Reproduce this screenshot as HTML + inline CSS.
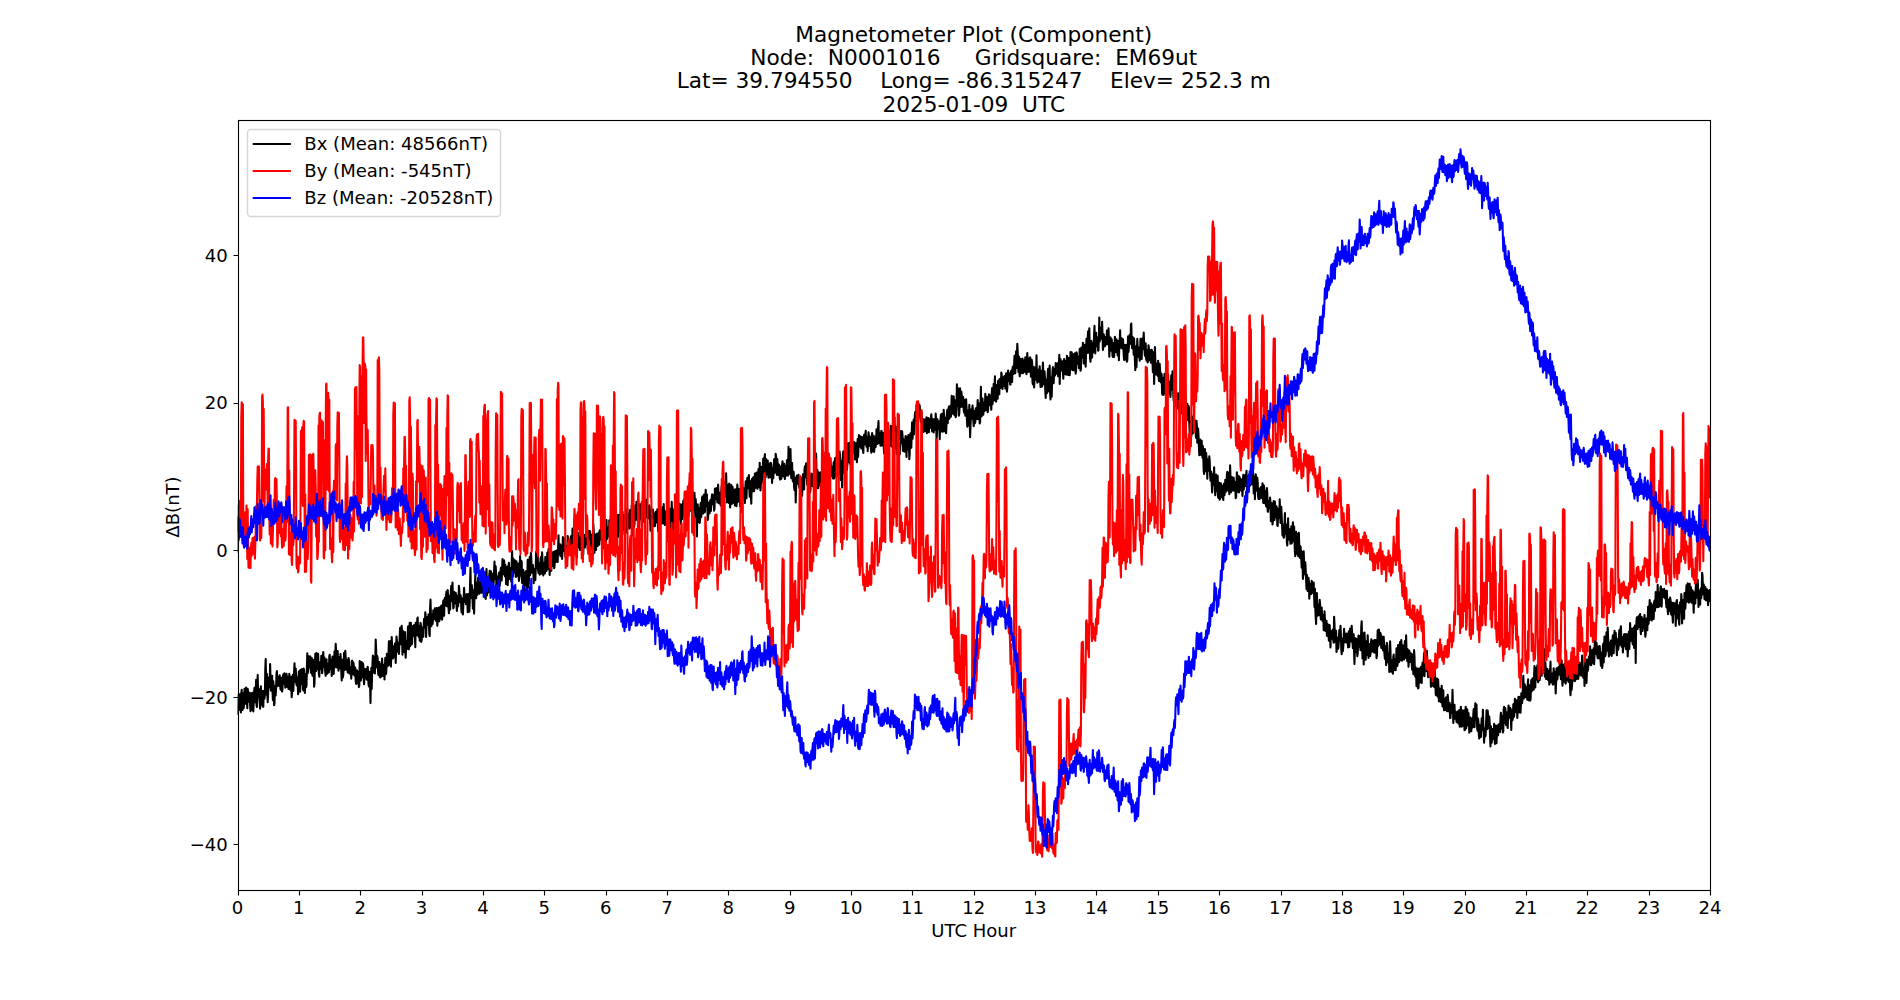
<!DOCTYPE html>
<html lang="en"><head><meta charset="utf-8"><title>Magnetometer Plot (Component)</title>
<style>html,body{margin:0;padding:0;background:#fff}svg{display:block}text{font-family:"DejaVu Sans","Liberation Sans",sans-serif;fill:#000}</style></head><body>
<svg width="1900" height="1000" viewBox="0 0 1900 1000">
<rect width="1900" height="1000" fill="#fff"/>
<defs><clipPath id="ax"><rect x="237.5" y="120.0" width="1472.5" height="770.0"/></clipPath></defs>
<g clip-path="url(#ax)" fill="none" stroke-width="2.083" stroke-linejoin="round" stroke-linecap="butt">
<path stroke="#000" d="M237.7 715.0L238.1 705.9L238.5 694.5L238.9 710.1L239.3 708.0L239.7 699.7L240.1 694.1L240.5 701.3L240.9 712.5L241.3 693.7L241.7 689.7L242.1 703.5L242.5 710.0L242.9 696.3L243.3 693.2L243.7 708.2L244.1 702.8L244.5 688.7L244.9 694.5L245.3 703.7L245.7 700.7L246.1 687.5L246.5 693.0L246.9 700.9L247.3 708.3L247.7 688.9L248.1 692.1L248.5 701.1L248.9 701.6L249.3 695.3L249.7 692.9L250.1 704.1L250.5 711.1L250.9 693.5L251.3 693.5L251.7 709.9L252.1 701.5L252.5 692.9L252.9 696.3L253.3 711.5L253.7 703.6L254.1 691.8L254.5 687.9L254.9 700.0L255.3 702.2L255.7 694.1L256.1 679.8L256.5 704.3L256.9 707.0L257.3 697.2L257.7 674.9L258.1 691.8L258.5 697.2L258.9 692.2L259.3 689.3L259.7 701.8L260.1 708.7L260.5 698.0L260.9 686.3L261.3 702.0L261.7 705.0L262.1 690.9L262.5 691.0L262.9 706.8L263.3 706.7L263.7 691.0L264.1 690.9L264.5 698.7L264.9 694.6L265.3 668.5L265.7 659.1L266.1 677.9L266.5 694.6L266.9 673.7L267.3 689.6L267.7 702.2L268.1 694.2L268.5 679.1L268.9 677.3L269.3 687.5L269.7 684.4L270.1 664.1L270.5 676.3L270.9 690.6L271.3 686.5L271.7 676.6L272.1 675.9L272.5 689.4L272.9 700.2L273.3 681.2L273.7 687.9L274.1 705.3L274.5 703.8L274.9 686.4L275.3 686.2L275.7 695.4L276.1 687.7L276.5 673.9L276.9 671.1L277.3 686.1L277.7 685.7L278.1 680.0L278.5 676.8L278.9 684.5L279.3 686.0L279.7 675.2L280.1 680.7L280.5 689.4L280.9 689.8L281.3 679.6L281.7 677.7L282.1 691.5L282.5 688.5L282.9 676.4L283.3 674.2L283.7 683.9L284.1 683.8L284.5 673.4L284.9 676.7L285.3 687.7L285.7 683.6L286.1 675.3L286.5 673.7L286.9 686.6L287.3 686.9L287.7 676.7L288.1 678.4L288.5 688.9L288.9 683.7L289.3 673.8L289.7 677.7L290.1 688.7L290.5 690.1L290.9 676.9L291.3 685.8L291.7 697.3L292.1 690.2L292.5 677.4L292.9 674.9L293.3 690.9L293.7 680.8L294.1 672.2L294.5 663.3L294.9 680.6L295.3 682.1L295.7 668.5L296.1 674.4L296.5 684.6L296.9 685.6L297.3 677.1L297.7 682.5L298.1 694.2L298.5 686.4L298.9 671.7L299.3 671.3L299.7 679.1L300.1 691.7L300.5 669.7L300.9 673.7L301.3 683.9L301.7 680.4L302.1 669.1L302.5 678.8L302.9 688.9L303.3 690.6L303.7 668.6L304.1 670.5L304.5 684.0L304.9 693.0L305.3 675.1L305.7 674.1L306.1 687.2L306.5 685.5L306.9 667.7L307.3 653.2L307.7 673.5L308.1 669.8L308.5 656.4L308.9 658.6L309.3 665.5L309.7 667.7L310.1 656.4L310.5 664.2L310.9 672.4L311.3 673.1L311.7 657.7L312.1 664.4L312.5 675.7L312.9 672.5L313.3 659.9L313.7 663.2L314.1 686.7L314.5 683.5L314.9 665.1L315.3 653.8L315.7 666.8L316.1 671.0L316.5 653.0L316.9 661.1L317.3 669.3L317.7 665.5L318.1 653.9L318.5 663.5L318.9 674.1L319.3 676.7L319.7 664.9L320.1 662.3L320.5 668.9L320.9 668.7L321.3 655.8L321.7 659.6L322.1 673.2L322.5 670.2L322.9 655.8L323.3 652.0L323.7 665.7L324.1 666.6L324.5 657.6L324.9 666.3L325.3 672.8L325.7 675.8L326.1 665.3L326.5 659.4L326.9 671.1L327.3 673.7L327.7 665.3L328.1 663.7L328.5 671.4L328.9 672.3L329.3 656.0L329.7 654.8L330.1 665.8L330.5 669.2L330.9 659.6L331.3 665.4L331.7 676.0L332.1 668.8L332.5 656.6L332.9 657.5L333.3 670.0L333.7 673.9L334.1 661.2L334.5 651.2L334.9 667.4L335.3 654.7L335.7 643.7L336.1 650.9L336.5 660.5L336.9 667.5L337.3 656.9L337.7 651.1L338.1 663.5L338.5 670.7L338.9 660.1L339.3 657.1L339.7 668.3L340.1 664.2L340.5 654.1L340.9 659.9L341.3 671.5L341.7 680.4L342.1 664.1L342.5 659.8L342.9 677.4L343.3 674.6L343.7 664.3L344.1 652.7L344.5 669.9L344.9 663.6L345.3 650.9L345.7 658.3L346.1 667.5L346.5 669.7L346.9 660.0L347.3 663.8L347.7 672.4L348.1 671.7L348.5 658.0L348.9 659.4L349.3 673.4L349.7 673.4L350.1 667.1L350.5 667.1L350.9 674.5L351.3 678.6L351.7 661.3L352.1 660.7L352.5 674.1L352.9 674.2L353.3 662.4L353.7 664.0L354.1 673.1L354.5 675.5L354.9 667.4L355.3 668.4L355.7 681.2L356.1 683.9L356.5 675.1L356.9 670.3L357.3 681.8L357.7 683.1L358.1 671.9L358.5 680.1L358.9 687.1L359.3 685.5L359.7 661.1L360.1 666.8L360.5 674.4L360.9 680.6L361.3 662.1L361.7 662.1L362.1 673.8L362.5 677.2L362.9 663.3L363.3 665.4L363.7 678.7L364.1 684.3L364.5 675.7L364.9 669.0L365.3 678.3L365.7 678.2L366.1 672.8L366.5 668.7L366.9 679.6L367.3 677.3L367.7 666.7L368.1 671.5L368.5 683.9L368.9 686.4L369.3 671.8L369.7 675.1L370.1 685.8L370.5 703.1L370.9 677.4L371.3 668.1L371.7 688.9L372.1 674.5L372.5 663.3L372.9 655.6L373.3 666.5L373.7 672.5L374.1 657.2L374.5 659.2L374.9 673.4L375.3 660.0L375.7 639.5L376.1 649.4L376.5 661.3L376.9 667.5L377.3 656.1L377.7 658.6L378.1 672.8L378.5 675.2L378.9 663.8L379.3 662.1L379.7 668.6L380.1 677.5L380.5 664.3L380.9 670.3L381.3 676.6L381.7 673.3L382.1 658.5L382.5 666.5L382.9 675.6L383.3 675.9L383.7 666.3L384.1 664.8L384.5 679.5L384.9 668.1L385.3 657.9L385.7 658.8L386.1 673.9L386.5 667.7L386.9 653.8L387.3 656.0L387.7 665.7L388.1 665.7L388.5 654.5L388.9 641.4L389.3 660.1L389.7 664.8L390.1 646.4L390.5 641.0L390.9 666.6L391.3 655.7L391.7 637.1L392.1 646.6L392.5 656.5L392.9 658.5L393.3 648.1L393.7 646.3L394.1 657.1L394.5 652.2L394.9 643.5L395.3 644.0L395.7 662.9L396.1 650.7L396.5 636.6L396.9 640.7L397.3 651.8L397.7 651.6L398.1 644.9L398.5 643.1L398.9 653.9L399.3 646.8L399.7 637.0L400.1 627.8L400.5 644.3L400.9 642.8L401.3 630.0L401.7 625.7L402.1 640.6L402.5 654.7L402.9 630.9L403.3 639.8L403.7 651.9L404.1 642.1L404.5 635.6L404.9 632.0L405.3 650.4L405.7 657.6L406.1 646.5L406.5 640.8L406.9 649.1L407.3 643.8L407.7 632.9L408.1 626.2L408.5 647.1L408.9 649.2L409.3 632.5L409.7 622.8L410.1 646.3L410.5 633.7L410.9 622.7L411.3 631.9L411.7 644.4L412.1 642.8L412.5 630.1L412.9 626.0L413.3 635.9L413.7 634.7L414.1 625.0L414.5 627.2L414.9 635.9L415.3 647.2L415.7 622.7L416.1 623.1L416.5 635.3L416.9 629.2L417.3 618.7L417.7 617.6L418.1 632.8L418.5 636.7L418.9 625.8L419.3 629.5L419.7 640.6L420.1 636.1L420.5 622.8L420.9 625.1L421.3 641.9L421.7 639.7L422.1 630.9L422.5 627.5L422.9 635.1L423.3 636.7L423.7 625.5L424.1 618.8L424.5 627.5L424.9 626.6L425.3 612.3L425.7 617.0L426.1 637.0L426.5 625.4L426.9 617.5L427.3 617.1L427.7 624.8L428.1 623.1L428.5 614.3L428.9 619.0L429.3 634.2L429.7 635.9L430.1 608.2L430.5 599.6L430.9 613.7L431.3 626.2L431.7 614.6L432.1 615.3L432.5 624.2L432.9 621.3L433.3 610.4L433.7 611.2L434.1 618.8L434.5 617.8L434.9 608.3L435.3 610.9L435.7 620.6L436.1 617.5L436.5 608.1L436.9 608.0L437.3 625.8L437.7 621.1L438.1 609.6L438.5 607.7L438.9 615.0L439.3 621.2L439.7 607.2L440.1 607.4L440.5 615.6L440.9 618.8L441.3 605.5L441.7 606.0L442.1 619.6L442.5 614.4L442.9 605.5L443.3 600.6L443.7 612.5L444.1 615.8L444.5 600.4L444.9 597.7L445.3 605.5L445.7 604.3L446.1 594.4L446.5 591.6L446.9 606.3L447.3 605.0L447.7 590.1L448.1 596.2L448.5 607.7L448.9 613.2L449.3 596.0L449.7 597.8L450.1 609.7L450.5 599.4L450.9 590.0L451.3 585.8L451.7 599.5L452.1 601.1L452.5 582.6L452.9 598.6L453.3 608.5L453.7 607.3L454.1 591.8L454.5 593.5L454.9 603.5L455.3 602.9L455.7 592.9L456.1 595.8L456.5 604.9L456.9 611.0L457.3 598.9L457.7 595.6L458.1 606.4L458.5 601.1L458.9 585.8L459.3 589.8L459.7 599.8L460.1 601.9L460.5 595.1L460.9 597.2L461.3 609.2L461.7 612.5L462.1 601.6L462.5 598.6L462.9 614.4L463.3 606.1L463.7 596.9L464.1 587.7L464.5 600.6L464.9 602.0L465.3 594.6L465.7 594.7L466.1 604.1L466.5 601.5L466.9 594.0L467.3 599.6L467.7 612.2L468.1 605.4L468.5 594.0L468.9 602.5L469.3 611.8L469.7 602.8L470.1 582.4L470.5 567.7L470.9 597.5L471.3 597.8L471.7 584.9L472.1 588.6L472.5 598.3L472.9 608.8L473.3 590.4L473.7 591.0L474.1 613.6L474.5 595.1L474.9 586.4L475.3 574.3L475.7 591.4L476.1 598.3L476.5 582.8L476.9 584.6L477.3 594.9L477.7 591.1L478.1 577.5L478.5 581.1L478.9 591.3L479.3 593.6L479.7 585.8L480.1 581.9L480.5 590.8L480.9 592.7L481.3 584.0L481.7 576.9L482.1 592.8L482.5 590.3L482.9 582.7L483.3 581.3L483.7 589.9L484.1 593.4L484.5 581.3L484.9 588.2L485.3 598.1L485.7 598.9L486.1 584.9L486.5 569.0L486.9 595.5L487.3 591.8L487.7 584.5L488.1 579.2L488.5 592.4L488.9 591.9L489.3 575.2L489.7 570.8L490.1 585.1L490.5 587.2L490.9 571.3L491.3 574.2L491.7 585.1L492.1 591.3L492.5 573.8L492.9 579.1L493.3 586.1L493.7 582.3L494.1 570.6L494.5 561.5L494.9 578.0L495.3 578.9L495.7 566.3L496.1 574.3L496.5 590.9L496.9 590.9L497.3 576.6L497.7 580.2L498.1 586.6L498.5 584.0L498.9 573.8L499.3 572.4L499.7 585.8L500.1 582.6L500.5 572.4L500.9 567.8L501.3 579.5L501.7 580.5L502.1 569.9L502.5 559.1L502.9 574.4L503.3 571.5L503.7 561.2L504.1 560.4L504.5 570.1L504.9 576.2L505.3 564.7L505.7 569.9L506.1 584.2L506.5 574.9L506.9 566.9L507.3 566.8L507.7 585.1L508.1 576.8L508.5 566.6L508.9 562.9L509.3 575.8L509.7 578.9L510.1 567.9L510.5 568.0L510.9 579.0L511.3 581.6L511.7 563.0L512.1 551.0L512.5 571.2L512.9 576.7L513.3 558.6L513.7 562.8L514.1 572.7L514.5 571.0L514.9 560.2L515.3 564.8L515.7 576.7L516.1 577.0L516.5 561.4L516.9 568.3L517.3 575.6L517.7 575.3L518.1 563.6L518.5 569.7L518.9 580.9L519.3 578.7L519.7 568.3L520.1 556.0L520.5 575.7L520.9 573.0L521.3 560.9L521.7 561.4L522.1 582.9L522.5 580.3L522.9 569.5L523.3 570.1L523.7 589.0L524.1 594.5L524.5 576.5L524.9 572.6L525.3 585.2L525.7 583.8L526.1 571.1L526.5 580.3L526.9 593.3L527.3 580.7L527.7 559.7L528.1 573.2L528.5 587.5L528.9 581.1L529.3 568.8L529.7 557.1L530.1 575.3L530.5 569.9L530.9 553.0L531.3 558.2L531.7 572.6L532.1 572.4L532.5 565.6L532.9 565.1L533.3 571.9L533.7 583.2L534.1 568.7L534.5 571.8L534.9 580.3L535.3 580.3L535.7 569.6L536.1 551.8L536.5 562.9L536.9 568.1L537.3 558.2L537.7 553.0L538.1 570.1L538.5 573.0L538.9 564.1L539.3 563.3L539.7 574.7L540.1 573.0L540.5 559.2L540.9 557.1L541.3 573.8L541.7 562.8L542.1 552.3L542.5 560.0L542.9 567.2L543.3 575.5L543.7 564.8L544.1 562.7L544.5 572.8L544.9 573.5L545.3 557.1L545.7 559.5L546.1 569.4L546.5 571.0L546.9 565.8L547.3 552.8L547.7 569.1L548.1 565.2L548.5 549.1L548.9 559.4L549.3 564.9L549.7 574.9L550.1 557.0L550.5 547.7L550.9 560.3L551.3 570.7L551.7 553.0L552.1 555.1L552.5 566.0L552.9 565.2L553.3 551.9L553.7 552.0L554.1 568.1L554.5 566.9L554.9 553.7L555.3 551.0L555.7 562.1L556.1 560.8L556.5 551.1L556.9 550.4L557.3 554.8L557.7 561.9L558.1 547.7L558.5 535.3L558.9 554.1L559.3 553.4L559.7 544.5L560.1 544.3L560.5 556.1L560.9 554.3L561.3 545.6L561.7 547.7L562.1 559.0L562.5 551.1L562.9 537.0L563.3 541.2L563.7 550.9L564.1 550.8L564.5 538.9L564.9 544.2L565.3 555.0L565.7 557.4L566.1 548.9L566.5 546.1L566.9 562.5L567.3 553.7L567.7 536.1L568.1 539.4L568.5 551.4L568.9 552.0L569.3 539.8L569.7 545.0L570.1 552.5L570.5 545.9L570.9 536.5L571.3 536.1L571.7 542.6L572.1 546.3L572.5 528.6L572.9 532.1L573.3 551.1L573.7 547.1L574.1 540.8L574.5 532.5L574.9 545.6L575.3 547.1L575.7 538.0L576.1 540.7L576.5 556.3L576.9 557.5L577.3 547.4L577.7 541.6L578.1 547.1L578.5 545.2L578.9 536.1L579.3 532.5L579.7 548.0L580.1 550.0L580.5 539.2L580.9 527.9L581.3 547.9L581.7 543.1L582.1 530.3L582.5 532.9L582.9 547.6L583.3 554.4L583.7 536.5L584.1 534.8L584.5 545.5L584.9 547.5L585.3 538.6L585.7 534.7L586.1 544.3L586.5 541.2L586.9 528.0L587.3 537.8L587.7 548.7L588.1 550.6L588.5 536.4L588.9 530.8L589.3 543.1L589.7 544.3L590.1 531.3L590.5 537.8L590.9 548.3L591.3 547.1L591.7 535.3L592.1 534.7L592.5 550.5L592.9 545.5L593.3 523.8L593.7 530.6L594.1 552.9L594.5 552.7L594.9 534.9L595.3 536.3L595.7 547.1L596.1 549.9L596.5 533.8L596.9 535.1L597.3 543.7L597.7 545.9L598.1 535.9L598.5 532.9L598.9 544.8L599.3 544.3L599.7 530.4L600.1 530.6L600.5 539.6L600.9 538.9L601.3 529.7L601.7 520.6L602.1 539.0L602.5 540.9L602.9 530.6L603.3 534.9L603.7 543.3L604.1 548.3L604.5 529.8L604.9 534.3L605.3 542.6L605.7 550.8L606.1 536.2L606.5 520.1L606.9 539.2L607.3 536.2L607.7 528.0L608.1 527.4L608.5 536.8L608.9 535.7L609.3 520.3L609.7 522.7L610.1 533.6L610.5 533.4L610.9 517.0L611.3 514.4L611.7 531.3L612.1 541.2L612.5 526.2L612.9 521.6L613.3 537.0L613.7 537.6L614.1 527.2L614.5 518.2L614.9 535.8L615.3 533.9L615.7 525.0L616.1 526.6L616.5 533.7L616.9 532.8L617.3 523.7L617.7 515.1L618.1 537.0L618.5 527.4L618.9 514.8L619.3 522.9L619.7 531.5L620.1 531.0L620.5 521.0L620.9 512.4L621.3 532.9L621.7 529.6L622.1 519.4L622.5 511.7L622.9 527.2L623.3 529.5L623.7 520.1L624.1 515.1L624.5 534.0L624.9 534.3L625.3 524.2L625.7 516.9L626.1 532.5L626.5 524.9L626.9 513.6L627.3 508.4L627.7 527.1L628.1 526.9L628.5 513.9L628.9 517.1L629.3 528.6L629.7 527.6L630.1 510.0L630.5 509.9L630.9 526.0L631.3 527.8L631.7 505.7L632.1 521.2L632.5 532.7L632.9 535.2L633.3 519.8L633.7 517.4L634.1 526.8L634.5 524.0L634.9 517.0L635.3 505.5L635.7 520.0L636.1 518.6L636.5 501.8L636.9 506.4L637.3 516.0L637.7 520.7L638.1 499.6L638.5 514.3L638.9 527.7L639.3 523.9L639.7 506.8L640.1 504.4L640.5 518.9L640.9 519.3L641.3 505.9L641.7 503.6L642.1 516.1L642.5 516.6L642.9 502.2L643.3 509.7L643.7 521.6L644.1 519.2L644.5 505.3L644.9 508.0L645.3 516.1L645.7 514.5L646.1 499.5L646.5 505.6L646.9 514.5L647.3 518.1L647.7 510.7L648.1 507.3L648.5 518.5L648.9 517.1L649.3 505.4L649.7 507.3L650.1 518.4L650.5 530.6L650.9 510.3L651.3 515.0L651.7 526.7L652.1 521.0L652.5 517.0L652.9 509.5L653.3 519.7L653.7 526.1L654.1 515.6L654.5 513.6L654.9 526.1L655.3 519.1L655.7 511.7L656.1 512.4L656.5 520.8L656.9 522.6L657.3 509.2L657.7 518.1L658.1 530.9L658.5 525.8L658.9 520.5L659.3 512.6L659.7 522.4L660.1 522.7L660.5 512.1L660.9 511.5L661.3 520.9L661.7 523.4L662.1 509.8L662.5 507.2L662.9 518.1L663.3 523.5L663.7 504.1L664.1 515.4L664.5 522.0L664.9 525.0L665.3 513.0L665.7 511.4L666.1 517.7L666.5 522.1L666.9 513.0L667.3 515.4L667.7 531.4L668.1 541.3L668.5 512.3L668.9 515.2L669.3 527.0L669.7 527.9L670.1 508.9L670.5 509.4L670.9 520.5L671.3 531.0L671.7 501.8L672.1 512.0L672.5 536.0L672.9 522.9L673.3 511.4L673.7 509.5L674.1 532.1L674.5 531.0L674.9 512.9L675.3 511.9L675.7 526.8L676.1 524.7L676.5 514.1L676.9 510.8L677.3 519.1L677.7 517.1L678.1 507.3L678.5 506.7L678.9 514.5L679.3 519.5L679.7 503.8L680.1 507.3L680.5 515.0L680.9 523.9L681.3 515.1L681.7 504.6L682.1 519.1L682.5 512.3L682.9 505.2L683.3 500.8L683.7 516.3L684.1 513.9L684.5 499.2L684.9 507.0L685.3 515.7L685.7 513.1L686.1 502.0L686.5 493.3L686.9 513.1L687.3 518.9L687.7 498.0L688.1 498.7L688.5 515.8L688.9 505.7L689.3 488.5L689.7 502.2L690.1 507.8L690.5 510.6L690.9 493.6L691.3 497.1L691.7 507.3L692.1 507.5L692.5 491.7L692.9 496.7L693.3 506.1L693.7 510.3L694.1 503.6L694.5 492.9L694.9 503.5L695.3 516.5L695.7 499.0L696.1 506.6L696.5 525.3L696.9 536.4L697.3 515.3L697.7 504.4L698.1 520.9L698.5 521.9L698.9 512.4L699.3 508.1L699.7 522.9L700.1 519.6L700.5 504.4L700.9 502.7L701.3 516.9L701.7 509.6L702.1 497.4L702.5 496.4L702.9 508.3L703.3 513.4L703.7 502.4L704.1 494.5L704.5 507.3L704.9 512.2L705.3 497.0L705.7 489.8L706.1 501.1L706.5 506.1L706.9 494.6L707.3 504.9L707.7 519.9L708.1 518.1L708.5 502.7L708.9 504.1L709.3 513.4L709.7 513.2L710.1 501.2L710.5 500.0L710.9 510.9L711.3 504.8L711.7 497.8L712.1 494.4L712.5 503.8L712.9 504.2L713.3 496.3L713.7 495.0L714.1 510.8L714.5 508.9L714.9 489.0L715.3 488.5L715.7 499.3L716.1 497.4L716.5 488.0L716.9 490.5L717.3 502.4L717.7 500.4L718.1 484.5L718.5 493.1L718.9 503.3L719.3 502.7L719.7 492.8L720.1 492.7L720.5 504.7L720.9 505.5L721.3 490.4L721.7 486.1L722.1 506.7L722.5 502.2L722.9 490.3L723.3 487.8L723.7 494.5L724.1 496.7L724.5 487.7L724.9 481.8L725.3 496.6L725.7 496.5L726.1 473.2L726.5 488.3L726.9 502.5L727.3 497.6L727.7 487.8L728.1 484.7L728.5 494.4L728.9 503.0L729.3 483.5L729.7 488.2L730.1 507.5L730.5 503.2L730.9 492.4L731.3 485.0L731.7 498.6L732.1 503.8L732.5 486.9L732.9 491.2L733.3 502.6L733.7 500.0L734.1 489.6L734.5 495.7L734.9 505.4L735.3 498.7L735.7 489.3L736.1 491.8L736.5 506.2L736.9 499.9L737.3 484.5L737.7 490.0L738.1 501.6L738.5 500.2L738.9 489.2L739.3 489.1L739.7 495.3L740.1 506.2L740.5 494.2L740.9 492.2L741.3 511.7L741.7 495.2L742.1 483.5L742.5 487.3L742.9 496.3L743.3 497.8L743.7 488.2L744.1 490.6L744.5 500.3L744.9 503.0L745.3 490.5L745.7 481.2L746.1 493.6L746.5 498.3L746.9 482.8L747.3 477.8L747.7 488.3L748.1 488.3L748.5 479.8L748.9 475.1L749.3 486.8L749.7 496.6L750.1 481.0L750.5 483.9L750.9 497.5L751.3 503.6L751.7 482.5L752.1 478.9L752.5 491.5L752.9 486.5L753.3 477.3L753.7 477.0L754.1 491.3L754.5 485.6L754.9 473.5L755.3 479.2L755.7 487.6L756.1 487.0L756.5 472.5L756.9 477.7L757.3 488.8L757.7 483.3L758.1 474.4L758.5 469.0L758.9 481.7L759.3 487.5L759.7 462.7L760.1 478.4L760.5 490.4L760.9 483.6L761.3 473.0L761.7 467.0L762.1 482.3L762.5 473.8L762.9 464.6L763.3 458.5L763.7 472.2L764.1 477.3L764.5 458.5L764.9 454.1L765.3 476.2L765.7 477.2L766.1 459.0L766.5 461.5L766.9 474.6L767.3 473.3L767.7 460.5L768.1 467.5L768.5 477.8L768.9 477.2L769.3 468.4L769.7 463.6L770.1 477.2L770.5 470.6L770.9 462.8L771.3 464.5L771.7 473.9L772.1 482.9L772.5 468.9L772.9 467.8L773.3 478.3L773.7 470.4L774.1 459.3L774.5 464.4L774.9 472.7L775.3 468.5L775.7 453.9L776.1 457.4L776.5 467.0L776.9 474.9L777.3 459.0L777.7 464.9L778.1 474.6L778.5 474.9L778.9 464.5L779.3 466.0L779.7 478.0L780.1 479.6L780.5 468.7L780.9 466.5L781.3 478.8L781.7 473.9L782.1 464.8L782.5 461.3L782.9 469.2L783.3 476.1L783.7 465.4L784.1 463.8L784.5 476.6L784.9 479.0L785.3 465.9L785.7 468.2L786.1 475.6L786.5 469.5L786.9 460.7L787.3 459.8L787.7 467.8L788.1 475.6L788.5 446.9L788.9 461.3L789.3 473.9L789.7 468.2L790.1 454.4L790.5 449.0L790.9 469.6L791.3 478.3L791.7 464.2L792.1 463.1L792.5 478.7L792.9 481.4L793.3 471.5L793.7 472.1L794.1 486.9L794.5 490.2L794.9 479.0L795.3 478.2L795.7 502.5L796.1 488.1L796.5 476.9L796.9 475.5L797.3 482.5L797.7 483.6L798.1 475.6L798.5 474.8L798.9 484.1L799.3 487.7L799.7 478.1L800.1 479.6L800.5 489.2L800.9 492.1L801.3 483.7L801.7 477.9L802.1 495.6L802.5 483.3L802.9 474.2L803.3 478.8L803.7 488.8L804.1 489.5L804.5 470.0L804.9 466.3L805.3 477.2L805.7 477.1L806.1 463.2L806.5 463.9L806.9 480.1L807.3 484.8L807.7 474.7L808.1 475.2L808.5 496.1L808.9 495.2L809.3 482.2L809.7 477.7L810.1 492.3L810.5 489.1L810.9 480.1L811.3 473.6L811.7 485.9L812.1 482.4L812.5 474.3L812.9 477.6L813.3 486.4L813.7 481.2L814.1 472.0L814.5 472.0L814.9 480.6L815.3 478.3L815.7 469.0L816.1 453.5L816.5 471.9L816.9 488.1L817.3 469.9L817.7 476.3L818.1 488.3L818.5 486.1L818.9 472.3L819.3 475.1L819.7 485.2L820.1 482.7L820.5 473.4L820.9 472.4L821.3 477.0L821.7 480.7L822.1 468.9L822.5 462.9L822.9 479.4L823.3 472.7L823.7 466.1L824.1 460.4L824.5 469.8L824.9 467.4L825.3 452.5L825.7 462.9L826.1 478.7L826.5 483.8L826.9 465.2L827.3 467.3L827.7 477.9L828.1 481.2L828.5 469.4L828.9 473.4L829.3 480.6L829.7 483.0L830.1 471.0L830.5 458.2L830.9 472.5L831.3 476.0L831.7 466.6L832.1 467.0L832.5 474.1L832.9 478.4L833.3 468.1L833.7 462.2L834.1 478.4L834.5 476.0L834.9 459.4L835.3 457.7L835.7 474.1L836.1 476.8L836.5 465.3L836.9 462.8L837.3 473.0L837.7 475.8L838.1 464.7L838.5 462.0L838.9 473.2L839.3 465.1L839.7 451.5L840.1 458.2L840.5 479.9L840.9 476.6L841.3 462.0L841.7 460.9L842.1 487.5L842.5 470.8L842.9 454.3L843.3 451.4L843.7 472.8L844.1 472.4L844.5 455.6L844.9 464.5L845.3 479.5L845.7 474.5L846.1 465.0L846.5 443.3L846.9 470.0L847.3 465.3L847.7 443.6L848.1 448.1L848.5 462.3L848.9 456.0L849.3 442.7L849.7 449.5L850.1 463.9L850.5 457.2L850.9 447.1L851.3 442.2L851.7 458.9L852.1 452.7L852.5 441.9L852.9 444.0L853.3 451.0L853.7 453.2L854.1 442.1L854.5 443.5L854.9 459.5L855.3 456.0L855.7 446.0L856.1 443.0L856.5 453.5L856.9 462.2L857.3 449.0L857.7 439.0L858.1 456.9L858.5 446.4L858.9 435.1L859.3 438.8L859.7 446.8L860.1 443.0L860.5 436.3L860.9 436.9L861.3 448.5L861.7 448.3L862.1 437.1L862.5 437.9L862.9 449.8L863.3 452.9L863.7 440.8L864.1 434.7L864.5 444.4L864.9 441.9L865.3 435.6L865.7 430.9L866.1 441.8L866.5 446.6L866.9 438.8L867.3 437.2L867.7 451.3L868.1 443.3L868.5 432.4L868.9 435.1L869.3 444.4L869.7 445.9L870.1 438.0L870.5 436.8L870.9 448.1L871.3 452.6L871.7 443.2L872.1 433.0L872.5 451.3L872.9 445.5L873.3 438.0L873.7 435.7L874.1 452.0L874.5 447.7L874.9 439.0L875.3 437.3L875.7 446.9L876.1 440.4L876.5 429.4L876.9 433.4L877.3 444.0L877.7 443.1L878.1 427.6L878.5 421.0L878.9 443.1L879.3 442.7L879.7 432.9L880.1 433.2L880.5 445.8L880.9 442.6L881.3 430.7L881.7 431.3L882.1 445.4L882.5 445.1L882.9 433.3L883.3 432.8L883.7 444.7L884.1 453.4L884.5 438.9L884.9 435.4L885.3 456.4L885.7 441.8L886.1 431.9L886.5 430.3L886.9 445.1L887.3 447.2L887.7 434.8L888.1 433.9L888.5 443.7L888.9 448.7L889.3 437.7L889.7 439.4L890.1 445.9L890.5 442.9L890.9 425.8L891.3 429.2L891.7 444.7L892.1 446.7L892.5 433.5L892.9 433.1L893.3 441.6L893.7 438.8L894.1 423.5L894.5 417.5L894.9 436.8L895.3 448.3L895.7 426.4L896.1 432.3L896.5 452.8L896.9 454.0L897.3 439.6L897.7 435.0L898.1 445.1L898.5 446.1L898.9 439.2L899.3 437.1L899.7 454.4L900.1 446.3L900.5 437.0L900.9 431.1L901.3 443.3L901.7 441.3L902.1 431.4L902.5 435.4L902.9 450.5L903.3 451.0L903.7 439.3L904.1 442.0L904.5 451.7L904.9 450.0L905.3 439.0L905.7 436.0L906.1 445.3L906.5 457.0L906.9 438.9L907.3 436.7L907.7 449.6L908.1 446.1L908.5 435.1L908.9 440.2L909.3 459.2L909.7 454.1L910.1 436.0L910.5 433.2L910.9 445.9L911.3 447.7L911.7 434.4L912.1 422.3L912.5 438.8L912.9 434.3L913.3 426.6L913.7 419.5L914.1 434.1L914.5 426.4L914.9 414.2L915.3 411.8L915.7 421.0L916.1 419.9L916.5 405.2L916.9 410.6L917.3 424.6L917.7 423.6L918.1 413.5L918.5 403.5L918.9 416.2L919.3 416.2L919.7 405.3L920.1 413.9L920.5 419.7L920.9 422.2L921.3 411.5L921.7 412.9L922.1 427.9L922.5 429.2L922.9 419.1L923.3 421.3L923.7 431.9L924.1 427.1L924.5 419.5L924.9 419.5L925.3 428.9L925.7 431.1L926.1 422.1L926.5 417.3L926.9 433.2L927.3 429.2L927.7 419.2L928.1 418.0L928.5 427.2L928.9 432.1L929.3 421.6L929.7 418.8L930.1 427.9L930.5 426.1L930.9 418.4L931.3 414.4L931.7 424.6L932.1 431.4L932.5 418.7L932.9 420.7L933.3 431.4L933.7 432.5L934.1 419.5L934.5 419.2L934.9 429.6L935.3 426.4L935.7 413.5L936.1 420.5L936.5 439.0L936.9 435.1L937.3 419.0L937.7 420.7L938.1 428.7L938.5 428.9L938.9 421.4L939.3 427.1L939.7 439.1L940.1 428.1L940.5 420.6L940.9 414.5L941.3 425.5L941.7 431.5L942.1 413.9L942.5 421.0L942.9 431.6L943.3 427.4L943.7 409.7L944.1 416.1L944.5 428.9L944.9 431.4L945.3 419.1L945.7 417.8L946.1 433.3L946.5 423.4L946.9 413.9L947.3 409.8L947.7 423.2L948.1 416.1L948.5 409.9L948.9 406.6L949.3 418.8L949.7 417.3L950.1 412.7L950.5 405.5L950.9 416.6L951.3 408.6L951.7 395.8L952.1 401.7L952.5 413.8L952.9 410.8L953.3 396.7L953.7 396.4L954.1 409.5L954.5 415.3L954.9 400.4L955.3 404.0L955.7 417.2L956.1 415.4L956.5 406.1L956.9 384.2L957.3 405.9L957.7 399.0L958.1 388.2L958.5 397.2L958.9 415.7L959.3 413.0L959.7 402.1L960.1 388.4L960.5 406.9L960.9 401.8L961.3 391.5L961.7 394.8L962.1 406.6L962.5 405.3L962.9 396.7L963.3 397.7L963.7 409.8L964.1 412.6L964.5 400.0L964.9 401.0L965.3 415.7L965.7 409.0L966.1 399.4L966.5 407.0L966.9 418.3L967.3 426.6L967.7 411.3L968.1 410.2L968.5 422.2L968.9 425.5L969.3 404.9L969.7 418.8L970.1 437.2L970.5 426.8L970.9 415.6L971.3 409.2L971.7 418.7L972.1 412.2L972.5 405.6L972.9 409.6L973.3 420.0L973.7 426.1L974.1 411.1L974.5 412.3L974.9 423.2L975.3 422.0L975.7 409.0L976.1 408.0L976.5 419.1L976.9 419.0L977.3 409.0L977.7 400.1L978.1 417.8L978.5 419.2L978.9 403.2L979.3 409.3L979.7 423.4L980.1 422.1L980.5 409.8L980.9 386.7L981.3 411.1L981.7 416.1L982.1 407.5L982.5 398.5L982.9 412.3L983.3 414.8L983.7 404.5L984.1 402.6L984.5 411.2L984.9 408.3L985.3 393.8L985.7 399.0L986.1 408.9L986.5 410.3L986.9 397.1L987.3 400.1L987.7 412.2L988.1 410.2L988.5 399.3L988.9 394.4L989.3 405.1L989.7 403.1L990.1 395.3L990.5 396.5L990.9 405.0L991.3 409.8L991.7 395.6L992.1 388.0L992.5 404.2L992.9 397.7L993.3 391.4L993.7 383.7L994.1 400.5L994.5 394.0L994.9 376.4L995.3 387.8L995.7 394.9L996.1 401.7L996.5 385.3L996.9 385.0L997.3 393.3L997.7 398.8L998.1 381.0L998.5 380.6L998.9 391.4L999.3 394.1L999.7 379.0L1000.1 380.2L1000.5 387.9L1000.9 387.5L1001.3 372.6L1001.7 374.3L1002.1 385.1L1002.5 388.9L1002.9 378.7L1003.3 377.2L1003.7 384.7L1004.1 386.0L1004.5 376.1L1004.9 377.2L1005.3 388.4L1005.7 380.7L1006.1 373.2L1006.5 378.6L1006.9 391.6L1007.3 388.0L1007.7 376.0L1008.1 370.6L1008.5 380.7L1008.9 380.7L1009.3 373.6L1009.7 376.2L1010.1 384.3L1010.5 384.6L1010.9 371.4L1011.3 370.7L1011.7 381.8L1012.1 382.0L1012.5 368.6L1012.9 366.5L1013.3 372.6L1013.7 374.0L1014.1 365.3L1014.5 355.8L1014.9 368.4L1015.3 373.1L1015.7 362.4L1016.1 351.3L1016.5 368.0L1016.9 358.1L1017.3 343.7L1017.7 351.3L1018.1 365.9L1018.5 372.3L1018.9 356.6L1019.3 365.9L1019.7 376.3L1020.1 370.9L1020.5 358.8L1020.9 359.5L1021.3 373.1L1021.7 372.1L1022.1 362.7L1022.5 358.6L1022.9 373.2L1023.3 371.3L1023.7 360.7L1024.1 360.4L1024.5 371.3L1024.9 371.8L1025.3 357.4L1025.7 363.6L1026.1 372.0L1026.5 374.1L1026.9 361.1L1027.3 353.0L1027.7 372.0L1028.1 365.9L1028.5 358.5L1028.9 362.7L1029.3 371.6L1029.7 369.2L1030.1 357.2L1030.5 359.8L1030.9 376.7L1031.3 370.6L1031.7 359.7L1032.1 362.3L1032.5 382.1L1032.9 384.4L1033.3 373.5L1033.7 366.7L1034.1 387.4L1034.5 379.4L1034.9 367.7L1035.3 371.8L1035.7 379.8L1036.1 378.8L1036.5 355.3L1036.9 373.3L1037.3 382.8L1037.7 381.4L1038.1 372.5L1038.5 369.6L1038.9 380.4L1039.3 381.6L1039.7 366.4L1040.1 375.2L1040.5 387.0L1040.9 384.4L1041.3 377.5L1041.7 370.8L1042.1 386.5L1042.5 376.9L1042.9 362.6L1043.3 373.3L1043.7 383.2L1044.1 384.5L1044.5 371.4L1044.9 376.8L1045.3 391.3L1045.7 397.9L1046.1 379.6L1046.5 386.0L1046.9 393.1L1047.3 387.9L1047.7 374.8L1048.1 368.7L1048.5 388.3L1048.9 391.4L1049.3 371.7L1049.7 365.6L1050.1 392.6L1050.5 399.5L1050.9 389.7L1051.3 377.1L1051.7 396.6L1052.1 380.9L1052.5 371.2L1052.9 367.1L1053.3 382.0L1053.7 383.3L1054.1 372.0L1054.5 368.9L1054.9 375.7L1055.3 373.4L1055.7 363.1L1056.1 365.2L1056.5 373.6L1056.9 372.4L1057.3 363.6L1057.7 363.2L1058.1 376.1L1058.5 370.5L1058.9 363.9L1059.3 354.7L1059.7 383.9L1060.1 368.2L1060.5 359.2L1060.9 362.7L1061.3 368.8L1061.7 370.4L1062.1 361.3L1062.5 364.7L1062.9 372.3L1063.3 378.7L1063.7 365.7L1064.1 359.0L1064.5 374.0L1064.9 370.4L1065.3 361.1L1065.7 363.9L1066.1 374.7L1066.5 370.3L1066.9 355.8L1067.3 359.7L1067.7 370.3L1068.1 374.9L1068.5 357.9L1068.9 363.3L1069.3 374.0L1069.7 375.2L1070.1 368.4L1070.5 352.1L1070.9 369.8L1071.3 363.5L1071.7 352.4L1072.1 356.9L1072.5 366.3L1072.9 370.2L1073.3 355.1L1073.7 354.2L1074.1 370.2L1074.5 363.2L1074.9 353.4L1075.3 358.8L1075.7 373.7L1076.1 369.8L1076.5 352.3L1076.9 353.3L1077.3 361.9L1077.7 363.7L1078.1 356.8L1078.5 358.0L1078.9 368.3L1079.3 363.0L1079.7 348.8L1080.1 357.8L1080.5 370.8L1080.9 369.4L1081.3 347.6L1081.7 347.4L1082.1 357.4L1082.5 357.5L1082.9 342.8L1083.3 352.3L1083.7 363.4L1084.1 358.1L1084.5 344.7L1084.9 349.8L1085.3 363.8L1085.7 366.6L1086.1 348.1L1086.5 338.8L1086.9 351.0L1087.3 352.9L1087.7 338.9L1088.1 331.2L1088.5 352.8L1088.9 348.2L1089.3 328.4L1089.7 345.2L1090.1 358.5L1090.5 361.8L1090.9 353.3L1091.3 340.9L1091.7 357.9L1092.1 357.4L1092.5 343.4L1092.9 342.6L1093.3 352.3L1093.7 349.2L1094.1 334.7L1094.5 325.7L1094.9 344.7L1095.3 353.4L1095.7 334.7L1096.1 332.8L1096.5 343.5L1096.9 346.3L1097.3 337.4L1097.7 339.7L1098.1 350.8L1098.5 350.0L1098.9 336.7L1099.3 317.5L1099.7 341.4L1100.1 337.8L1100.5 327.5L1100.9 330.2L1101.3 338.6L1101.7 337.7L1102.1 321.8L1102.5 333.8L1102.9 349.9L1103.3 347.0L1103.7 334.4L1104.1 336.4L1104.5 344.0L1104.9 346.3L1105.3 337.0L1105.7 337.6L1106.1 343.6L1106.5 344.5L1106.9 330.5L1107.3 331.0L1107.7 340.5L1108.1 344.2L1108.5 328.4L1108.9 339.2L1109.3 356.7L1109.7 347.1L1110.1 339.4L1110.5 337.4L1110.9 348.8L1111.3 350.7L1111.7 339.3L1112.1 345.7L1112.5 355.8L1112.9 357.0L1113.3 345.0L1113.7 343.1L1114.1 356.9L1114.5 349.2L1114.9 336.8L1115.3 339.6L1115.7 349.1L1116.1 352.0L1116.5 339.3L1116.9 342.4L1117.3 352.3L1117.7 355.5L1118.1 340.8L1118.5 342.7L1118.9 360.3L1119.3 346.5L1119.7 341.7L1120.1 330.3L1120.5 346.2L1120.9 347.8L1121.3 338.0L1121.7 338.4L1122.1 348.4L1122.5 347.7L1122.9 339.2L1123.3 343.4L1123.7 354.9L1124.1 359.9L1124.5 345.0L1124.9 349.7L1125.3 359.6L1125.7 357.4L1126.1 344.7L1126.5 350.5L1126.9 361.8L1127.3 360.2L1127.7 348.5L1128.1 336.4L1128.5 351.9L1128.9 346.6L1129.3 337.4L1129.7 334.9L1130.1 344.0L1130.5 342.9L1130.9 325.1L1131.3 323.6L1131.7 341.7L1132.1 348.3L1132.5 336.9L1132.9 337.6L1133.3 345.3L1133.7 354.7L1134.1 338.5L1134.5 350.4L1134.9 360.3L1135.3 370.1L1135.7 352.4L1136.1 346.2L1136.5 367.1L1136.9 351.5L1137.3 338.8L1137.7 348.6L1138.1 354.9L1138.5 356.9L1138.9 347.5L1139.3 349.5L1139.7 360.6L1140.1 352.2L1140.5 338.9L1140.9 347.4L1141.3 358.2L1141.7 359.0L1142.1 341.5L1142.5 338.4L1142.9 349.0L1143.3 346.0L1143.7 332.6L1144.1 342.0L1144.5 350.1L1144.9 355.7L1145.3 344.6L1145.7 343.4L1146.1 358.2L1146.5 360.7L1146.9 350.1L1147.3 353.1L1147.7 362.5L1148.1 360.7L1148.5 345.3L1148.9 347.9L1149.3 359.0L1149.7 360.3L1150.1 353.4L1150.5 350.0L1150.9 362.8L1151.3 361.5L1151.7 349.7L1152.1 351.4L1152.5 362.4L1152.9 372.2L1153.3 355.7L1153.7 352.2L1154.1 384.0L1154.5 367.1L1154.9 347.0L1155.3 360.0L1155.7 374.4L1156.1 374.2L1156.5 365.0L1156.9 363.9L1157.3 375.1L1157.7 375.8L1158.1 360.7L1158.5 370.4L1158.9 381.0L1159.3 376.2L1159.7 363.9L1160.1 370.7L1160.5 381.5L1160.9 382.4L1161.3 373.5L1161.7 375.2L1162.1 393.4L1162.5 394.8L1162.9 381.4L1163.3 377.9L1163.7 394.9L1164.1 392.9L1164.5 373.9L1164.9 374.1L1165.3 392.8L1165.7 392.9L1166.1 380.7L1166.5 382.9L1166.9 398.7L1167.3 387.8L1167.7 376.1L1168.1 374.5L1168.5 388.3L1168.9 393.0L1169.3 381.5L1169.7 386.3L1170.1 394.1L1170.5 397.0L1170.9 384.4L1171.3 375.3L1171.7 389.4L1172.1 389.1L1172.5 371.4L1172.9 377.9L1173.3 394.9L1173.7 400.8L1174.1 391.5L1174.5 389.9L1174.9 398.1L1175.3 405.6L1175.7 391.3L1176.1 391.9L1176.5 405.0L1176.9 407.8L1177.3 393.6L1177.7 397.4L1178.1 406.6L1178.5 409.2L1178.9 393.2L1179.3 401.5L1179.7 414.0L1180.1 412.2L1180.5 402.3L1180.9 399.0L1181.3 413.3L1181.7 411.7L1182.1 397.4L1182.5 403.1L1182.9 412.2L1183.3 414.0L1183.7 403.3L1184.1 393.2L1184.5 406.5L1184.9 413.9L1185.3 394.1L1185.7 403.5L1186.1 412.1L1186.5 415.9L1186.9 406.7L1187.3 403.8L1187.7 416.5L1188.1 420.1L1188.5 405.8L1188.9 407.8L1189.3 422.4L1189.7 434.8L1190.1 422.1L1190.5 427.2L1190.9 437.4L1191.3 436.6L1191.7 416.8L1192.1 422.3L1192.5 432.6L1192.9 433.3L1193.3 422.5L1193.7 414.7L1194.1 430.8L1194.5 428.4L1194.9 420.3L1195.3 425.4L1195.7 433.8L1196.1 437.8L1196.5 420.9L1196.9 426.4L1197.3 442.8L1197.7 441.6L1198.1 428.6L1198.5 435.3L1198.9 447.0L1199.3 455.3L1199.7 443.4L1200.1 439.5L1200.5 449.1L1200.9 454.8L1201.3 441.1L1201.7 440.7L1202.1 453.4L1202.5 457.6L1202.9 446.1L1203.3 456.5L1203.7 471.1L1204.1 473.9L1204.5 458.5L1204.9 449.1L1205.3 471.2L1205.7 461.3L1206.1 452.8L1206.5 457.5L1206.9 464.9L1207.3 478.7L1207.7 460.7L1208.1 459.2L1208.5 466.0L1208.9 470.6L1209.3 456.4L1209.7 460.6L1210.1 474.9L1210.5 480.8L1210.9 471.4L1211.3 472.5L1211.7 481.7L1212.1 492.4L1212.5 476.4L1212.9 474.4L1213.3 484.8L1213.7 482.9L1214.1 467.2L1214.5 481.8L1214.9 490.8L1215.3 495.3L1215.7 488.0L1216.1 474.5L1216.5 490.3L1216.9 491.1L1217.3 481.4L1217.7 475.7L1218.1 497.3L1218.5 497.9L1218.9 487.8L1219.3 482.9L1219.7 499.8L1220.1 498.0L1220.5 487.0L1220.9 483.3L1221.3 497.1L1221.7 496.9L1222.1 485.7L1222.5 485.5L1222.9 498.4L1223.3 500.0L1223.7 488.9L1224.1 483.5L1224.5 495.1L1224.9 491.4L1225.3 479.9L1225.7 481.4L1226.1 491.5L1226.5 488.8L1226.9 474.4L1227.3 471.9L1227.7 486.9L1228.1 490.4L1228.5 472.8L1228.9 483.9L1229.3 494.3L1229.7 483.9L1230.1 465.4L1230.5 477.4L1230.9 492.3L1231.3 488.6L1231.7 477.0L1232.1 477.3L1232.5 489.1L1232.9 490.6L1233.3 478.6L1233.7 477.7L1234.1 490.8L1234.5 490.7L1234.9 481.9L1235.3 484.0L1235.7 498.2L1236.1 497.3L1236.5 485.4L1236.9 472.2L1237.3 491.7L1237.7 489.6L1238.1 478.9L1238.5 475.9L1238.9 492.5L1239.3 490.5L1239.7 477.3L1240.1 481.6L1240.5 490.3L1240.9 488.4L1241.3 479.3L1241.7 480.6L1242.1 489.4L1242.5 495.9L1242.9 481.6L1243.3 474.8L1243.7 489.8L1244.1 483.8L1244.5 477.9L1244.9 475.2L1245.3 486.0L1245.7 484.6L1246.1 475.4L1246.5 470.8L1246.9 488.2L1247.3 492.6L1247.7 480.3L1248.1 480.7L1248.5 489.0L1248.9 488.1L1249.3 474.2L1249.7 477.0L1250.1 485.5L1250.5 485.0L1250.9 477.3L1251.3 473.9L1251.7 482.3L1252.1 484.3L1252.5 471.3L1252.9 468.9L1253.3 475.8L1253.7 493.4L1254.1 476.8L1254.5 480.0L1254.9 499.3L1255.3 488.0L1255.7 474.3L1256.1 476.5L1256.5 490.8L1256.9 486.9L1257.3 477.8L1257.7 482.0L1258.1 496.1L1258.5 498.9L1258.9 488.9L1259.3 488.6L1259.7 499.0L1260.1 497.9L1260.5 490.2L1260.9 487.0L1261.3 497.0L1261.7 497.9L1262.1 489.7L1262.5 483.3L1262.9 497.3L1263.3 502.9L1263.7 485.2L1264.1 487.3L1264.5 502.4L1264.9 503.3L1265.3 493.2L1265.7 491.1L1266.1 506.1L1266.5 506.7L1266.9 488.0L1267.3 493.5L1267.7 511.4L1268.1 511.8L1268.5 504.8L1268.9 500.7L1269.3 507.5L1269.7 507.8L1270.1 497.5L1270.5 503.9L1270.9 521.3L1271.3 518.0L1271.7 503.2L1272.1 512.2L1272.5 524.4L1272.9 521.1L1273.3 504.5L1273.7 501.1L1274.1 510.5L1274.5 520.0L1274.9 501.5L1275.3 508.8L1275.7 517.1L1276.1 514.8L1276.5 506.2L1276.9 508.5L1277.3 525.4L1277.7 526.0L1278.1 514.3L1278.5 508.8L1278.9 518.0L1279.3 516.3L1279.7 499.2L1280.1 513.0L1280.5 523.0L1280.9 521.1L1281.3 506.8L1281.7 516.7L1282.1 526.5L1282.5 535.5L1282.9 524.2L1283.3 527.9L1283.7 537.7L1284.1 537.0L1284.5 525.2L1284.9 513.1L1285.3 530.3L1285.7 533.8L1286.1 524.4L1286.5 529.0L1286.9 542.6L1287.3 545.5L1287.7 533.5L1288.1 518.2L1288.5 539.1L1288.9 539.4L1289.3 529.1L1289.7 530.3L1290.1 538.5L1290.5 543.8L1290.9 533.7L1291.3 526.3L1291.7 543.4L1292.1 541.5L1292.5 533.5L1292.9 522.2L1293.3 535.7L1293.7 541.2L1294.1 526.6L1294.5 539.2L1294.9 551.6L1295.3 556.1L1295.7 538.4L1296.1 531.8L1296.5 546.6L1296.9 553.7L1297.3 533.8L1297.7 546.0L1298.1 555.9L1298.5 556.2L1298.9 532.9L1299.3 547.0L1299.7 557.2L1300.1 557.8L1300.5 546.3L1300.9 550.6L1301.3 559.5L1301.7 567.8L1302.1 551.8L1302.5 557.2L1302.9 579.0L1303.3 574.1L1303.7 551.3L1304.1 563.8L1304.5 572.5L1304.9 574.2L1305.3 562.2L1305.7 569.5L1306.1 579.0L1306.5 589.2L1306.9 574.9L1307.3 580.3L1307.7 591.0L1308.1 588.5L1308.5 577.9L1308.9 581.5L1309.3 598.7L1309.7 592.9L1310.1 584.0L1310.5 583.8L1310.9 592.8L1311.3 593.9L1311.7 580.9L1312.1 582.9L1312.5 592.7L1312.9 592.3L1313.3 584.3L1313.7 582.6L1314.1 595.2L1314.5 607.0L1314.9 588.7L1315.3 607.5L1315.7 617.4L1316.1 624.0L1316.5 604.4L1316.9 593.0L1317.3 611.4L1317.7 615.6L1318.1 605.7L1318.5 604.3L1318.9 611.9L1319.3 614.9L1319.7 599.9L1320.1 604.1L1320.5 616.1L1320.9 619.5L1321.3 612.3L1321.7 607.5L1322.1 617.3L1322.5 620.9L1322.9 614.9L1323.3 615.9L1323.7 630.1L1324.1 629.9L1324.5 611.4L1324.9 619.2L1325.3 630.9L1325.7 629.4L1326.1 620.8L1326.5 620.8L1326.9 635.5L1327.3 636.0L1327.7 624.3L1328.1 624.6L1328.5 635.2L1328.9 640.8L1329.3 626.1L1329.7 625.2L1330.1 636.6L1330.5 647.4L1330.9 632.0L1331.3 631.0L1331.7 638.8L1332.1 638.1L1332.5 630.4L1332.9 629.6L1333.3 640.0L1333.7 642.7L1334.1 616.9L1334.5 624.1L1334.9 641.8L1335.3 641.1L1335.7 630.5L1336.1 630.9L1336.5 651.9L1336.9 648.5L1337.3 637.6L1337.7 641.0L1338.1 648.8L1338.5 646.5L1338.9 638.1L1339.3 630.0L1339.7 640.5L1340.1 636.0L1340.5 625.7L1340.9 635.1L1341.3 650.0L1341.7 654.1L1342.1 640.0L1342.5 638.6L1342.9 651.1L1343.3 646.1L1343.7 637.3L1344.1 628.9L1344.5 641.1L1344.9 642.2L1345.3 636.5L1345.7 633.9L1346.1 640.5L1346.5 642.5L1346.9 633.6L1347.3 634.8L1347.7 640.8L1348.1 647.5L1348.5 641.4L1348.9 631.4L1349.3 647.0L1349.7 637.1L1350.1 628.6L1350.5 632.4L1350.9 641.4L1351.3 637.4L1351.7 625.7L1352.1 632.9L1352.5 642.0L1352.9 648.1L1353.3 636.7L1353.7 634.4L1354.1 652.8L1354.5 663.9L1354.9 645.9L1355.3 638.2L1355.7 652.2L1356.1 651.2L1356.5 638.7L1356.9 646.6L1357.3 656.1L1357.7 653.4L1358.1 645.2L1358.5 635.5L1358.9 646.7L1359.3 645.1L1359.7 636.0L1360.1 637.8L1360.5 650.3L1360.9 641.6L1361.3 626.3L1361.7 621.2L1362.1 644.3L1362.5 658.5L1362.9 638.6L1363.3 633.6L1363.7 664.4L1364.1 644.5L1364.5 632.5L1364.9 641.3L1365.3 651.4L1365.7 659.8L1366.1 645.2L1366.5 641.3L1366.9 654.9L1367.3 654.0L1367.7 635.3L1368.1 649.3L1368.5 658.0L1368.9 650.8L1369.3 644.0L1369.7 646.1L1370.1 656.0L1370.5 653.6L1370.9 643.9L1371.3 639.4L1371.7 651.0L1372.1 651.3L1372.5 644.4L1372.9 640.9L1373.3 649.1L1373.7 652.3L1374.1 642.2L1374.5 640.0L1374.9 652.7L1375.3 650.8L1375.7 640.0L1376.1 640.4L1376.5 658.1L1376.9 655.6L1377.3 643.2L1377.7 630.2L1378.1 646.2L1378.5 643.3L1378.9 629.5L1379.3 632.3L1379.7 641.3L1380.1 644.6L1380.5 633.1L1380.9 635.4L1381.3 648.0L1381.7 647.7L1382.1 636.5L1382.5 638.7L1382.9 649.8L1383.3 650.5L1383.7 636.9L1384.1 643.9L1384.5 654.7L1384.9 658.8L1385.3 646.1L1385.7 647.9L1386.1 665.1L1386.5 654.8L1386.9 642.8L1387.3 645.4L1387.7 661.9L1388.1 662.5L1388.5 653.3L1388.9 654.0L1389.3 671.9L1389.7 657.7L1390.1 641.2L1390.5 651.5L1390.9 671.5L1391.3 670.8L1391.7 662.7L1392.1 660.4L1392.5 672.2L1392.9 673.8L1393.3 657.2L1393.7 654.6L1394.1 670.0L1394.5 670.1L1394.9 659.3L1395.3 659.0L1395.7 670.1L1396.1 662.2L1396.5 648.4L1396.9 656.6L1397.3 666.0L1397.7 662.9L1398.1 645.1L1398.5 654.4L1398.9 662.2L1399.3 660.3L1399.7 647.4L1400.1 642.1L1400.5 651.5L1400.9 660.3L1401.3 640.1L1401.7 649.9L1402.1 660.6L1402.5 659.5L1402.9 645.4L1403.3 650.6L1403.7 658.2L1404.1 659.4L1404.5 650.9L1404.9 641.0L1405.3 657.8L1405.7 657.3L1406.1 635.2L1406.5 649.3L1406.9 657.5L1407.3 661.2L1407.7 649.2L1408.1 655.2L1408.5 666.8L1408.9 658.6L1409.3 650.6L1409.7 655.4L1410.1 661.9L1410.5 659.5L1410.9 653.2L1411.3 654.8L1411.7 662.5L1412.1 669.6L1412.5 657.0L1412.9 654.3L1413.3 674.1L1413.7 660.3L1414.1 650.0L1414.5 657.1L1414.9 673.7L1415.3 676.7L1415.7 667.3L1416.1 671.6L1416.5 686.1L1416.9 683.3L1417.3 673.9L1417.7 668.6L1418.1 688.5L1418.5 687.9L1418.9 668.8L1419.3 669.9L1419.7 682.6L1420.1 677.8L1420.5 667.9L1420.9 666.9L1421.3 678.4L1421.7 682.9L1422.1 668.0L1422.5 662.8L1422.9 675.4L1423.3 671.9L1423.7 661.5L1424.1 653.1L1424.5 676.3L1424.9 665.7L1425.3 652.5L1425.7 652.9L1426.1 664.0L1426.5 670.9L1426.9 650.8L1427.3 662.0L1427.7 671.8L1428.1 677.2L1428.5 668.2L1428.9 665.6L1429.3 676.0L1429.7 676.6L1430.1 665.5L1430.5 668.1L1430.9 686.8L1431.3 682.7L1431.7 676.3L1432.1 670.2L1432.5 681.5L1432.9 685.9L1433.3 674.0L1433.7 678.2L1434.1 687.0L1434.5 684.4L1434.9 671.3L1435.3 680.9L1435.7 694.2L1436.1 695.3L1436.5 688.4L1436.9 678.6L1437.3 692.1L1437.7 696.6L1438.1 679.6L1438.5 687.6L1438.9 701.4L1439.3 698.6L1439.7 688.6L1440.1 689.2L1440.5 700.8L1440.9 702.1L1441.3 694.8L1441.7 685.8L1442.1 701.3L1442.5 706.3L1442.9 697.9L1443.3 690.3L1443.7 707.2L1444.1 710.3L1444.5 698.9L1444.9 701.1L1445.3 709.9L1445.7 709.3L1446.1 697.2L1446.5 702.5L1446.9 711.3L1447.3 706.9L1447.7 694.8L1448.1 698.8L1448.5 707.5L1448.9 711.4L1449.3 702.7L1449.7 703.1L1450.1 718.1L1450.5 717.9L1450.9 705.2L1451.3 704.5L1451.7 712.8L1452.1 709.6L1452.5 689.7L1452.9 704.5L1453.3 722.9L1453.7 715.3L1454.1 706.1L1454.5 704.7L1454.9 718.8L1455.3 717.8L1455.7 711.6L1456.1 714.0L1456.5 721.8L1456.9 722.1L1457.3 716.0L1457.7 711.5L1458.1 722.7L1458.5 723.5L1458.9 710.8L1459.3 710.0L1459.7 726.8L1460.1 720.0L1460.5 713.3L1460.9 706.7L1461.3 720.2L1461.7 726.7L1462.1 710.4L1462.5 714.9L1462.9 724.3L1463.3 725.8L1463.7 715.2L1464.1 710.2L1464.5 730.3L1464.9 729.8L1465.3 720.0L1465.7 706.8L1466.1 728.4L1466.5 725.4L1466.9 709.0L1467.3 709.7L1467.7 724.2L1468.1 725.5L1468.5 713.0L1468.9 720.9L1469.3 732.6L1469.7 730.9L1470.1 720.4L1470.5 717.5L1470.9 726.6L1471.3 731.1L1471.7 718.7L1472.1 718.7L1472.5 727.6L1472.9 725.9L1473.3 714.5L1473.7 709.0L1474.1 722.6L1474.5 727.2L1474.9 712.7L1475.3 703.2L1475.7 717.0L1476.1 718.7L1476.5 704.5L1476.9 722.6L1477.3 729.5L1477.7 731.1L1478.1 718.5L1478.5 723.0L1478.9 735.3L1479.3 738.5L1479.7 725.0L1480.1 725.6L1480.5 735.7L1480.9 736.9L1481.3 727.0L1481.7 718.2L1482.1 730.2L1482.5 727.1L1482.9 709.7L1483.3 723.2L1483.7 731.7L1484.1 742.7L1484.5 730.5L1484.9 728.5L1485.3 736.6L1485.7 734.5L1486.1 722.3L1486.5 710.2L1486.9 729.3L1487.3 728.9L1487.7 710.5L1488.1 716.7L1488.5 724.4L1488.9 728.0L1489.3 716.5L1489.7 723.3L1490.1 737.7L1490.5 746.4L1490.9 726.4L1491.3 731.9L1491.7 742.6L1492.1 739.4L1492.5 729.2L1492.9 729.0L1493.3 736.7L1493.7 739.3L1494.1 723.9L1494.5 730.6L1494.9 744.0L1495.3 735.6L1495.7 725.5L1496.1 728.2L1496.5 743.3L1496.9 734.7L1497.3 726.6L1497.7 725.3L1498.1 735.3L1498.5 730.8L1498.9 724.8L1499.3 723.9L1499.7 730.8L1500.1 732.0L1500.5 717.7L1500.9 712.8L1501.3 724.6L1501.7 728.4L1502.1 715.8L1502.5 721.5L1502.9 732.5L1503.3 730.9L1503.7 709.3L1504.1 706.8L1504.5 718.6L1504.9 723.1L1505.3 708.0L1505.7 713.8L1506.1 725.2L1506.5 723.3L1506.9 712.6L1507.3 713.0L1507.7 727.9L1508.1 716.4L1508.5 705.5L1508.9 707.4L1509.3 717.7L1509.7 717.8L1510.1 707.7L1510.5 708.5L1510.9 719.7L1511.3 729.9L1511.7 710.5L1512.1 710.9L1512.5 720.3L1512.9 718.3L1513.3 704.5L1513.7 704.1L1514.1 716.8L1514.5 711.0L1514.9 698.8L1515.3 702.4L1515.7 711.9L1516.1 709.7L1516.5 700.3L1516.9 704.3L1517.3 718.0L1517.7 711.3L1518.1 701.3L1518.5 696.7L1518.9 709.2L1519.3 712.1L1519.7 699.7L1520.1 696.9L1520.5 712.7L1520.9 705.2L1521.3 693.2L1521.7 695.9L1522.1 703.2L1522.5 698.4L1522.9 686.1L1523.3 675.9L1523.7 687.9L1524.1 698.4L1524.5 684.0L1524.9 685.5L1525.3 696.0L1525.7 697.0L1526.1 686.8L1526.5 688.9L1526.9 695.6L1527.3 699.7L1527.7 685.8L1528.1 679.4L1528.5 700.2L1528.9 698.4L1529.3 685.2L1529.7 687.8L1530.1 700.6L1530.5 699.9L1530.9 689.3L1531.3 680.1L1531.7 691.5L1532.1 689.4L1532.5 678.4L1532.9 678.7L1533.3 683.8L1533.7 689.8L1534.1 675.8L1534.5 666.1L1534.9 681.5L1535.3 687.4L1535.7 668.8L1536.1 668.2L1536.5 679.7L1536.9 679.2L1537.3 665.3L1537.7 669.9L1538.1 682.3L1538.5 678.1L1538.9 662.3L1539.3 670.0L1539.7 680.2L1540.1 675.5L1540.5 664.5L1540.9 660.8L1541.3 672.2L1541.7 675.8L1542.1 658.1L1542.5 650.5L1542.9 662.1L1543.3 660.4L1543.7 648.6L1544.1 649.9L1544.5 667.0L1544.9 676.8L1545.3 662.4L1545.7 667.4L1546.1 679.0L1546.5 676.7L1546.9 669.0L1547.3 668.8L1547.7 679.2L1548.1 679.9L1548.5 670.8L1548.9 674.1L1549.3 684.6L1549.7 683.0L1550.1 670.8L1550.5 661.5L1550.9 680.8L1551.3 682.0L1551.7 675.3L1552.1 673.5L1552.5 683.6L1552.9 684.6L1553.3 676.1L1553.7 668.2L1554.1 680.5L1554.5 683.8L1554.9 671.9L1555.3 680.9L1555.7 693.4L1556.1 682.5L1556.5 668.3L1556.9 668.4L1557.3 679.5L1557.7 676.3L1558.1 670.1L1558.5 667.0L1558.9 674.1L1559.3 674.6L1559.7 667.4L1560.1 658.0L1560.5 673.1L1560.9 679.2L1561.3 660.3L1561.7 660.5L1562.1 678.0L1562.5 685.7L1562.9 675.5L1563.3 665.0L1563.7 680.7L1564.1 681.6L1564.5 663.7L1564.9 669.6L1565.3 682.2L1565.7 683.6L1566.1 670.8L1566.5 671.4L1566.9 680.2L1567.3 678.3L1567.7 672.9L1568.1 670.0L1568.5 682.0L1568.9 678.9L1569.3 668.6L1569.7 671.7L1570.1 689.1L1570.5 695.3L1570.9 687.2L1571.3 678.8L1571.7 689.6L1572.1 684.1L1572.5 675.2L1572.9 666.5L1573.3 680.7L1573.7 679.7L1574.1 672.7L1574.5 666.1L1574.9 681.1L1575.3 678.6L1575.7 670.8L1576.1 668.8L1576.5 679.1L1576.9 676.9L1577.3 666.9L1577.7 666.9L1578.1 679.0L1578.5 676.9L1578.9 663.9L1579.3 662.6L1579.7 673.1L1580.1 674.6L1580.5 666.8L1580.9 663.4L1581.3 675.6L1581.7 669.1L1582.1 655.6L1582.5 659.0L1582.9 672.4L1583.3 677.7L1583.7 668.6L1584.1 667.5L1584.5 685.9L1584.9 671.8L1585.3 658.6L1585.7 667.8L1586.1 675.6L1586.5 682.9L1586.9 671.0L1587.3 659.8L1587.7 671.0L1588.1 669.2L1588.5 661.7L1588.9 656.5L1589.3 664.5L1589.7 662.0L1590.1 646.3L1590.5 654.7L1590.9 665.2L1591.3 664.9L1591.7 650.9L1592.1 650.2L1592.5 657.3L1592.9 662.6L1593.3 653.5L1593.7 648.0L1594.1 664.3L1594.5 654.3L1594.9 637.6L1595.3 631.4L1595.7 649.9L1596.1 654.0L1596.5 642.8L1596.9 647.4L1597.3 655.3L1597.7 658.2L1598.1 649.5L1598.5 646.6L1598.9 658.1L1599.3 656.9L1599.7 646.1L1600.1 651.5L1600.5 659.9L1600.9 665.8L1601.3 652.6L1601.7 653.2L1602.1 668.0L1602.5 665.4L1602.9 645.9L1603.3 643.6L1603.7 662.4L1604.1 649.6L1604.5 636.6L1604.9 642.4L1605.3 656.2L1605.7 653.8L1606.1 645.0L1606.5 632.3L1606.9 650.7L1607.3 648.0L1607.7 627.5L1608.1 637.1L1608.5 649.5L1608.9 656.4L1609.3 645.2L1609.7 642.7L1610.1 654.5L1610.5 651.5L1610.9 640.6L1611.3 641.7L1611.7 655.9L1612.1 652.7L1612.5 639.4L1612.9 635.3L1613.3 652.0L1613.7 653.3L1614.1 638.4L1614.5 630.7L1614.9 644.4L1615.3 642.5L1615.7 632.8L1616.1 638.9L1616.5 647.8L1616.9 655.1L1617.3 641.0L1617.7 639.3L1618.1 649.9L1618.5 647.8L1618.9 637.5L1619.3 630.2L1619.7 645.0L1620.1 639.0L1620.5 629.3L1620.9 626.2L1621.3 639.2L1621.7 646.8L1622.1 637.1L1622.5 637.0L1622.9 652.4L1623.3 646.6L1623.7 638.2L1624.1 634.4L1624.5 645.8L1624.9 646.2L1625.3 634.0L1625.7 642.7L1626.1 649.3L1626.5 646.6L1626.9 634.3L1627.3 641.2L1627.7 656.4L1628.1 648.1L1628.5 637.2L1628.9 631.8L1629.3 648.9L1629.7 638.9L1630.1 623.0L1630.5 632.1L1630.9 640.6L1631.3 637.4L1631.7 628.8L1632.1 629.1L1632.5 642.5L1632.9 644.5L1633.3 629.0L1633.7 627.6L1634.1 647.9L1634.5 644.9L1634.9 625.6L1635.3 627.5L1635.7 663.0L1636.1 628.6L1636.5 621.2L1636.9 617.2L1637.3 625.7L1637.7 629.0L1638.1 618.0L1638.5 616.2L1638.9 626.5L1639.3 626.9L1639.7 615.2L1640.1 614.0L1640.5 630.1L1640.9 634.1L1641.3 622.1L1641.7 617.0L1642.1 628.6L1642.5 631.0L1642.9 619.2L1643.3 618.9L1643.7 628.5L1644.1 628.0L1644.5 615.0L1644.9 626.1L1645.3 636.8L1645.7 633.8L1646.1 621.8L1646.5 618.6L1646.9 626.9L1647.3 630.2L1647.7 620.5L1648.1 606.7L1648.5 623.9L1648.9 619.9L1649.3 609.5L1649.7 600.0L1650.1 619.6L1650.5 618.1L1650.9 608.6L1651.3 603.2L1651.7 620.5L1652.1 618.1L1652.5 610.9L1652.9 605.3L1653.3 618.4L1653.7 619.0L1654.1 602.7L1654.5 600.5L1654.9 610.9L1655.3 604.9L1655.7 592.0L1656.1 593.8L1656.5 605.3L1656.9 607.2L1657.3 598.1L1657.7 584.9L1658.1 604.5L1658.5 606.9L1658.9 592.3L1659.3 594.8L1659.7 606.3L1660.1 597.8L1660.5 587.3L1660.9 586.4L1661.3 597.3L1661.7 606.6L1662.1 589.0L1662.5 589.6L1662.9 596.0L1663.3 597.1L1663.7 589.6L1664.1 588.9L1664.5 596.7L1664.9 598.1L1665.3 590.7L1665.7 596.0L1666.1 602.9L1666.5 607.5L1666.9 590.7L1667.3 603.0L1667.7 610.7L1668.1 614.2L1668.5 600.1L1668.9 599.7L1669.3 610.3L1669.7 610.8L1670.1 597.6L1670.5 599.8L1670.9 611.8L1671.3 614.6L1671.7 602.6L1672.1 606.0L1672.5 616.3L1672.9 622.6L1673.3 602.9L1673.7 603.1L1674.1 613.9L1674.5 612.9L1674.9 603.3L1675.3 604.6L1675.7 625.9L1676.1 611.5L1676.5 601.6L1676.9 600.0L1677.3 614.6L1677.7 618.4L1678.1 608.9L1678.5 605.2L1678.9 621.3L1679.3 624.6L1679.7 612.6L1680.1 602.2L1680.5 612.5L1680.9 607.6L1681.3 594.0L1681.7 600.7L1682.1 623.5L1682.5 614.0L1682.9 604.1L1683.3 600.1L1683.7 612.6L1684.1 618.7L1684.5 593.0L1684.9 599.9L1685.3 608.8L1685.7 601.6L1686.1 592.5L1686.5 585.4L1686.9 600.2L1687.3 601.6L1687.7 583.4L1688.1 589.8L1688.5 600.6L1688.9 602.6L1689.3 589.6L1689.7 583.9L1690.1 596.4L1690.5 601.4L1690.9 587.0L1691.3 596.0L1691.7 602.8L1692.1 597.9L1692.5 590.3L1692.9 592.3L1693.3 600.6L1693.7 612.7L1694.1 595.3L1694.5 592.3L1694.9 601.4L1695.3 603.5L1695.7 589.0L1696.1 583.1L1696.5 597.8L1696.9 596.7L1697.3 587.9L1697.7 579.9L1698.1 590.8L1698.5 607.0L1698.9 591.5L1699.3 590.7L1699.7 599.0L1700.1 604.8L1700.5 591.8L1700.9 588.3L1701.3 598.3L1701.7 591.2L1702.1 572.7L1702.5 575.4L1702.9 587.0L1703.3 594.4L1703.7 584.4L1704.1 586.7L1704.5 599.3L1704.9 594.5L1705.3 587.1L1705.7 590.8L1706.1 600.4L1706.5 599.2L1706.9 589.3L1707.3 590.1L1707.7 597.5L1708.1 605.1L1708.5 590.9L1708.9 594.3L1709.3 601.3L1709.7 599.4L1710.1 589.1"/>
<path stroke="#f00" d="M237.7 552.7L238.1 539.1L238.5 505.6L238.9 539.9L239.3 511.1L239.7 500.9L240.1 502.1L240.5 530.6L240.9 520.1L241.3 417.3L241.7 402.2L242.1 416.8L242.5 532.7L242.9 404.4L243.3 533.3L243.7 545.1L244.1 542.7L244.5 529.4L244.9 512.3L245.3 536.3L245.7 543.7L246.1 527.7L246.5 505.6L246.9 523.9L247.3 559.1L247.7 509.4L248.1 545.5L248.5 567.8L248.9 561.8L249.3 547.9L249.7 551.9L250.1 568.0L250.5 567.9L250.9 550.2L251.3 542.9L251.7 555.7L252.1 550.4L252.5 538.1L252.9 542.1L253.3 550.7L253.7 553.9L254.1 543.0L254.5 536.8L254.9 558.8L255.3 546.0L255.7 531.4L256.1 506.0L256.5 536.1L256.9 506.6L257.3 480.8L257.7 466.6L258.1 478.0L258.5 491.3L258.9 466.3L259.3 492.4L259.7 539.0L260.1 540.6L260.5 529.7L260.9 508.3L261.3 538.0L261.7 504.1L262.1 396.8L262.5 394.6L262.9 402.1L263.3 500.9L263.7 408.9L264.1 476.7L264.5 514.3L264.9 474.3L265.3 469.6L265.7 472.4L266.1 481.5L266.5 489.7L266.9 464.0L267.3 467.6L267.7 514.6L268.1 460.8L268.5 448.6L268.9 448.8L269.3 515.2L269.7 534.4L270.1 518.9L270.5 525.8L270.9 543.6L271.3 540.5L271.7 528.1L272.1 526.6L272.5 546.4L272.9 531.3L273.3 516.1L273.7 499.9L274.1 514.1L274.5 511.9L274.9 480.6L275.3 478.1L275.7 481.3L276.1 515.7L276.5 479.4L276.9 505.0L277.3 547.5L277.7 543.7L278.1 518.6L278.5 507.0L278.9 533.1L279.3 512.1L279.7 503.1L280.1 504.0L280.5 518.0L280.9 536.3L281.3 517.4L281.7 538.7L282.1 547.7L282.5 545.8L282.9 536.7L283.3 529.0L283.7 546.3L284.1 528.6L284.5 516.0L284.9 516.6L285.3 540.7L285.7 536.8L286.1 515.4L286.5 486.3L286.9 521.7L287.3 490.5L287.7 407.4L288.1 407.3L288.5 463.6L288.9 554.3L289.3 470.4L289.7 542.0L290.1 554.9L290.5 548.3L290.9 534.9L291.3 533.1L291.7 561.5L292.1 565.0L292.5 543.5L292.9 519.2L293.3 545.1L293.7 538.1L294.1 483.7L294.5 419.9L294.9 479.2L295.3 461.7L295.7 420.8L296.1 471.7L296.5 565.1L296.9 568.5L297.3 556.3L297.7 558.3L298.1 572.4L298.5 570.3L298.9 559.5L299.3 557.0L299.7 563.6L300.1 562.9L300.5 510.2L300.9 430.9L301.3 502.6L301.7 461.1L302.1 428.0L302.5 427.0L302.9 505.9L303.3 426.0L303.7 420.8L304.1 421.9L304.5 490.0L304.9 571.9L305.3 494.4L305.7 560.4L306.1 571.8L306.5 557.7L306.9 543.6L307.3 541.9L307.7 559.0L308.1 548.8L308.5 524.1L308.9 455.0L309.3 512.3L309.7 489.7L310.1 454.4L310.5 502.3L310.9 580.3L311.3 582.7L311.7 520.0L312.1 455.0L312.5 514.2L312.9 467.3L313.3 453.8L313.7 473.9L314.1 499.4L314.5 503.9L314.9 472.7L315.3 470.4L315.7 486.7L316.1 536.6L316.5 496.7L316.9 536.5L317.3 559.1L317.7 557.0L318.1 548.3L318.5 425.2L318.9 541.7L319.3 417.3L319.7 413.5L320.1 412.7L320.5 463.2L320.9 516.0L321.3 464.0L321.7 420.6L322.1 479.1L322.5 479.0L322.9 422.0L323.3 484.7L323.7 557.2L324.1 558.5L324.5 541.9L324.9 440.0L325.3 550.3L325.7 426.9L326.1 384.3L326.5 383.6L326.9 457.6L327.3 489.4L327.7 393.9L328.1 392.8L328.5 397.9L328.9 490.9L329.3 399.8L329.7 491.1L330.1 548.9L330.5 548.8L330.9 538.2L331.3 542.3L331.7 554.4L332.1 562.1L332.5 548.7L332.9 491.3L333.3 552.1L333.7 489.6L334.1 480.9L334.5 481.6L334.9 498.8L335.3 492.3L335.7 445.7L336.1 444.0L336.5 476.5L336.9 500.5L337.3 426.0L337.7 412.4L338.1 419.3L338.5 454.8L338.9 412.8L339.3 456.6L339.7 537.0L340.1 541.9L340.5 533.9L340.9 518.7L341.3 539.0L341.7 524.5L342.1 516.0L342.5 519.2L342.9 538.2L343.3 549.7L343.7 534.0L344.1 527.9L344.5 540.6L344.9 550.1L345.3 533.5L345.7 483.5L346.1 545.2L346.5 472.5L346.9 456.4L347.3 466.4L347.7 509.9L348.1 558.5L348.5 515.8L348.9 525.4L349.3 549.1L349.7 533.4L350.1 521.3L350.5 515.1L350.9 530.6L351.3 537.6L351.7 518.0L352.1 529.4L352.5 540.4L352.9 535.0L353.3 519.7L353.7 482.1L354.1 531.4L354.5 478.9L354.9 389.0L355.3 387.5L355.7 392.4L356.1 448.4L356.5 387.0L356.9 448.4L357.3 512.8L357.7 519.5L358.1 503.9L358.5 416.0L358.9 523.8L359.3 404.8L359.7 365.1L360.1 367.4L360.5 444.6L360.9 503.5L361.3 452.5L361.7 376.2L362.1 497.0L362.5 370.9L362.9 337.7L363.3 337.4L363.7 360.6L364.1 423.0L364.5 365.0L364.9 363.8L365.3 366.3L365.7 461.0L366.1 369.4L366.5 422.4L366.9 449.1L367.3 453.5L367.7 429.9L368.1 459.5L368.5 502.5L368.9 512.6L369.3 492.2L369.7 490.9L370.1 500.0L370.5 504.2L370.9 463.4L371.3 445.3L371.7 459.8L372.1 448.6L372.5 445.0L372.9 449.9L373.3 489.0L373.7 497.5L374.1 485.1L374.5 485.6L374.9 500.9L375.3 507.0L375.7 495.8L376.1 503.6L376.5 515.7L376.9 510.9L377.3 496.3L377.7 360.0L378.1 499.8L378.5 360.5L378.9 357.2L379.3 370.0L379.7 470.0L380.1 492.2L380.5 467.6L380.9 496.0L381.3 510.1L381.7 518.6L382.1 501.4L382.5 496.0L382.9 519.9L383.3 496.5L383.7 484.1L384.1 475.7L384.5 491.3L384.9 491.0L385.3 468.3L385.7 491.5L386.1 516.2L386.5 529.9L386.9 508.3L387.3 504.6L387.7 517.8L388.1 519.4L388.5 500.1L388.9 504.6L389.3 515.4L389.7 522.2L390.1 508.7L390.5 514.2L390.9 522.2L391.3 519.9L391.7 498.5L392.1 488.1L392.5 510.1L392.9 504.1L393.3 414.8L393.7 402.6L394.1 414.4L394.5 486.2L394.9 403.4L395.3 489.3L395.7 527.4L396.1 514.7L396.5 500.8L396.9 502.3L397.3 513.8L397.7 529.9L398.1 509.9L398.5 522.1L398.9 534.0L399.3 533.2L399.7 518.5L400.1 527.8L400.5 535.9L400.9 545.9L401.3 531.3L401.7 527.2L402.1 533.0L402.5 526.6L402.9 509.3L403.3 468.2L403.7 521.6L404.1 465.6L404.5 437.0L404.9 436.9L405.3 460.2L405.7 503.2L406.1 465.9L406.5 494.4L406.9 508.0L407.3 520.7L407.7 502.3L408.1 511.6L408.5 536.7L408.9 531.8L409.3 400.7L409.7 397.2L410.1 417.5L410.5 541.7L410.9 426.5L411.3 475.8L411.7 548.6L412.1 479.4L412.5 473.7L412.9 480.1L413.3 530.4L413.7 548.4L414.1 531.1L414.5 546.0L414.9 555.2L415.3 549.2L415.7 542.0L416.1 481.3L416.5 549.5L416.9 473.3L417.3 421.2L417.7 419.9L418.1 463.1L418.5 481.6L418.9 447.7L419.3 447.0L419.7 462.6L420.1 529.1L420.5 464.6L420.9 531.7L421.3 557.5L421.7 559.1L422.1 544.7L422.5 466.0L422.9 546.8L423.3 481.3L423.7 470.2L424.1 481.7L424.5 536.6L424.9 527.8L425.3 480.3L425.7 477.5L426.1 505.1L426.5 552.0L426.9 505.7L427.3 532.0L427.7 549.2L428.1 523.9L428.5 399.8L428.9 398.0L429.3 401.1L429.7 465.8L430.1 399.8L430.5 474.5L430.9 541.1L431.3 536.2L431.7 526.0L432.1 526.7L432.5 553.1L432.9 547.2L433.3 537.0L433.7 537.5L434.1 559.0L434.5 562.2L434.9 550.9L435.3 425.0L435.7 547.7L436.1 417.1L436.5 398.3L436.9 399.3L437.3 466.5L437.7 552.5L438.1 464.5L438.5 510.5L438.9 553.3L439.3 518.6L439.7 498.8L440.1 484.0L440.5 500.1L440.9 515.1L441.3 485.2L441.7 516.4L442.1 541.7L442.5 559.7L442.9 533.7L443.3 488.8L443.7 542.5L444.1 491.2L444.5 476.1L444.9 482.9L445.3 514.7L445.7 528.3L446.1 493.7L446.5 428.1L446.9 495.2L447.3 418.5L447.7 395.3L448.1 396.2L448.5 454.9L448.9 537.9L449.3 462.9L449.7 527.1L450.1 542.5L450.5 542.4L450.9 488.6L451.3 473.3L451.7 480.9L452.1 503.3L452.5 474.9L452.9 503.9L453.3 539.3L453.7 542.2L454.1 529.1L454.5 529.4L454.9 552.2L455.3 553.6L455.7 538.9L456.1 530.2L456.5 547.8L456.9 532.2L457.3 486.4L457.7 482.8L458.1 486.7L458.5 510.6L458.9 486.2L459.3 489.2L459.7 522.5L460.1 486.8L460.5 483.8L460.9 483.2L461.3 521.2L461.7 540.3L462.1 525.0L462.5 532.0L462.9 542.6L463.3 541.8L463.7 523.3L464.1 523.5L464.5 550.9L464.9 514.0L465.3 455.3L465.7 455.1L466.1 492.9L466.5 541.7L466.9 505.9L467.3 492.5L467.7 548.6L468.1 487.6L468.5 481.7L468.9 481.8L469.3 507.8L469.7 516.9L470.1 440.5L470.5 439.1L470.9 442.3L471.3 515.5L471.7 441.8L472.1 516.1L472.5 544.9L472.9 545.8L473.3 532.8L473.7 532.6L474.1 541.8L474.5 535.8L474.9 523.5L475.3 515.7L475.7 541.7L476.1 510.9L476.5 440.2L476.9 434.6L477.3 437.4L477.7 450.9L478.1 433.7L478.5 447.5L478.9 453.1L479.3 502.4L479.7 460.6L480.1 496.8L480.5 514.3L480.9 513.1L481.3 486.4L481.7 486.8L482.1 497.8L482.5 525.6L482.9 499.9L483.3 416.1L483.7 526.4L484.1 409.7L484.5 405.5L484.9 404.7L485.3 475.6L485.7 533.6L486.1 488.6L486.5 419.7L486.9 509.3L487.3 415.8L487.7 412.9L488.1 411.0L488.5 476.7L488.9 525.8L489.3 484.4L489.7 524.1L490.1 542.3L490.5 545.4L490.9 528.2L491.3 522.0L491.7 547.4L492.1 542.1L492.5 522.7L492.9 539.7L493.3 548.0L493.7 548.7L494.1 541.0L494.5 534.2L494.9 550.1L495.3 542.6L495.7 449.7L496.1 413.2L496.5 446.3L496.9 478.0L497.3 414.9L497.7 490.2L498.1 547.0L498.5 546.7L498.9 538.6L499.3 528.7L499.7 545.2L500.1 536.3L500.5 441.3L500.9 391.8L501.3 434.4L501.7 460.8L502.1 393.5L502.5 464.9L502.9 520.4L503.3 520.0L503.7 505.8L504.1 504.5L504.5 533.2L504.9 499.6L505.3 489.9L505.7 493.9L506.1 520.5L506.5 524.5L506.9 459.3L507.3 455.8L507.7 458.9L508.1 522.2L508.5 458.8L508.9 527.8L509.3 549.2L509.7 551.5L510.1 537.4L510.5 540.1L510.9 551.4L511.3 549.7L511.7 530.0L512.1 496.4L512.5 525.7L512.9 519.9L513.3 496.4L513.7 501.9L514.1 520.5L514.5 517.1L514.9 503.8L515.3 513.5L515.7 527.0L516.1 549.4L516.5 525.0L516.9 510.4L517.3 527.8L517.7 505.5L518.1 480.7L518.5 479.2L518.9 523.6L519.3 549.6L519.7 527.1L520.1 530.4L520.5 554.2L520.9 525.4L521.3 416.9L521.7 408.7L522.1 412.6L522.5 475.7L522.9 410.3L523.3 486.7L523.7 548.5L524.1 550.7L524.5 532.2L524.9 532.8L525.3 551.5L525.7 555.7L526.1 548.5L526.5 545.1L526.9 552.5L527.3 553.6L527.7 534.7L528.1 532.4L528.5 545.6L528.9 539.7L529.3 489.0L529.7 403.1L530.1 480.9L530.5 446.2L530.9 402.9L531.3 453.5L531.7 551.7L532.1 544.5L532.5 486.2L532.9 455.1L533.3 483.3L533.7 479.8L534.1 454.1L534.5 437.2L534.9 488.2L535.3 470.9L535.7 437.8L536.1 480.2L536.5 552.2L536.9 550.6L537.3 530.0L537.7 532.8L538.1 556.2L538.5 520.0L538.9 435.4L539.3 429.8L539.7 432.1L540.1 480.6L540.5 430.2L540.9 399.6L541.3 423.2L541.7 452.6L542.1 399.7L542.5 460.4L542.9 542.5L543.3 547.2L543.7 526.5L544.1 527.5L544.5 542.0L544.9 530.3L545.3 448.8L545.7 449.4L546.1 475.8L546.5 541.2L546.9 483.3L547.3 526.2L547.7 538.1L548.1 541.4L548.5 525.5L548.9 530.5L549.3 547.7L549.7 567.5L550.1 548.5L550.5 540.4L550.9 569.2L551.3 534.8L551.7 507.2L552.1 508.9L552.5 518.9L552.9 540.7L553.3 519.4L553.7 529.6L554.1 544.2L554.5 537.8L554.9 524.1L555.3 528.4L555.7 538.7L556.1 529.4L556.5 506.9L556.9 399.1L557.3 506.3L557.7 390.8L558.1 382.7L558.5 385.4L558.9 494.9L559.3 509.9L559.7 495.7L560.1 444.9L560.5 516.4L560.9 448.7L561.3 443.9L561.7 443.6L562.1 496.0L562.5 518.6L562.9 436.0L563.3 436.8L563.7 439.6L564.1 485.5L564.5 438.6L564.9 477.5L565.3 541.2L565.7 567.9L566.1 547.8L566.5 550.0L566.9 562.6L567.3 565.9L567.7 551.9L568.1 542.3L568.5 555.7L568.9 551.4L569.3 538.9L569.7 548.2L570.1 555.3L570.5 555.4L570.9 546.1L571.3 545.8L571.7 568.3L572.1 564.2L572.5 544.7L572.9 546.8L573.3 569.7L573.7 556.7L574.1 518.7L574.5 508.8L574.9 519.2L575.3 554.0L575.7 515.1L576.1 545.3L576.5 564.6L576.9 551.5L577.3 522.3L577.7 512.0L578.1 529.0L578.5 515.8L578.9 503.8L579.3 503.7L579.7 527.5L580.1 535.4L580.5 410.3L580.9 402.2L581.3 407.8L581.7 558.5L582.1 417.1L582.5 484.0L582.9 562.0L583.3 471.3L583.7 401.7L584.1 401.0L584.5 403.9L584.9 498.7L585.3 411.2L585.7 510.0L586.1 536.5L586.5 528.6L586.9 515.2L587.3 518.5L587.7 546.1L588.1 553.7L588.5 542.5L588.9 540.7L589.3 552.2L589.7 561.2L590.1 546.6L590.5 548.3L590.9 561.4L591.3 566.4L591.7 557.2L592.1 553.6L592.5 563.6L592.9 559.5L593.3 469.7L593.7 433.4L594.1 457.3L594.5 486.2L594.9 433.8L595.3 486.1L595.7 501.7L596.1 509.4L596.5 487.8L596.9 405.5L597.3 472.1L597.7 452.1L598.1 405.9L598.5 462.8L598.9 514.9L599.3 466.2L599.7 416.4L600.1 416.7L600.5 427.8L600.9 529.2L601.3 433.6L601.7 536.1L602.1 563.5L602.5 540.8L602.9 418.3L603.3 416.9L603.7 419.9L604.1 541.5L604.5 426.5L604.9 551.9L605.3 569.1L605.7 561.4L606.1 541.8L606.5 547.8L606.9 562.5L607.3 560.6L607.7 545.0L608.1 557.3L608.5 573.8L608.9 566.2L609.3 559.3L609.7 523.1L610.1 565.0L610.5 518.5L610.9 465.3L611.3 465.6L611.7 491.1L612.1 553.1L612.5 496.3L612.9 445.6L613.3 555.1L613.7 437.9L614.1 392.1L614.5 393.3L614.9 462.0L615.3 556.5L615.7 471.4L616.1 538.8L616.5 547.7L616.9 552.6L617.3 538.2L617.7 555.1L618.1 571.2L618.5 580.1L618.9 565.8L619.3 546.9L619.7 570.5L620.1 545.9L620.5 487.6L620.9 484.5L621.3 488.5L621.7 552.7L622.1 486.2L622.5 555.6L622.9 583.4L623.3 584.8L623.7 569.2L624.1 562.6L624.5 578.6L624.9 561.9L625.3 487.8L625.7 415.4L626.1 479.0L626.5 458.8L626.9 416.1L627.3 466.9L627.7 574.4L628.1 583.3L628.5 569.8L628.9 551.8L629.3 586.2L629.7 550.3L630.1 538.8L630.5 536.0L630.9 560.7L631.3 570.8L631.7 517.5L632.1 482.2L632.5 514.8L632.9 522.4L633.3 478.3L633.7 525.1L634.1 586.2L634.5 573.2L634.9 550.0L635.3 538.5L635.7 558.5L636.1 547.2L636.5 529.1L636.9 533.7L637.3 562.2L637.7 553.7L638.1 494.7L638.5 492.6L638.9 528.5L639.3 560.3L639.7 529.4L640.1 549.9L640.5 566.1L640.9 572.1L641.3 562.3L641.7 501.7L642.1 560.4L642.5 506.4L642.9 478.1L643.3 449.2L643.7 470.3L644.1 511.4L644.5 448.9L644.9 507.3L645.3 555.8L645.7 564.2L646.1 553.5L646.5 541.6L646.9 554.4L647.3 552.7L647.7 487.4L648.1 431.1L648.5 480.3L648.9 453.3L649.3 432.5L649.7 448.8L650.1 450.3L650.5 497.1L650.9 449.8L651.3 497.1L651.7 515.5L652.1 572.5L652.5 519.6L652.9 563.8L653.3 584.2L653.7 588.2L654.1 576.1L654.5 572.7L654.9 582.7L655.3 584.0L655.7 568.9L656.1 569.6L656.5 580.0L656.9 585.4L657.3 570.6L657.7 566.8L658.1 579.0L658.5 557.4L658.9 441.5L659.3 425.5L659.7 432.3L660.1 570.2L660.5 427.3L660.9 575.1L661.3 594.1L661.7 585.8L662.1 578.3L662.5 572.6L662.9 590.6L663.3 588.4L663.7 560.1L664.1 569.1L664.5 582.5L664.9 583.1L665.3 572.4L665.7 562.7L666.1 577.8L666.5 575.2L666.9 483.7L667.3 457.5L667.7 472.6L668.1 513.4L668.5 457.3L668.9 522.8L669.3 584.2L669.7 584.8L670.1 557.0L670.5 528.8L670.9 555.2L671.3 547.8L671.7 522.9L672.1 547.7L672.5 574.8L672.9 569.1L673.3 533.0L673.7 531.2L674.1 543.5L674.5 536.6L674.9 494.5L675.3 494.4L675.7 528.3L676.1 577.5L676.5 539.0L676.9 410.8L677.3 564.4L677.7 480.8L678.1 410.2L678.5 485.1L678.9 557.8L679.3 571.3L679.7 552.3L680.1 535.0L680.5 572.3L680.9 536.3L681.3 525.9L681.7 523.3L682.1 546.1L682.5 560.4L682.9 545.2L683.3 534.2L683.7 545.4L684.1 537.9L684.5 492.5L684.9 491.3L685.3 496.0L685.7 536.4L686.1 494.8L686.5 491.6L686.9 530.4L687.3 521.5L687.7 486.6L688.1 487.0L688.5 547.8L688.9 485.6L689.3 482.5L689.7 473.1L690.1 509.6L690.5 466.6L690.9 427.9L691.3 429.7L691.7 452.9L692.1 532.4L692.5 458.9L692.9 517.8L693.3 531.1L693.7 534.9L694.1 517.8L694.5 534.7L694.9 591.4L695.3 596.8L695.7 583.3L696.1 583.0L696.5 608.3L696.9 598.3L697.3 580.2L697.7 569.6L698.1 589.3L698.5 587.9L698.9 576.7L699.3 564.1L699.7 581.8L700.1 580.5L700.5 560.1L700.9 558.8L701.3 579.3L701.7 577.0L702.1 564.4L702.5 562.0L702.9 575.9L703.3 570.1L703.7 560.6L704.1 564.6L704.5 578.3L704.9 568.1L705.3 517.2L705.7 520.1L706.1 537.8L706.5 578.2L706.9 534.4L707.3 542.6L707.7 573.4L708.1 567.4L708.5 560.2L708.9 561.8L709.3 574.4L709.7 556.6L710.1 545.5L710.5 542.2L710.9 553.9L711.3 565.1L711.7 548.2L712.1 551.0L712.5 570.3L712.9 555.7L713.3 527.3L713.7 530.6L714.1 539.4L714.5 555.4L714.9 518.3L715.3 514.8L715.7 517.5L716.1 544.4L716.5 514.6L716.9 535.5L717.3 581.9L717.7 589.8L718.1 569.4L718.5 568.0L718.9 575.2L719.3 569.2L719.7 560.4L720.1 554.7L720.5 570.3L720.9 573.1L721.3 552.6L721.7 479.2L722.1 554.9L722.5 473.1L722.9 462.6L723.3 461.7L723.7 479.2L724.1 544.2L724.5 482.4L724.9 553.0L725.3 566.5L725.7 569.5L726.1 555.3L726.5 544.6L726.9 559.5L727.3 541.9L727.7 531.8L728.1 539.8L728.5 557.6L728.9 569.8L729.3 552.9L729.7 535.5L730.1 552.7L730.5 541.7L730.9 528.6L731.3 528.3L731.7 540.4L732.1 542.6L732.5 527.4L732.9 543.1L733.3 557.8L733.7 549.2L734.1 532.8L734.5 537.9L734.9 548.8L735.3 555.6L735.7 541.7L736.1 544.2L736.5 554.5L736.9 559.3L737.3 547.5L737.7 546.8L738.1 552.2L738.5 553.9L738.9 538.1L739.3 531.1L739.7 540.5L740.1 543.3L740.5 509.1L740.9 428.2L741.3 502.1L741.7 442.0L742.1 427.9L742.5 446.6L742.9 521.4L743.3 539.9L743.7 530.5L744.1 527.6L744.5 543.1L744.9 542.7L745.3 535.6L745.7 540.7L746.1 560.6L746.5 558.3L746.9 537.0L747.3 540.8L747.7 553.5L748.1 549.9L748.5 540.9L748.9 537.8L749.3 548.8L749.7 550.0L750.1 539.0L750.5 543.4L750.9 559.0L751.3 563.6L751.7 543.4L752.1 544.1L752.5 555.1L752.9 563.1L753.3 547.5L753.7 554.8L754.1 566.6L754.5 568.7L754.9 556.4L755.3 553.3L755.7 575.0L756.1 580.7L756.5 568.2L756.9 562.4L757.3 571.5L757.7 567.9L758.1 554.1L758.5 558.2L758.9 566.7L759.3 570.4L759.7 559.9L760.1 567.5L760.5 581.8L760.9 578.0L761.3 565.2L761.7 571.2L762.1 588.5L762.5 589.3L762.9 567.7L763.3 481.9L763.7 560.6L764.1 476.2L764.5 473.3L764.9 474.4L765.3 533.1L765.7 602.1L766.1 543.7L766.5 590.7L766.9 604.6L767.3 623.3L767.7 599.8L768.1 619.3L768.5 625.1L768.9 628.8L769.3 610.5L769.7 618.4L770.1 632.8L770.5 647.3L770.9 631.0L771.3 628.9L771.7 637.5L772.1 646.6L772.5 636.8L772.9 627.7L773.3 657.2L773.7 663.4L774.1 648.5L774.5 650.6L774.9 661.5L775.3 664.8L775.7 649.3L776.1 655.6L776.5 661.7L776.9 668.2L777.3 655.2L777.7 657.9L778.1 667.8L778.5 680.2L778.9 665.8L779.3 666.1L779.7 677.5L780.1 672.1L780.5 659.1L780.9 660.9L781.3 674.6L781.7 662.0L782.1 588.3L782.5 558.5L782.9 582.0L783.3 632.7L783.7 560.0L784.1 635.0L784.5 666.4L784.9 659.6L785.3 645.3L785.7 651.9L786.1 660.8L786.5 662.4L786.9 650.6L787.3 644.6L787.7 660.2L788.1 658.9L788.5 627.6L788.9 624.6L789.3 635.3L789.7 648.4L790.1 622.0L790.5 551.5L790.9 642.5L791.3 546.8L791.7 541.8L792.1 544.2L792.5 605.4L792.9 646.9L793.3 617.4L793.7 584.3L794.1 621.3L794.5 585.2L794.9 581.6L795.3 580.9L795.7 597.2L796.1 619.5L796.5 599.5L796.9 613.3L797.3 620.9L797.7 631.2L798.1 612.0L798.5 562.9L798.9 629.8L799.3 551.2L799.7 479.0L800.1 476.0L800.5 486.3L800.9 578.8L801.3 493.0L801.7 584.1L802.1 609.9L802.5 614.4L802.9 595.4L803.3 597.8L803.7 607.6L804.1 608.8L804.5 589.0L804.9 540.3L805.3 587.9L805.7 540.5L806.1 538.2L806.5 540.1L806.9 573.7L807.3 578.4L807.7 472.1L808.1 438.4L808.5 460.7L808.9 504.1L809.3 438.4L809.7 509.4L810.1 570.4L810.5 567.9L810.9 554.6L811.3 560.5L811.7 571.1L812.1 568.5L812.5 556.9L812.9 502.0L813.3 561.4L813.7 489.2L814.1 402.5L814.5 400.9L814.9 449.2L815.3 550.5L815.7 459.0L816.1 543.0L816.5 555.0L816.9 545.8L817.3 535.7L817.7 533.7L818.1 546.6L818.5 545.3L818.9 533.3L819.3 510.3L819.7 541.3L820.1 533.0L820.5 509.5L820.9 483.7L821.3 536.8L821.7 486.6L822.1 438.5L822.5 438.0L822.9 449.9L823.3 519.4L823.7 454.1L824.1 500.3L824.5 514.8L824.9 516.6L825.3 501.6L825.7 408.5L826.1 520.8L826.5 399.4L826.9 367.0L827.3 367.8L827.7 468.1L828.1 508.2L828.5 457.0L828.9 453.6L829.3 457.7L829.7 511.8L830.1 457.7L830.5 505.0L830.9 513.8L831.3 520.5L831.7 509.0L832.1 499.5L832.5 523.8L832.9 513.7L833.3 494.9L833.7 514.5L834.1 538.2L834.5 556.2L834.9 526.5L835.3 523.9L835.7 542.2L836.1 525.2L836.5 465.5L836.9 418.8L837.3 460.5L837.7 435.7L838.1 418.0L838.5 440.6L838.9 501.1L839.3 498.8L839.7 488.6L840.1 489.7L840.5 516.8L840.9 542.3L841.3 518.3L841.7 534.1L842.1 549.1L842.5 544.0L842.9 530.2L843.3 527.5L843.7 539.0L844.1 536.0L844.5 506.0L844.9 387.4L845.3 497.4L845.7 439.3L846.1 384.7L846.5 450.8L846.9 539.6L847.3 536.7L847.7 518.8L848.1 496.7L848.5 517.2L848.9 511.1L849.3 498.0L849.7 491.7L850.1 521.7L850.5 482.2L850.9 387.3L851.3 387.6L851.7 413.4L852.1 513.9L852.5 423.3L852.9 511.6L853.3 537.8L853.7 510.5L854.1 495.4L854.5 497.1L854.9 533.8L855.3 539.0L855.7 519.5L856.1 515.2L856.5 524.5L856.9 536.7L857.3 516.6L857.7 535.9L858.1 556.7L858.5 566.7L858.9 555.4L859.3 560.3L859.7 575.1L860.1 571.5L860.5 471.9L860.9 471.2L861.3 478.6L861.7 565.4L862.1 487.8L862.5 564.8L862.9 579.9L863.3 585.1L863.7 574.0L864.1 577.8L864.5 589.5L864.9 590.6L865.3 581.3L865.7 576.8L866.1 586.2L866.5 581.0L866.9 563.3L867.3 575.1L867.7 585.9L868.1 586.0L868.5 572.3L868.9 571.5L869.3 584.4L869.7 582.1L870.1 565.5L870.5 575.8L870.9 584.9L871.3 583.6L871.7 549.0L872.1 542.5L872.5 563.0L872.9 568.6L873.3 555.1L873.7 562.8L874.1 573.7L874.5 574.1L874.9 550.0L875.3 518.5L875.7 550.2L876.1 535.8L876.5 519.2L876.9 536.0L877.3 552.2L877.7 565.7L878.1 552.7L878.5 552.2L878.9 562.1L879.3 554.6L879.7 549.1L880.1 538.0L880.5 549.4L880.9 550.0L881.3 539.6L881.7 500.5L882.1 541.7L882.5 495.8L882.9 472.6L883.3 477.2L883.7 489.8L884.1 541.0L884.5 493.3L884.9 395.0L885.3 542.1L885.7 402.2L886.1 394.6L886.5 408.8L886.9 500.5L887.3 492.2L887.7 424.1L888.1 422.8L888.5 425.8L888.9 494.7L889.3 430.0L889.7 504.6L890.1 530.7L890.5 541.0L890.9 508.5L891.3 527.8L891.7 542.3L892.1 532.3L892.5 522.9L892.9 379.2L893.3 525.1L893.7 423.9L894.1 380.2L894.5 434.5L894.9 504.9L895.3 517.1L895.7 500.0L896.1 502.7L896.5 526.2L896.9 526.1L897.3 443.7L897.7 413.6L898.1 439.3L898.5 478.5L898.9 414.7L899.3 485.7L899.7 531.9L900.1 523.3L900.5 517.0L900.9 515.2L901.3 526.3L901.7 543.1L902.1 522.5L902.5 532.6L902.9 541.0L903.3 537.1L903.7 531.3L904.1 532.2L904.5 540.8L904.9 534.5L905.3 514.9L905.7 508.2L906.1 524.6L906.5 510.0L906.9 507.2L907.3 508.9L907.7 529.3L908.1 537.3L908.5 523.5L908.9 521.8L909.3 533.2L909.7 543.4L910.1 511.6L910.5 477.0L910.9 506.3L911.3 512.8L911.7 478.4L912.1 522.0L912.5 551.0L912.9 555.6L913.3 539.1L913.7 543.6L914.1 555.0L914.5 557.5L914.9 543.7L915.3 547.0L915.7 558.2L916.1 536.5L916.5 404.9L916.9 401.6L917.3 407.4L917.7 474.2L918.1 401.2L918.5 481.4L918.9 573.4L919.3 570.0L919.7 556.2L920.1 510.3L920.5 571.8L920.9 499.3L921.3 410.0L921.7 410.8L922.1 443.7L922.5 545.2L922.9 452.9L923.3 547.0L923.7 566.2L924.1 559.7L924.5 549.4L924.9 557.5L925.3 573.6L925.7 572.8L926.1 539.3L926.5 536.1L926.9 544.4L927.3 559.2L927.7 535.4L928.1 560.5L928.5 601.3L928.9 595.9L929.3 577.4L929.7 557.0L930.1 582.3L930.5 571.6L930.9 546.6L931.3 571.3L931.7 588.7L932.1 596.9L932.5 574.0L932.9 562.8L933.3 574.2L933.7 578.5L934.1 556.3L934.5 581.8L934.9 591.6L935.3 591.3L935.7 526.6L936.1 439.5L936.5 516.3L936.9 512.9L937.3 440.2L937.7 523.4L938.1 587.7L938.5 586.9L938.9 579.8L939.3 575.9L939.7 584.5L940.1 584.1L940.5 577.2L940.9 576.6L941.3 588.2L941.7 580.7L942.1 530.2L942.5 515.2L942.9 528.8L943.3 563.0L943.7 514.7L944.1 552.5L944.5 562.3L944.9 583.1L945.3 552.5L945.7 586.0L946.1 602.6L946.5 604.3L946.9 514.6L947.3 451.6L947.7 505.0L948.1 464.8L948.5 450.6L948.9 471.7L949.3 588.4L949.7 605.1L950.1 585.1L950.5 603.3L950.9 628.6L951.3 634.2L951.7 620.3L952.1 619.3L952.5 632.5L952.9 637.7L953.3 612.0L953.7 610.6L954.1 617.1L954.5 661.0L954.9 613.4L955.3 654.7L955.7 672.1L956.1 668.4L956.5 662.1L956.9 628.4L957.3 673.3L957.7 621.5L958.1 607.5L958.5 609.1L958.9 650.3L959.3 679.0L959.7 656.0L960.1 672.9L960.5 684.8L960.9 685.2L961.3 653.6L961.7 634.8L962.1 646.7L962.5 691.8L962.9 635.2L963.3 675.5L963.7 710.6L964.1 679.7L964.5 635.7L964.9 635.5L965.3 637.6L965.7 664.4L966.1 636.0L966.5 660.8L966.9 699.1L967.3 711.4L967.7 698.3L968.1 689.6L968.5 708.6L968.9 712.9L969.3 702.3L969.7 699.1L970.1 710.3L970.5 711.5L970.9 706.3L971.3 693.7L971.7 719.1L972.1 683.9L972.5 557.4L972.9 555.3L973.3 558.1L973.7 670.8L974.1 560.5L974.5 677.5L974.9 698.7L975.3 688.5L975.7 674.1L976.1 658.9L976.5 680.6L976.9 668.4L977.3 654.8L977.7 645.6L978.1 658.4L978.5 653.7L978.9 646.8L979.3 638.8L979.7 648.5L980.1 638.3L980.5 617.1L980.9 606.5L981.3 623.2L981.7 613.6L982.1 600.4L982.5 582.7L982.9 608.9L983.3 581.9L983.7 556.2L984.1 553.8L984.5 561.8L984.9 578.2L985.3 555.2L985.7 559.1L986.1 567.5L986.5 559.9L986.9 492.6L987.3 474.0L987.7 483.8L988.1 521.2L988.5 473.9L988.9 522.0L989.3 565.5L989.7 571.4L990.1 557.7L990.5 554.6L990.9 566.1L991.3 570.2L991.7 560.2L992.1 539.0L992.5 563.3L992.9 569.3L993.3 547.3L993.7 560.3L994.1 573.8L994.5 572.1L994.9 560.9L995.3 563.7L995.7 573.0L996.1 574.4L996.5 510.1L996.9 418.1L997.3 502.1L997.7 426.1L998.1 416.5L998.5 431.4L998.9 520.7L999.3 571.8L999.7 530.9L1000.1 566.0L1000.5 577.8L1000.9 569.0L1001.3 562.7L1001.7 561.1L1002.1 577.2L1002.5 586.7L1002.9 571.7L1003.3 566.9L1003.7 576.5L1004.1 576.6L1004.5 535.1L1004.9 469.2L1005.3 526.7L1005.7 495.0L1006.1 467.4L1006.5 503.5L1006.9 604.0L1007.3 608.0L1007.7 598.1L1008.1 608.8L1008.5 628.7L1008.9 633.1L1009.3 622.6L1009.7 632.9L1010.1 644.8L1010.5 664.1L1010.9 644.1L1011.3 657.0L1011.7 671.9L1012.1 685.0L1012.5 667.8L1012.9 683.7L1013.3 692.7L1013.7 691.0L1014.1 600.3L1014.5 550.7L1014.9 588.7L1015.3 582.2L1015.7 548.4L1016.1 588.4L1016.5 698.8L1016.9 749.3L1017.3 699.9L1017.7 734.2L1018.1 746.7L1018.5 751.4L1018.9 667.2L1019.3 626.5L1019.7 666.9L1020.1 736.7L1020.5 629.7L1020.9 745.8L1021.3 779.7L1021.7 781.1L1022.1 767.6L1022.5 766.8L1022.9 780.7L1023.3 762.7L1023.7 705.9L1024.1 679.7L1024.5 701.3L1024.9 722.1L1025.3 678.8L1025.7 728.0L1026.1 821.2L1026.5 821.9L1026.9 811.9L1027.3 813.8L1027.7 829.6L1028.1 822.0L1028.5 805.3L1028.9 815.3L1029.3 831.1L1029.7 841.0L1030.1 831.9L1030.5 832.7L1030.9 838.8L1031.3 840.8L1031.7 828.2L1032.1 839.2L1032.5 849.1L1032.9 852.9L1033.3 813.4L1033.7 746.5L1034.1 799.4L1034.5 784.4L1034.9 746.8L1035.3 790.6L1035.7 851.3L1036.1 852.5L1036.5 846.5L1036.9 845.5L1037.3 854.9L1037.7 851.2L1038.1 841.6L1038.5 841.9L1038.9 851.1L1039.3 852.3L1039.7 845.6L1040.1 846.5L1040.5 852.6L1040.9 853.5L1041.3 844.0L1041.7 844.6L1042.1 856.6L1042.5 848.7L1042.9 793.9L1043.3 782.4L1043.7 788.7L1044.1 806.0L1044.5 783.2L1044.9 811.8L1045.3 841.9L1045.7 846.5L1046.1 833.1L1046.5 837.5L1046.9 848.3L1047.3 850.2L1047.7 843.8L1048.1 839.7L1048.5 851.3L1048.9 846.4L1049.3 836.1L1049.7 834.6L1050.1 847.0L1050.5 843.8L1050.9 836.4L1051.3 836.5L1051.7 843.5L1052.1 848.4L1052.5 833.9L1052.9 844.2L1053.3 852.4L1053.7 853.7L1054.1 845.0L1054.5 844.5L1054.9 855.7L1055.3 856.4L1055.7 832.9L1056.1 832.8L1056.5 843.1L1056.9 842.1L1057.3 820.7L1057.7 819.9L1058.1 829.5L1058.5 829.7L1058.9 766.9L1059.3 700.3L1059.7 757.2L1060.1 729.9L1060.5 699.6L1060.9 740.0L1061.3 803.8L1061.7 802.4L1062.1 790.5L1062.5 777.4L1062.9 794.6L1063.3 798.4L1063.7 780.5L1064.1 778.8L1064.5 787.2L1064.9 787.9L1065.3 765.9L1065.7 764.3L1066.1 779.7L1066.5 771.8L1066.9 714.9L1067.3 698.0L1067.7 713.9L1068.1 736.5L1068.5 699.9L1068.9 731.2L1069.3 766.2L1069.7 759.0L1070.1 743.6L1070.5 747.3L1070.9 752.6L1071.3 759.4L1071.7 747.5L1072.1 743.2L1072.5 755.0L1072.9 748.3L1073.3 739.4L1073.7 734.0L1074.1 748.5L1074.5 753.8L1074.9 743.9L1075.3 741.7L1075.7 751.5L1076.1 750.8L1076.5 743.1L1076.9 739.8L1077.3 754.1L1077.7 745.5L1078.1 736.3L1078.5 729.8L1078.9 745.2L1079.3 738.1L1079.7 728.6L1080.1 727.3L1080.5 746.5L1080.9 732.6L1081.3 660.9L1081.7 642.6L1082.1 663.7L1082.5 659.2L1082.9 641.8L1083.3 667.1L1083.7 709.9L1084.1 712.2L1084.5 700.0L1084.9 664.0L1085.3 698.2L1085.7 664.2L1086.1 621.0L1086.5 620.3L1086.9 624.1L1087.3 649.1L1087.7 624.2L1088.1 639.3L1088.5 652.2L1088.9 657.1L1089.3 619.8L1089.7 580.1L1090.1 624.4L1090.5 594.5L1090.9 580.3L1091.3 596.1L1091.7 636.1L1092.1 641.1L1092.5 623.2L1092.9 623.6L1093.3 636.4L1093.7 638.5L1094.1 627.6L1094.5 629.3L1094.9 639.1L1095.3 640.7L1095.7 624.2L1096.1 618.5L1096.5 633.9L1096.9 620.8L1097.3 609.3L1097.7 599.4L1098.1 623.8L1098.5 608.3L1098.9 600.6L1099.3 596.7L1099.7 607.8L1100.1 603.4L1100.5 587.6L1100.9 586.6L1101.3 597.9L1101.7 591.8L1102.1 579.7L1102.5 547.6L1102.9 586.8L1103.3 556.5L1103.7 537.5L1104.1 538.0L1104.5 572.2L1104.9 577.9L1105.3 554.4L1105.7 542.6L1106.1 563.0L1106.5 559.4L1106.9 546.4L1107.3 543.7L1107.7 561.9L1108.1 551.4L1108.5 496.0L1108.9 481.7L1109.3 496.5L1109.7 537.5L1110.1 489.2L1110.5 403.1L1110.9 493.4L1111.3 437.8L1111.7 403.9L1112.1 442.7L1112.5 530.0L1112.9 544.4L1113.3 522.0L1113.7 539.0L1114.1 556.2L1114.5 551.2L1114.9 523.3L1115.3 528.0L1115.7 540.5L1116.1 552.5L1116.5 530.3L1116.9 510.2L1117.3 550.6L1117.7 502.6L1118.1 413.8L1118.5 415.5L1118.9 441.5L1119.3 564.7L1119.7 453.8L1120.1 552.7L1120.5 567.6L1120.9 577.5L1121.3 553.3L1121.7 510.0L1122.1 563.2L1122.5 502.0L1122.9 474.8L1123.3 483.5L1123.7 535.1L1124.1 560.4L1124.5 540.0L1124.9 542.2L1125.3 556.0L1125.7 569.2L1126.1 552.0L1126.5 464.4L1126.9 562.0L1127.3 458.0L1127.7 392.4L1128.1 392.4L1128.5 462.6L1128.9 557.1L1129.3 474.4L1129.7 547.4L1130.1 562.9L1130.5 562.2L1130.9 513.2L1131.3 499.9L1131.7 510.5L1132.1 518.9L1132.5 499.8L1132.9 516.1L1133.3 529.5L1133.7 551.4L1134.1 527.6L1134.5 533.7L1134.9 549.3L1135.3 550.3L1135.7 531.1L1136.1 495.7L1136.5 529.3L1136.9 502.4L1137.3 492.9L1137.7 477.4L1138.1 489.3L1138.5 515.2L1138.9 476.7L1139.3 507.2L1139.7 535.3L1140.1 540.6L1140.5 524.6L1140.9 544.5L1141.3 558.2L1141.7 564.8L1142.1 546.5L1142.5 533.4L1142.9 544.3L1143.3 534.6L1143.7 512.2L1144.1 514.9L1144.5 533.7L1144.9 530.9L1145.3 455.4L1145.7 366.9L1146.1 446.8L1146.5 373.7L1146.9 367.8L1147.3 381.9L1147.7 493.0L1148.1 531.8L1148.5 499.1L1148.9 507.2L1149.3 518.1L1149.7 523.7L1150.1 509.8L1150.5 503.7L1150.9 520.8L1151.3 516.7L1151.7 505.6L1152.1 444.6L1152.5 514.9L1152.9 446.2L1153.3 442.7L1153.7 445.2L1154.1 482.4L1154.5 527.8L1154.9 490.3L1155.3 503.7L1155.7 520.0L1156.1 522.8L1156.5 509.8L1156.9 507.4L1157.3 523.3L1157.7 533.0L1158.1 459.9L1158.5 416.6L1158.9 452.3L1159.3 438.9L1159.7 416.9L1160.1 445.9L1160.5 512.6L1160.9 533.7L1161.3 516.7L1161.7 521.4L1162.1 537.7L1162.5 523.7L1162.9 510.4L1163.3 513.0L1163.7 526.0L1164.1 527.0L1164.5 409.7L1164.9 407.5L1165.3 417.9L1165.7 434.2L1166.1 346.9L1166.5 345.9L1166.9 354.9L1167.3 463.4L1167.7 361.4L1168.1 449.8L1168.5 457.9L1168.9 500.5L1169.3 448.8L1169.7 501.0L1170.1 513.4L1170.5 513.0L1170.9 498.2L1171.3 478.8L1171.7 502.3L1172.1 493.4L1172.5 483.8L1172.9 474.7L1173.3 485.1L1173.7 476.1L1174.1 375.9L1174.5 334.4L1174.9 366.3L1175.3 371.7L1175.7 335.9L1176.1 379.3L1176.5 450.9L1176.9 467.1L1177.3 455.8L1177.7 453.7L1178.1 468.1L1178.5 462.5L1178.9 454.7L1179.3 400.5L1179.7 462.8L1180.1 386.4L1180.5 329.2L1180.9 329.2L1181.3 331.7L1181.7 402.6L1182.1 330.1L1182.5 402.9L1182.9 447.4L1183.3 465.9L1183.7 445.8L1184.1 327.0L1184.5 437.5L1184.9 340.4L1185.3 325.2L1185.7 349.0L1186.1 452.2L1186.5 452.1L1186.9 440.2L1187.3 439.3L1187.7 450.4L1188.1 450.1L1188.5 438.8L1188.9 433.9L1189.3 454.6L1189.7 449.9L1190.1 441.3L1190.5 424.1L1190.9 446.3L1191.3 416.4L1191.7 297.0L1192.1 283.9L1192.5 290.0L1192.9 404.4L1193.3 284.4L1193.7 396.9L1194.1 432.0L1194.5 397.7L1194.9 353.4L1195.3 354.7L1195.7 380.0L1196.1 401.2L1196.5 380.6L1196.9 374.6L1197.3 391.6L1197.7 373.8L1198.1 316.4L1198.5 315.7L1198.9 319.5L1199.3 349.9L1199.7 323.1L1200.1 343.5L1200.5 358.2L1200.9 346.0L1201.3 332.7L1201.7 335.6L1202.1 345.8L1202.5 344.6L1202.9 334.6L1203.3 337.0L1203.7 352.3L1204.1 336.1L1204.5 325.8L1204.9 319.1L1205.3 333.4L1205.7 325.1L1206.1 312.7L1206.5 310.0L1206.9 321.0L1207.3 311.6L1207.7 265.6L1208.1 256.6L1208.5 268.1L1208.9 266.8L1209.3 256.6L1209.7 266.6L1210.1 300.9L1210.5 300.4L1210.9 289.1L1211.3 261.5L1211.7 295.0L1212.1 254.5L1212.5 224.8L1212.9 221.4L1213.3 225.3L1213.7 294.6L1214.1 227.8L1214.5 289.4L1214.9 302.8L1215.3 290.7L1215.7 263.9L1216.1 261.7L1216.5 264.3L1216.9 290.4L1217.3 262.1L1217.7 290.2L1218.1 320.1L1218.5 335.6L1218.9 319.1L1219.3 271.2L1219.7 323.4L1220.1 267.3L1220.5 262.8L1220.9 263.0L1221.3 314.6L1221.7 370.9L1222.1 323.5L1222.5 366.3L1222.9 378.8L1223.3 380.6L1223.7 365.4L1224.1 365.4L1224.5 391.2L1224.9 364.4L1225.3 298.5L1225.7 297.0L1226.1 305.5L1226.5 389.5L1226.9 311.2L1227.3 388.1L1227.7 413.6L1228.1 419.2L1228.5 410.4L1228.9 406.5L1229.3 414.2L1229.7 426.5L1230.1 412.2L1230.5 376.4L1230.9 437.8L1231.3 368.3L1231.7 326.9L1232.1 327.6L1232.5 382.0L1232.9 419.8L1233.3 365.0L1233.7 332.7L1234.1 354.8L1234.5 392.3L1234.9 332.2L1235.3 394.7L1235.7 437.4L1236.1 445.7L1236.5 435.1L1236.9 431.1L1237.3 448.2L1237.7 437.1L1238.1 424.3L1238.5 423.9L1238.9 437.6L1239.3 451.8L1239.7 433.8L1240.1 451.0L1240.5 465.8L1240.9 470.3L1241.3 446.3L1241.7 441.0L1242.1 456.3L1242.5 452.7L1242.9 442.9L1243.3 434.8L1243.7 448.9L1244.1 450.0L1244.5 436.7L1244.9 406.8L1245.3 446.9L1245.7 405.6L1246.1 399.6L1246.5 400.0L1246.9 436.4L1247.3 448.0L1247.7 430.3L1248.1 442.7L1248.5 458.5L1248.9 434.3L1249.3 316.5L1249.7 315.3L1250.1 322.8L1250.5 423.0L1250.9 329.4L1251.3 434.3L1251.7 457.3L1252.1 455.1L1252.5 443.1L1252.9 416.0L1253.3 451.8L1253.7 413.2L1254.1 402.8L1254.5 403.2L1254.9 419.8L1255.3 439.6L1255.7 412.4L1256.1 383.2L1256.5 417.3L1256.9 404.7L1257.3 381.2L1257.7 411.1L1258.1 455.6L1258.5 456.6L1258.9 447.9L1259.3 448.6L1259.7 462.6L1260.1 462.8L1260.5 449.0L1260.9 389.8L1261.3 451.9L1261.7 381.3L1262.1 320.3L1262.5 315.3L1262.9 322.9L1263.3 405.9L1263.7 326.5L1264.1 410.0L1264.5 447.6L1264.9 436.1L1265.3 398.4L1265.7 391.5L1266.1 394.8L1266.5 420.3L1266.9 390.2L1267.3 425.7L1267.7 439.1L1268.1 442.9L1268.5 430.9L1268.9 429.7L1269.3 445.8L1269.7 451.4L1270.1 439.5L1270.5 444.7L1270.9 452.3L1271.3 457.0L1271.7 448.3L1272.1 442.2L1272.5 456.9L1272.9 449.4L1273.3 359.2L1273.7 338.5L1274.1 351.6L1274.5 415.3L1274.9 338.6L1275.3 428.5L1275.7 451.5L1276.1 456.6L1276.5 448.9L1276.9 433.8L1277.3 450.0L1277.7 448.3L1278.1 414.8L1278.5 389.0L1278.9 414.5L1279.3 425.3L1279.7 388.7L1280.1 426.9L1280.5 441.6L1280.9 439.5L1281.3 428.7L1281.7 424.0L1282.1 434.4L1282.5 424.5L1282.9 405.0L1283.3 408.5L1283.7 427.6L1284.1 405.5L1284.5 392.5L1284.9 401.2L1285.3 427.8L1285.7 442.3L1286.1 406.4L1286.5 377.7L1286.9 404.0L1287.3 405.7L1287.7 375.3L1288.1 382.7L1288.5 411.4L1288.9 406.2L1289.3 395.3L1289.7 407.0L1290.1 444.6L1290.5 448.8L1290.9 433.5L1291.3 440.2L1291.7 456.1L1292.1 442.3L1292.5 436.5L1292.9 436.7L1293.3 452.4L1293.7 470.7L1294.1 447.2L1294.5 456.3L1294.9 466.4L1295.3 466.5L1295.7 452.1L1296.1 458.4L1296.5 468.9L1296.9 473.5L1297.3 459.8L1297.7 459.4L1298.1 470.6L1298.5 459.7L1298.9 443.8L1299.3 443.3L1299.7 460.3L1300.1 468.6L1300.5 449.2L1300.9 461.4L1301.3 475.5L1301.7 478.3L1302.1 469.1L1302.5 463.5L1302.9 475.0L1303.3 476.2L1303.7 462.9L1304.1 454.1L1304.5 462.3L1304.9 465.2L1305.3 450.4L1305.7 450.8L1306.1 459.8L1306.5 466.9L1306.9 454.6L1307.3 461.3L1307.7 482.2L1308.1 491.2L1308.5 472.4L1308.9 455.3L1309.3 472.7L1309.7 462.4L1310.1 456.6L1310.5 459.1L1310.9 467.4L1311.3 470.4L1311.7 462.1L1312.1 456.3L1312.5 469.9L1312.9 474.4L1313.3 456.8L1313.7 463.2L1314.1 473.3L1314.5 477.7L1314.9 468.5L1315.3 471.8L1315.7 487.4L1316.1 482.2L1316.5 476.0L1316.9 480.4L1317.3 493.2L1317.7 497.0L1318.1 484.0L1318.5 474.2L1318.9 488.5L1319.3 479.5L1319.7 467.1L1320.1 476.1L1320.5 491.6L1320.9 495.0L1321.3 485.2L1321.7 489.3L1322.1 513.3L1322.5 508.6L1322.9 490.5L1323.3 488.7L1323.7 497.9L1324.1 502.1L1324.5 492.8L1324.9 493.5L1325.3 508.6L1325.7 514.9L1326.1 502.4L1326.5 509.2L1326.9 513.7L1327.3 513.5L1327.7 500.3L1328.1 480.8L1328.5 504.8L1328.9 516.8L1329.3 501.4L1329.7 510.0L1330.1 519.9L1330.5 519.1L1330.9 506.4L1331.3 503.3L1331.7 513.5L1332.1 511.5L1332.5 503.8L1332.9 507.5L1333.3 517.5L1333.7 511.0L1334.1 504.4L1334.5 493.0L1334.9 505.2L1335.3 510.3L1335.7 496.0L1336.1 497.7L1336.5 507.8L1336.9 511.5L1337.3 495.6L1337.7 494.1L1338.1 507.8L1338.5 496.7L1338.9 481.6L1339.3 477.8L1339.7 486.6L1340.1 500.9L1340.5 480.4L1340.9 497.4L1341.3 513.8L1341.7 525.0L1342.1 507.4L1342.5 514.3L1342.9 523.5L1343.3 527.3L1343.7 513.4L1344.1 525.3L1344.5 540.2L1344.9 531.3L1345.3 523.0L1345.7 523.4L1346.1 542.2L1346.5 543.0L1346.9 516.1L1347.3 504.7L1347.7 519.7L1348.1 508.8L1348.5 505.1L1348.9 508.6L1349.3 528.1L1349.7 541.4L1350.1 529.4L1350.5 528.8L1350.9 540.1L1351.3 543.0L1351.7 534.5L1352.1 533.6L1352.5 545.3L1352.9 544.9L1353.3 529.7L1353.7 525.2L1354.1 535.6L1354.5 539.3L1354.9 528.1L1355.3 541.1L1355.7 549.9L1356.1 545.5L1356.5 529.9L1356.9 529.9L1357.3 542.4L1357.7 541.8L1358.1 533.7L1358.5 533.8L1358.9 542.5L1359.3 551.4L1359.7 539.6L1360.1 539.7L1360.5 551.9L1360.9 554.3L1361.3 541.8L1361.7 539.7L1362.1 548.0L1362.5 551.3L1362.9 537.4L1363.3 536.2L1363.7 544.2L1364.1 541.0L1364.5 532.3L1364.9 532.9L1365.3 552.5L1365.7 552.3L1366.1 535.8L1366.5 542.8L1366.9 549.3L1367.3 553.5L1367.7 544.6L1368.1 540.1L1368.5 549.8L1368.9 550.9L1369.3 542.7L1369.7 547.1L1370.1 559.7L1370.5 558.5L1370.9 550.2L1371.3 543.0L1371.7 556.4L1372.1 561.1L1372.5 548.6L1372.9 555.8L1373.3 570.4L1373.7 568.3L1374.1 553.8L1374.5 555.9L1374.9 569.9L1375.3 568.5L1375.7 556.0L1376.1 555.8L1376.5 562.8L1376.9 560.4L1377.3 552.8L1377.7 556.8L1378.1 568.7L1378.5 560.8L1378.9 550.0L1379.3 549.4L1379.7 560.5L1380.1 558.8L1380.5 542.8L1380.9 554.1L1381.3 568.7L1381.7 573.9L1382.1 561.6L1382.5 551.3L1382.9 569.3L1383.3 566.8L1383.7 555.5L1384.1 558.0L1384.5 569.5L1384.9 567.8L1385.3 560.0L1385.7 557.4L1386.1 581.5L1386.5 574.5L1386.9 557.4L1387.3 556.9L1387.7 561.4L1388.1 565.3L1388.5 550.5L1388.9 554.4L1389.3 571.7L1389.7 567.5L1390.1 555.2L1390.5 561.2L1390.9 575.7L1391.3 572.5L1391.7 559.4L1392.1 557.9L1392.5 572.7L1392.9 563.9L1393.3 546.2L1393.7 536.6L1394.1 545.3L1394.5 560.6L1394.9 544.2L1395.3 555.4L1395.7 564.9L1396.1 564.9L1396.5 556.5L1396.9 517.7L1397.3 560.3L1397.7 515.8L1398.1 510.3L1398.5 510.6L1398.9 548.6L1399.3 571.1L1399.7 550.3L1400.1 572.7L1400.5 579.7L1400.9 581.5L1401.3 565.0L1401.7 577.7L1402.1 591.9L1402.5 596.1L1402.9 583.3L1403.3 581.1L1403.7 593.6L1404.1 599.1L1404.5 572.8L1404.9 598.0L1405.3 608.7L1405.7 607.0L1406.1 587.8L1406.5 591.0L1406.9 614.5L1407.3 612.1L1407.7 605.5L1408.1 605.1L1408.5 614.5L1408.9 615.0L1409.3 602.5L1409.7 599.6L1410.1 617.6L1410.5 616.7L1410.9 609.7L1411.3 610.2L1411.7 616.9L1412.1 618.9L1412.5 610.8L1412.9 605.4L1413.3 618.1L1413.7 621.4L1414.1 612.4L1414.5 606.1L1414.9 634.5L1415.3 637.4L1415.7 614.7L1416.1 613.7L1416.5 623.3L1416.9 620.1L1417.3 609.5L1417.7 615.6L1418.1 630.0L1418.5 623.8L1418.9 612.9L1419.3 611.6L1419.7 619.8L1420.1 623.6L1420.5 605.9L1420.9 618.5L1421.3 628.3L1421.7 631.1L1422.1 621.2L1422.5 616.1L1422.9 633.5L1423.3 647.3L1423.7 621.3L1424.1 640.7L1424.5 647.6L1424.9 662.7L1425.3 648.4L1425.7 655.6L1426.1 667.4L1426.5 669.3L1426.9 657.0L1427.3 658.4L1427.7 669.6L1428.1 669.4L1428.5 661.0L1428.9 664.1L1429.3 672.4L1429.7 677.0L1430.1 660.4L1430.5 666.6L1430.9 675.7L1431.3 676.3L1431.7 662.7L1432.1 672.7L1432.5 681.3L1432.9 674.3L1433.3 666.2L1433.7 663.5L1434.1 673.8L1434.5 675.8L1434.9 665.6L1435.3 653.5L1435.7 668.6L1436.1 662.0L1436.5 655.1L1436.9 655.3L1437.3 667.5L1437.7 656.2L1438.1 643.1L1438.5 646.5L1438.9 657.5L1439.3 655.0L1439.7 647.6L1440.1 639.3L1440.5 656.8L1440.9 655.6L1441.3 644.7L1441.7 650.6L1442.1 658.1L1442.5 660.8L1442.9 652.6L1443.3 652.0L1443.7 664.0L1444.1 658.5L1444.5 647.2L1444.9 646.2L1445.3 656.6L1445.7 656.4L1446.1 646.1L1446.5 646.5L1446.9 653.2L1447.3 657.5L1447.7 640.3L1448.1 639.7L1448.5 656.4L1448.9 652.4L1449.3 636.9L1449.7 624.8L1450.1 641.6L1450.5 640.1L1450.9 633.0L1451.3 634.1L1451.7 647.5L1452.1 645.4L1452.5 635.0L1452.9 632.3L1453.3 641.4L1453.7 634.7L1454.1 615.2L1454.5 611.2L1454.9 625.0L1455.3 611.4L1455.7 534.3L1456.1 527.7L1456.5 532.8L1456.9 565.9L1457.3 529.5L1457.7 568.0L1458.1 614.3L1458.5 607.2L1458.9 588.0L1459.3 585.6L1459.7 606.9L1460.1 633.2L1460.5 603.7L1460.9 614.9L1461.3 628.0L1461.7 624.6L1462.1 616.5L1462.5 551.6L1462.9 626.4L1463.3 547.8L1463.7 519.1L1464.1 521.1L1464.5 599.2L1464.9 611.2L1465.3 594.2L1465.7 606.4L1466.1 629.7L1466.5 627.1L1466.9 617.0L1467.3 543.6L1467.7 608.0L1468.1 545.5L1468.5 542.6L1468.9 546.6L1469.3 599.1L1469.7 635.5L1470.1 603.2L1470.5 627.2L1470.9 638.9L1471.3 631.4L1471.7 619.6L1472.1 623.8L1472.5 633.7L1472.9 634.0L1473.3 615.8L1473.7 490.0L1474.1 603.0L1474.5 528.8L1474.9 489.4L1475.3 536.3L1475.7 610.3L1476.1 600.3L1476.5 593.5L1476.9 599.3L1477.3 620.0L1477.7 629.8L1478.1 617.1L1478.5 619.5L1478.9 633.4L1479.3 642.2L1479.7 627.6L1480.1 605.5L1480.5 629.9L1480.9 600.6L1481.3 538.9L1481.7 539.1L1482.1 577.3L1482.5 625.5L1482.9 583.2L1483.3 587.4L1483.7 613.5L1484.1 612.0L1484.5 582.7L1484.9 608.2L1485.3 623.5L1485.7 625.3L1486.1 609.4L1486.5 515.6L1486.9 603.7L1487.3 506.1L1487.7 475.4L1488.1 476.8L1488.5 537.0L1488.9 581.0L1489.3 542.2L1489.7 544.8L1490.1 567.5L1490.5 619.4L1490.9 573.4L1491.3 613.7L1491.7 627.4L1492.1 626.5L1492.5 609.4L1492.9 546.2L1493.3 610.0L1493.7 541.8L1494.1 538.6L1494.5 536.8L1494.9 562.1L1495.3 628.6L1495.7 571.8L1496.1 626.1L1496.5 636.4L1496.9 642.1L1497.3 632.8L1497.7 622.7L1498.1 636.9L1498.5 639.6L1498.9 625.1L1499.3 583.5L1499.7 646.6L1500.1 572.4L1500.5 529.7L1500.9 530.3L1501.3 559.2L1501.7 644.8L1502.1 566.7L1502.5 638.5L1502.9 652.4L1503.3 660.9L1503.7 640.1L1504.1 639.6L1504.5 654.3L1504.9 637.0L1505.3 570.7L1505.7 570.8L1506.1 588.4L1506.5 647.1L1506.9 594.5L1507.3 637.6L1507.7 645.9L1508.1 645.9L1508.5 633.4L1508.9 634.3L1509.3 649.4L1509.7 645.2L1510.1 607.0L1510.5 598.2L1510.9 620.0L1511.3 623.5L1511.7 601.1L1512.1 618.3L1512.5 648.2L1512.9 634.2L1513.3 619.1L1513.7 604.2L1514.1 624.3L1514.5 601.6L1514.9 584.7L1515.3 585.7L1515.7 615.4L1516.1 639.8L1516.5 613.2L1516.9 626.1L1517.3 642.8L1517.7 652.2L1518.1 636.6L1518.5 644.2L1518.9 668.1L1519.3 677.7L1519.7 663.9L1520.1 670.2L1520.5 687.5L1520.9 678.9L1521.3 663.4L1521.7 659.3L1522.1 671.9L1522.5 667.7L1522.9 599.9L1523.3 561.4L1523.7 588.0L1524.1 601.7L1524.5 560.9L1524.9 612.0L1525.3 663.1L1525.7 665.1L1526.1 651.0L1526.5 656.1L1526.9 667.4L1527.3 673.0L1527.7 658.4L1528.1 631.1L1528.5 659.8L1528.9 626.3L1529.3 534.0L1529.7 533.5L1530.1 541.3L1530.5 622.4L1530.9 544.8L1531.3 622.0L1531.7 650.9L1532.1 645.6L1532.5 633.8L1532.9 634.2L1533.3 650.0L1533.7 660.7L1534.1 646.4L1534.5 648.7L1534.9 658.9L1535.3 650.1L1535.7 616.8L1536.1 589.1L1536.5 610.8L1536.9 626.5L1537.3 593.1L1537.7 636.9L1538.1 657.5L1538.5 678.9L1538.9 659.3L1539.3 640.3L1539.7 675.6L1540.1 635.9L1540.5 527.4L1540.9 527.5L1541.3 536.2L1541.7 665.7L1542.1 539.9L1542.5 662.3L1542.9 669.5L1543.3 673.1L1543.7 558.3L1544.1 539.5L1544.5 548.3L1544.9 613.7L1545.3 540.8L1545.7 624.8L1546.1 658.1L1546.5 660.3L1546.9 646.8L1547.3 646.0L1547.7 656.2L1548.1 656.6L1548.5 637.5L1548.9 628.9L1549.3 649.9L1549.7 650.9L1550.1 600.8L1550.5 589.3L1550.9 599.2L1551.3 610.9L1551.7 590.6L1552.1 607.1L1552.5 645.7L1552.9 644.6L1553.3 558.6L1553.7 532.2L1554.1 552.7L1554.5 592.3L1554.9 535.2L1555.3 598.9L1555.7 643.2L1556.1 637.5L1556.5 620.1L1556.9 619.4L1557.3 644.3L1557.7 661.3L1558.1 640.1L1558.5 653.6L1558.9 661.0L1559.3 663.8L1559.7 651.4L1560.1 640.4L1560.5 662.1L1560.9 644.1L1561.3 603.0L1561.7 601.9L1562.1 604.1L1562.5 608.9L1562.9 510.9L1563.3 509.0L1563.7 511.7L1564.1 610.7L1564.5 510.0L1564.9 624.4L1565.3 665.4L1565.7 666.5L1566.1 650.6L1566.5 658.8L1566.9 671.0L1567.3 676.7L1567.7 663.5L1568.1 661.8L1568.5 674.3L1568.9 673.9L1569.3 660.9L1569.7 666.6L1570.1 677.9L1570.5 677.5L1570.9 662.1L1571.3 652.4L1571.7 669.3L1572.1 678.7L1572.5 647.9L1572.9 652.2L1573.3 671.9L1573.7 661.9L1574.1 648.4L1574.5 664.1L1574.9 673.2L1575.3 672.6L1575.7 664.3L1576.1 656.7L1576.5 670.8L1576.9 673.7L1577.3 656.8L1577.7 617.3L1578.1 663.2L1578.5 616.9L1578.9 607.8L1579.3 609.4L1579.7 643.8L1580.1 650.9L1580.5 610.1L1580.9 618.2L1581.3 633.5L1581.7 646.8L1582.1 627.7L1582.5 642.4L1582.9 651.1L1583.3 651.0L1583.7 643.3L1584.1 643.5L1584.5 656.2L1584.9 661.4L1585.3 642.9L1585.7 648.6L1586.1 655.5L1586.5 650.7L1586.9 641.8L1587.3 607.9L1587.7 651.3L1588.1 606.1L1588.5 563.0L1588.9 565.2L1589.3 568.8L1589.7 614.9L1590.1 569.9L1590.5 614.7L1590.9 636.1L1591.3 633.0L1591.7 612.5L1592.1 607.5L1592.5 624.6L1592.9 641.9L1593.3 622.4L1593.7 628.1L1594.1 639.9L1594.5 637.8L1594.9 624.7L1595.3 623.1L1595.7 639.7L1596.1 627.5L1596.5 616.6L1596.9 558.0L1597.3 613.9L1597.7 553.7L1598.1 550.5L1598.5 550.7L1598.9 570.8L1599.3 575.8L1599.7 464.6L1600.1 453.6L1600.5 457.4L1600.9 580.5L1601.3 456.1L1601.7 586.7L1602.1 617.3L1602.5 612.8L1602.9 597.2L1603.3 598.8L1603.7 617.6L1604.1 599.7L1604.5 544.9L1604.9 544.3L1605.3 548.1L1605.7 604.7L1606.1 553.1L1606.5 599.9L1606.9 624.9L1607.3 611.8L1607.7 593.3L1608.1 592.6L1608.5 610.9L1608.9 612.9L1609.3 601.9L1609.7 594.1L1610.1 607.1L1610.5 604.7L1610.9 575.8L1611.3 568.5L1611.7 575.2L1612.1 588.3L1612.5 569.2L1612.9 587.0L1613.3 611.1L1613.7 612.3L1614.1 590.5L1614.5 585.4L1614.9 595.1L1615.3 592.4L1615.7 479.4L1616.1 444.5L1616.5 475.1L1616.9 478.6L1617.3 445.2L1617.7 481.6L1618.1 571.9L1618.5 593.0L1618.9 579.1L1619.3 581.3L1619.7 591.7L1620.1 603.2L1620.5 590.1L1620.9 584.5L1621.3 597.7L1621.7 594.9L1622.1 583.2L1622.5 586.2L1622.9 595.4L1623.3 592.3L1623.7 581.6L1624.1 585.1L1624.5 592.0L1624.9 597.7L1625.3 586.5L1625.7 589.8L1626.1 598.3L1626.5 595.8L1626.9 587.4L1627.3 589.1L1627.7 595.1L1628.1 603.5L1628.5 590.8L1628.9 583.2L1629.3 594.2L1629.7 588.6L1630.1 583.3L1630.5 543.2L1630.9 587.6L1631.3 539.9L1631.7 522.0L1632.1 522.8L1632.5 551.4L1632.9 586.6L1633.3 557.0L1633.7 571.8L1634.1 589.1L1634.5 592.2L1634.9 582.2L1635.3 575.8L1635.7 588.9L1636.1 583.9L1636.5 570.9L1636.9 567.7L1637.3 578.2L1637.7 568.9L1638.1 566.7L1638.5 568.9L1638.9 580.7L1639.3 580.5L1639.7 572.1L1640.1 572.3L1640.5 581.9L1640.9 584.9L1641.3 571.7L1641.7 570.8L1642.1 580.8L1642.5 581.4L1642.9 567.1L1643.3 566.1L1643.7 580.4L1644.1 572.9L1644.5 560.5L1644.9 558.0L1645.3 566.7L1645.7 562.3L1646.1 559.5L1646.5 559.3L1646.9 569.3L1647.3 576.9L1647.7 560.0L1648.1 568.7L1648.5 580.0L1648.9 585.4L1649.3 569.8L1649.7 512.0L1650.1 575.1L1650.5 501.0L1650.9 454.7L1651.3 453.8L1651.7 481.8L1652.1 513.5L1652.5 448.9L1652.9 447.8L1653.3 449.8L1653.7 531.0L1654.1 449.4L1654.5 532.7L1654.9 574.7L1655.3 576.7L1655.7 565.4L1656.1 563.0L1656.5 582.2L1656.9 580.3L1657.3 564.9L1657.7 553.2L1658.1 577.2L1658.5 556.9L1658.9 495.8L1659.3 480.9L1659.7 490.1L1660.1 512.1L1660.5 481.2L1660.9 430.8L1661.3 479.2L1661.7 475.2L1662.1 431.4L1662.5 481.3L1662.9 554.5L1663.3 564.4L1663.7 548.5L1664.1 557.9L1664.5 569.5L1664.9 573.5L1665.3 563.1L1665.7 543.4L1666.1 583.9L1666.5 547.8L1666.9 492.1L1667.3 490.2L1667.7 498.0L1668.1 573.6L1668.5 502.0L1668.9 562.2L1669.3 574.9L1669.7 582.5L1670.1 564.9L1670.5 572.1L1670.9 585.8L1671.3 573.8L1671.7 502.5L1672.1 447.1L1672.5 497.9L1672.9 521.7L1673.3 449.4L1673.7 529.5L1674.1 573.5L1674.5 577.5L1674.9 560.6L1675.3 562.7L1675.7 570.9L1676.1 572.6L1676.5 558.7L1676.9 565.1L1677.3 579.1L1677.7 568.1L1678.1 554.0L1678.5 557.7L1678.9 573.3L1679.3 569.8L1679.7 552.5L1680.1 551.4L1680.5 557.8L1680.9 561.7L1681.3 544.8L1681.7 519.1L1682.1 555.4L1682.5 505.2L1682.9 414.5L1683.3 413.0L1683.7 467.8L1684.1 558.9L1684.5 472.8L1684.9 555.8L1685.3 563.0L1685.7 555.9L1686.1 541.5L1686.5 548.7L1686.9 551.5L1687.3 551.6L1687.7 546.4L1688.1 547.5L1688.5 561.9L1688.9 569.1L1689.3 560.7L1689.7 535.4L1690.1 566.5L1690.5 555.9L1690.9 534.4L1691.3 543.5L1691.7 562.7L1692.1 576.6L1692.5 559.1L1692.9 569.8L1693.3 577.1L1693.7 579.6L1694.1 569.6L1694.5 572.4L1694.9 583.5L1695.3 577.9L1695.7 557.9L1696.1 571.4L1696.5 582.2L1696.9 572.2L1697.3 554.7L1697.7 526.4L1698.1 552.6L1698.5 545.8L1698.9 529.7L1699.3 540.1L1699.7 570.6L1700.1 567.3L1700.5 539.0L1700.9 459.7L1701.3 532.2L1701.7 465.2L1702.1 459.8L1702.5 471.7L1702.9 528.6L1703.3 561.2L1703.7 530.4L1704.1 520.7L1704.5 531.9L1704.9 529.3L1705.3 453.6L1705.7 443.2L1706.1 448.0L1706.5 528.2L1706.9 446.8L1707.3 474.1L1707.7 537.8L1708.1 471.8L1708.5 426.1L1708.9 427.5L1709.3 448.7L1709.7 497.3L1710.1 454.4"/>
<path stroke="#00f" d="M237.7 531.4L238.1 517.3L238.5 527.5L238.9 537.9L239.3 532.4L239.7 519.2L240.1 521.0L240.5 534.2L240.9 536.9L241.3 529.0L241.7 527.6L242.1 535.9L242.5 543.4L242.9 527.2L243.3 536.4L243.7 542.1L244.1 547.6L244.5 536.9L244.9 539.5L245.3 546.0L245.7 544.2L246.1 535.9L246.5 538.4L246.9 547.4L247.3 548.8L247.7 532.2L248.1 528.6L248.5 537.7L248.9 537.4L249.3 530.0L249.7 527.0L250.1 534.1L250.5 530.9L250.9 523.0L251.3 516.0L251.7 532.3L252.1 527.2L252.5 520.5L252.9 519.5L253.3 527.2L253.7 523.6L254.1 514.4L254.5 507.2L254.9 522.7L255.3 519.1L255.7 510.2L256.1 512.5L256.5 522.4L256.9 540.4L257.3 521.3L257.7 503.9L258.1 521.1L258.5 523.6L258.9 515.9L259.3 511.4L259.7 523.1L260.1 513.2L260.5 500.2L260.9 500.1L261.3 514.4L261.7 514.1L262.1 504.3L262.5 506.7L262.9 514.6L263.3 525.8L263.7 512.1L264.1 509.2L264.5 517.8L264.9 517.4L265.3 507.1L265.7 507.4L266.1 517.1L266.5 516.7L266.9 508.8L267.3 505.2L267.7 510.9L268.1 517.2L268.5 503.2L268.9 509.1L269.3 519.5L269.7 510.7L270.1 495.8L270.5 495.3L270.9 510.9L271.3 526.1L271.7 508.7L272.1 514.6L272.5 521.8L272.9 523.7L273.3 513.9L273.7 512.0L274.1 522.6L274.5 523.6L274.9 510.9L275.3 502.3L275.7 517.7L276.1 521.5L276.5 510.1L276.9 508.0L277.3 519.8L277.7 512.5L278.1 506.5L278.5 501.3L278.9 512.9L279.3 516.2L279.7 504.7L280.1 504.8L280.5 510.3L280.9 512.3L281.3 502.4L281.7 505.1L282.1 512.1L282.5 522.3L282.9 507.3L283.3 507.2L283.7 515.2L284.1 514.9L284.5 507.4L284.9 509.1L285.3 519.6L285.7 517.0L286.1 501.6L286.5 509.0L286.9 517.2L287.3 518.4L287.7 502.4L288.1 497.4L288.5 514.0L288.9 512.8L289.3 496.6L289.7 504.4L290.1 524.0L290.5 521.3L290.9 515.8L291.3 514.9L291.7 523.5L292.1 531.8L292.5 520.4L292.9 525.5L293.3 531.8L293.7 532.0L294.1 525.2L294.5 525.8L294.9 538.5L295.3 536.2L295.7 517.4L296.1 526.1L296.5 535.2L296.9 535.7L297.3 527.8L297.7 529.1L298.1 539.4L298.5 531.6L298.9 520.9L299.3 524.7L299.7 534.5L300.1 536.9L300.5 522.7L300.9 523.5L301.3 537.3L301.7 539.1L302.1 531.5L302.5 535.1L302.9 547.5L303.3 542.5L303.7 527.7L304.1 527.6L304.5 539.8L304.9 541.1L305.3 527.4L305.7 527.4L306.1 539.7L306.5 529.7L306.9 517.9L307.3 515.8L307.7 523.4L308.1 524.2L308.5 512.9L308.9 504.2L309.3 519.6L309.7 518.7L310.1 509.5L310.5 506.2L310.9 517.6L311.3 517.6L311.7 511.1L312.1 511.3L312.5 518.7L312.9 514.0L313.3 504.6L313.7 511.7L314.1 521.4L314.5 518.5L314.9 506.6L315.3 513.1L315.7 523.2L316.1 516.1L316.5 506.0L316.9 493.9L317.3 510.1L317.7 516.1L318.1 502.0L318.5 511.0L318.9 515.4L319.3 515.5L319.7 505.5L320.1 500.5L320.5 515.4L320.9 513.6L321.3 505.5L321.7 506.4L322.1 514.1L322.5 516.5L322.9 498.3L323.3 512.1L323.7 521.2L324.1 524.0L324.5 514.2L324.9 511.5L325.3 524.7L325.7 529.7L326.1 521.6L326.5 512.7L326.9 527.8L327.3 525.5L327.7 515.4L328.1 516.2L328.5 523.1L328.9 519.1L329.3 513.0L329.7 502.2L330.1 521.8L330.5 516.0L330.9 504.9L331.3 494.0L331.7 514.3L332.1 512.3L332.5 492.5L332.9 498.3L333.3 508.6L333.7 507.5L334.1 491.8L334.5 500.7L334.9 507.3L335.3 512.4L335.7 502.7L336.1 507.6L336.5 521.3L336.9 516.6L337.3 507.4L337.7 504.6L338.1 515.3L338.5 517.5L338.9 505.0L339.3 503.3L339.7 514.7L340.1 518.4L340.5 505.9L340.9 507.1L341.3 515.4L341.7 516.4L342.1 500.2L342.5 515.7L342.9 528.5L343.3 524.8L343.7 514.8L344.1 514.4L344.5 523.1L344.9 522.5L345.3 513.9L345.7 515.0L346.1 526.2L346.5 522.1L346.9 513.4L347.3 511.1L347.7 523.5L348.1 530.4L348.5 519.6L348.9 507.4L349.3 523.7L349.7 513.5L350.1 502.4L350.5 497.5L350.9 510.5L351.3 510.4L351.7 499.9L352.1 497.3L352.5 506.7L352.9 509.2L353.3 500.2L353.7 498.9L354.1 505.9L354.5 506.7L354.9 496.8L355.3 495.9L355.7 507.7L356.1 506.5L356.5 497.5L356.9 501.7L357.3 514.3L357.7 515.9L358.1 505.2L358.5 502.8L358.9 514.3L359.3 513.3L359.7 505.8L360.1 507.0L360.5 518.4L360.9 527.5L361.3 514.3L361.7 517.1L362.1 525.0L362.5 529.1L362.9 517.8L363.3 514.4L363.7 530.9L364.1 521.3L364.5 512.2L364.9 514.9L365.3 522.9L365.7 521.9L366.1 515.1L366.5 512.5L366.9 520.1L367.3 519.4L367.7 511.8L368.1 507.7L368.5 518.1L368.9 530.1L369.3 511.1L369.7 513.0L370.1 519.6L370.5 515.2L370.9 510.8L371.3 510.7L371.7 515.8L372.1 516.8L372.5 508.2L372.9 494.0L373.3 514.4L373.7 509.7L374.1 501.5L374.5 495.6L374.9 511.8L375.3 510.6L375.7 500.2L376.1 498.0L376.5 512.7L376.9 505.1L377.3 499.9L377.7 499.1L378.1 508.9L378.5 503.7L378.9 494.3L379.3 494.5L379.7 503.4L380.1 503.4L380.5 494.5L380.9 498.5L381.3 506.8L381.7 511.7L382.1 502.3L382.5 501.5L382.9 515.9L383.3 509.2L383.7 499.3L384.1 496.9L384.5 508.3L384.9 514.9L385.3 502.1L385.7 502.0L386.1 511.3L386.5 512.6L386.9 501.6L387.3 502.6L387.7 512.0L388.1 514.3L388.5 498.1L388.9 501.8L389.3 511.0L389.7 507.5L390.1 500.3L390.5 496.8L390.9 512.7L391.3 514.6L391.7 497.0L392.1 497.1L392.5 509.0L392.9 499.8L393.3 494.1L393.7 488.8L394.1 502.4L394.5 510.8L394.9 494.9L395.3 496.1L395.7 510.7L396.1 509.4L396.5 494.4L396.9 493.7L397.3 503.7L397.7 511.1L398.1 499.7L398.5 489.5L398.9 499.8L399.3 501.2L399.7 490.7L400.1 491.8L400.5 505.7L400.9 501.1L401.3 489.1L401.7 486.4L402.1 502.8L402.5 504.7L402.9 494.3L403.3 494.8L403.7 501.6L404.1 507.5L404.5 496.5L404.9 502.5L405.3 512.2L405.7 511.9L406.1 502.8L406.5 494.9L406.9 505.3L407.3 510.6L407.7 501.8L408.1 507.2L408.5 522.9L408.9 525.5L409.3 508.1L409.7 509.7L410.1 518.1L410.5 529.2L410.9 514.6L411.3 518.6L411.7 530.2L412.1 527.0L412.5 519.6L412.9 517.6L413.3 523.1L413.7 522.8L414.1 513.4L414.5 514.7L414.9 520.5L415.3 527.2L415.7 516.5L416.1 508.3L416.5 519.7L416.9 515.5L417.3 505.8L417.7 506.4L418.1 516.6L418.5 515.4L418.9 505.2L419.3 506.8L419.7 512.0L420.1 507.7L420.5 498.7L420.9 493.2L421.3 509.2L421.7 510.5L422.1 501.8L422.5 505.0L422.9 512.9L423.3 512.2L423.7 503.6L424.1 498.8L424.5 521.2L424.9 517.9L425.3 505.4L425.7 505.2L426.1 519.7L426.5 521.4L426.9 510.2L427.3 514.9L427.7 524.0L428.1 526.8L428.5 512.3L428.9 520.3L429.3 531.1L429.7 535.8L430.1 524.3L430.5 522.6L430.9 533.8L431.3 533.0L431.7 523.9L432.1 522.0L432.5 532.2L432.9 532.7L433.3 524.2L433.7 525.9L434.1 536.7L434.5 528.2L434.9 522.7L435.3 517.9L435.7 528.3L436.1 529.5L436.5 512.6L436.9 511.9L437.3 527.8L437.7 536.3L438.1 516.2L438.5 527.3L438.9 542.9L439.3 537.1L439.7 522.4L440.1 521.2L440.5 530.9L440.9 538.9L441.3 528.5L441.7 532.1L442.1 548.4L442.5 541.4L442.9 532.9L443.3 537.2L443.7 547.1L444.1 541.5L444.5 525.8L444.9 532.0L445.3 542.3L445.7 548.8L446.1 534.9L446.5 541.5L446.9 554.7L447.3 561.6L447.7 550.0L448.1 540.0L448.5 555.4L448.9 550.3L449.3 539.8L449.7 546.8L450.1 556.3L450.5 565.2L450.9 549.3L451.3 546.1L451.7 554.2L452.1 559.9L452.5 541.3L452.9 542.9L453.3 558.2L453.7 553.0L454.1 542.9L454.5 544.3L454.9 549.0L455.3 547.3L455.7 538.9L456.1 541.3L456.5 548.9L456.9 559.2L457.3 543.1L457.7 548.5L458.1 557.2L458.5 563.2L458.9 552.5L459.3 553.9L459.7 560.7L460.1 560.7L460.5 549.6L460.9 548.3L461.3 560.6L461.7 568.4L462.1 557.0L462.5 561.3L462.9 575.0L463.3 574.2L463.7 558.4L464.1 558.8L464.5 572.3L464.9 573.6L465.3 561.9L465.7 555.0L466.1 564.4L466.5 565.5L466.9 554.5L467.3 551.3L467.7 566.0L468.1 559.0L468.5 548.6L468.9 544.8L469.3 560.0L469.7 553.6L470.1 548.4L470.5 539.9L470.9 552.1L471.3 553.0L471.7 544.5L472.1 549.2L472.5 557.1L472.9 560.5L473.3 554.8L473.7 552.6L474.1 561.9L474.5 572.5L474.9 561.1L475.3 554.6L475.7 574.9L476.1 568.9L476.5 554.1L476.9 556.6L477.3 572.4L477.7 572.9L478.1 564.1L478.5 565.7L478.9 574.9L479.3 579.4L479.7 572.1L480.1 571.2L480.5 580.5L480.9 581.2L481.3 570.2L481.7 569.1L482.1 576.8L482.5 584.6L482.9 567.9L483.3 572.4L483.7 596.9L484.1 585.4L484.5 577.1L484.9 572.0L485.3 580.7L485.7 592.0L486.1 582.0L486.5 577.5L486.9 587.0L487.3 591.3L487.7 580.1L488.1 576.5L488.5 583.8L488.9 585.8L489.3 580.0L489.7 582.5L490.1 586.9L490.5 598.0L490.9 583.3L491.3 587.2L491.7 596.8L492.1 595.3L492.5 582.8L492.9 587.9L493.3 599.4L493.7 596.0L494.1 590.3L494.5 586.5L494.9 597.5L495.3 595.8L495.7 585.1L496.1 594.0L496.5 606.1L496.9 600.6L497.3 593.4L497.7 591.0L498.1 598.9L498.5 597.0L498.9 580.3L499.3 587.9L499.7 596.3L500.1 604.4L500.5 592.2L500.9 593.7L501.3 603.2L501.7 602.4L502.1 592.6L502.5 594.7L502.9 607.2L503.3 601.4L503.7 594.8L504.1 594.6L504.5 603.5L504.9 602.4L505.3 594.5L505.7 590.8L506.1 602.7L506.5 610.9L506.9 599.2L507.3 594.4L507.7 601.5L508.1 602.8L508.5 597.6L508.9 594.3L509.3 607.4L509.7 599.8L510.1 592.0L510.5 590.5L510.9 599.7L511.3 599.8L511.7 593.0L512.1 571.5L512.5 593.7L512.9 598.6L513.3 586.3L513.7 587.5L514.1 597.8L514.5 599.8L514.9 586.4L515.3 584.9L515.7 599.7L516.1 600.2L516.5 592.8L516.9 594.2L517.3 609.8L517.7 600.3L518.1 590.5L518.5 597.3L518.9 603.8L519.3 609.5L519.7 598.1L520.1 596.0L520.5 605.7L520.9 610.4L521.3 591.0L521.7 590.5L522.1 597.3L522.5 599.7L522.9 587.3L523.3 585.6L523.7 598.9L524.1 602.5L524.5 592.7L524.9 593.7L525.3 600.5L525.7 599.3L526.1 588.6L526.5 588.8L526.9 598.4L527.3 599.3L527.7 591.8L528.1 591.6L528.5 600.5L528.9 604.4L529.3 590.0L529.7 587.5L530.1 600.6L530.5 601.8L530.9 590.9L531.3 578.8L531.7 600.5L532.1 613.5L532.5 596.5L532.9 596.9L533.3 613.7L533.7 608.8L534.1 599.7L534.5 597.7L534.9 604.7L535.3 612.2L535.7 598.8L536.1 598.6L536.5 606.8L536.9 602.0L537.3 591.5L537.7 594.3L538.1 602.7L538.5 605.9L538.9 595.3L539.3 586.6L539.7 604.2L540.1 604.0L540.5 593.8L540.9 601.5L541.3 621.6L541.7 629.0L542.1 599.6L542.5 598.8L542.9 611.4L543.3 613.0L543.7 606.1L544.1 601.2L544.5 610.8L544.9 613.8L545.3 600.8L545.7 601.9L546.1 613.5L546.5 617.5L546.9 610.2L547.3 607.3L547.7 616.0L548.1 608.1L548.5 599.8L548.9 608.4L549.3 615.0L549.7 618.5L550.1 608.9L550.5 608.7L550.9 617.4L551.3 618.9L551.7 609.5L552.1 608.2L552.5 614.9L552.9 621.2L553.3 613.1L553.7 619.2L554.1 627.1L554.5 624.5L554.9 613.3L555.3 605.2L555.7 613.8L556.1 617.6L556.5 609.2L556.9 606.2L557.3 614.2L557.7 614.4L558.1 607.3L558.5 611.7L558.9 618.4L559.3 618.3L559.7 603.6L560.1 613.9L560.5 620.9L560.9 617.5L561.3 608.5L561.7 605.3L562.1 614.6L562.5 613.9L562.9 606.1L563.3 604.2L563.7 615.0L564.1 614.3L564.5 608.0L564.9 607.1L565.3 613.9L565.7 615.7L566.1 604.7L566.5 609.3L566.9 615.8L567.3 617.3L567.7 609.6L568.1 607.4L568.5 619.3L568.9 617.4L569.3 611.1L569.7 612.5L570.1 625.3L570.5 620.5L570.9 612.8L571.3 610.8L571.7 625.4L572.1 610.3L572.5 598.2L572.9 590.9L573.3 606.4L573.7 605.0L574.1 590.3L574.5 597.8L574.9 606.3L575.3 607.7L575.7 598.2L576.1 598.8L576.5 607.3L576.9 606.4L577.3 597.1L577.7 592.7L578.1 611.1L578.5 611.3L578.9 602.4L579.3 592.7L579.7 606.1L580.1 606.2L580.5 595.7L580.9 598.4L581.3 608.9L581.7 609.6L582.1 602.9L582.5 601.3L582.9 611.8L583.3 608.7L583.7 599.6L584.1 600.2L584.5 608.2L584.9 613.6L585.3 606.2L585.7 609.2L586.1 625.1L586.5 619.1L586.9 610.0L587.3 602.5L587.7 614.9L588.1 612.7L588.5 604.3L588.9 604.7L589.3 614.4L589.7 611.2L590.1 601.7L590.5 601.1L590.9 610.6L591.3 609.7L591.7 598.5L592.1 599.0L592.5 606.8L592.9 606.3L593.3 598.2L593.7 600.7L594.1 612.7L594.5 605.8L594.9 594.6L595.3 601.0L595.7 612.8L596.1 613.6L596.5 595.9L596.9 599.1L597.3 615.7L597.7 616.4L598.1 609.6L598.5 615.5L598.9 629.4L599.3 622.1L599.7 609.0L600.1 603.3L600.5 611.1L600.9 610.1L601.3 602.9L601.7 600.8L602.1 612.6L602.5 614.3L602.9 602.2L603.3 599.8L603.7 611.3L604.1 611.4L604.5 596.4L604.9 600.1L605.3 607.9L605.7 606.6L606.1 597.1L606.5 602.6L606.9 608.2L607.3 616.2L607.7 602.8L608.1 603.1L608.5 610.4L608.9 606.3L609.3 593.7L609.7 597.4L610.1 606.5L610.5 605.0L610.9 598.5L611.3 596.4L611.7 603.6L612.1 610.8L612.5 598.7L612.9 598.6L613.3 615.9L613.7 607.1L614.1 597.4L614.5 593.6L614.9 610.6L615.3 607.1L615.7 592.5L616.1 587.9L616.5 594.8L616.9 604.6L617.3 592.5L617.7 598.9L618.1 611.6L618.5 606.1L618.9 596.8L619.3 598.8L619.7 611.2L620.1 616.6L620.5 600.8L620.9 610.6L621.3 621.7L621.7 621.5L622.1 610.2L622.5 618.2L622.9 626.0L623.3 627.2L623.7 617.7L624.1 622.0L624.5 631.3L624.9 624.1L625.3 618.8L625.7 616.6L626.1 627.0L626.5 623.9L626.9 614.3L627.3 609.6L627.7 618.1L628.1 621.5L628.5 613.0L628.9 617.9L629.3 630.2L629.7 628.7L630.1 614.4L630.5 615.9L630.9 622.4L631.3 625.0L631.7 617.7L632.1 614.7L632.5 621.1L632.9 620.9L633.3 605.7L633.7 610.8L634.1 619.6L634.5 619.7L634.9 612.7L635.3 616.5L635.7 625.8L636.1 625.0L636.5 617.2L636.9 610.8L637.3 625.1L637.7 621.8L638.1 610.2L638.5 609.1L638.9 619.4L639.3 622.1L639.7 609.1L640.1 614.6L640.5 620.5L640.9 625.0L641.3 614.0L641.7 614.1L642.1 625.4L642.5 620.5L642.9 610.3L643.3 615.4L643.7 624.0L644.1 624.1L644.5 617.7L644.9 614.9L645.3 624.6L645.7 625.8L646.1 615.7L646.5 617.3L646.9 623.4L647.3 623.7L647.7 617.4L648.1 611.9L648.5 623.3L648.9 619.8L649.3 606.8L649.7 613.3L650.1 620.5L650.5 618.9L650.9 609.4L651.3 616.8L651.7 628.6L652.1 629.2L652.5 610.9L652.9 609.5L653.3 616.6L653.7 623.5L654.1 612.7L654.5 614.8L654.9 627.3L655.3 644.2L655.7 627.7L656.1 619.1L656.5 630.6L656.9 630.8L657.3 620.2L657.7 614.8L658.1 627.0L658.5 635.9L658.9 627.7L659.3 631.3L659.7 642.7L660.1 649.2L660.5 631.0L660.9 639.1L661.3 648.4L661.7 647.4L662.1 637.1L662.5 630.0L662.9 642.6L663.3 642.4L663.7 630.1L664.1 634.7L664.5 645.9L664.9 648.8L665.3 634.0L665.7 635.6L666.1 642.2L666.5 645.3L666.9 630.5L667.3 641.7L667.7 656.1L668.1 652.1L668.5 639.6L668.9 645.8L669.3 655.8L669.7 649.2L670.1 639.3L670.5 640.3L670.9 647.7L671.3 650.3L671.7 645.3L672.1 642.3L672.5 652.4L672.9 655.2L673.3 644.5L673.7 651.9L674.1 659.6L674.5 663.8L674.9 649.2L675.3 650.6L675.7 660.8L676.1 663.5L676.5 652.0L676.9 658.2L677.3 664.4L677.7 665.6L678.1 656.9L678.5 653.1L678.9 662.6L679.3 664.0L679.7 656.0L680.1 653.0L680.5 665.1L680.9 671.8L681.3 645.6L681.7 653.6L682.1 665.9L682.5 665.8L682.9 657.7L683.3 659.1L683.7 671.2L684.1 673.8L684.5 662.6L684.9 656.2L685.3 665.2L685.7 663.6L686.1 652.5L686.5 649.5L686.9 664.7L687.3 659.7L687.7 649.1L688.1 641.9L688.5 653.0L688.9 651.3L689.3 644.7L689.7 649.4L690.1 654.8L690.5 652.8L690.9 643.5L691.3 642.2L691.7 651.1L692.1 660.5L692.5 641.6L692.9 637.5L693.3 647.1L693.7 649.2L694.1 637.9L694.5 638.4L694.9 651.9L695.3 645.2L695.7 640.5L696.1 637.2L696.5 646.0L696.9 652.0L697.3 638.8L697.7 646.9L698.1 657.3L698.5 654.4L698.9 642.7L699.3 636.7L699.7 651.9L700.1 652.7L700.5 643.9L700.9 647.4L701.3 659.1L701.7 652.9L702.1 644.0L702.5 638.2L702.9 656.1L703.3 658.5L703.7 646.2L704.1 651.7L704.5 661.1L704.9 671.2L705.3 661.6L705.7 660.4L706.1 666.1L706.5 676.7L706.9 661.4L707.3 663.3L707.7 678.0L708.1 678.1L708.5 666.4L708.9 667.0L709.3 676.0L709.7 680.7L710.1 666.3L710.5 664.9L710.9 675.7L711.3 683.0L711.7 665.2L712.1 674.3L712.5 688.8L712.9 690.1L713.3 673.0L713.7 666.6L714.1 681.1L714.5 681.4L714.9 672.9L715.3 673.3L715.7 683.5L716.1 684.4L716.5 673.1L716.9 672.2L717.3 687.5L717.7 684.5L718.1 667.7L718.5 669.7L718.9 679.9L719.3 678.8L719.7 672.3L720.1 662.0L720.5 684.2L720.9 681.2L721.3 672.2L721.7 676.0L722.1 684.9L722.5 686.6L722.9 677.3L723.3 677.0L723.7 683.4L724.1 689.1L724.5 677.3L724.9 671.5L725.3 684.5L725.7 678.4L726.1 669.3L726.5 665.7L726.9 678.7L727.3 676.9L727.7 672.3L728.1 668.4L728.5 681.8L728.9 681.9L729.3 667.9L729.7 666.2L730.1 677.7L730.5 672.5L730.9 664.0L731.3 662.3L731.7 675.2L732.1 672.9L732.5 663.3L732.9 663.4L733.3 680.4L733.7 677.3L734.1 660.3L734.5 669.8L734.9 680.1L735.3 694.1L735.7 673.0L736.1 668.8L736.5 685.3L736.9 674.8L737.3 660.3L737.7 672.4L738.1 679.6L738.5 675.9L738.9 664.6L739.3 663.0L739.7 672.1L740.1 672.5L740.5 664.0L740.9 660.9L741.3 669.4L741.7 667.8L742.1 652.9L742.5 651.2L742.9 663.2L743.3 673.2L743.7 662.3L744.1 667.2L744.5 680.0L744.9 681.4L745.3 666.3L745.7 670.4L746.1 676.5L746.5 675.1L746.9 664.4L747.3 664.2L747.7 670.8L748.1 671.9L748.5 663.9L748.9 651.9L749.3 667.6L749.7 664.4L750.1 658.1L750.5 649.6L750.9 661.0L751.3 657.5L751.7 636.2L752.1 645.7L752.5 661.4L752.9 670.4L753.3 647.8L753.7 653.3L754.1 667.6L754.5 663.8L754.9 649.7L755.3 655.5L755.7 663.4L756.1 660.6L756.5 648.1L756.9 650.0L757.3 666.4L757.7 655.6L758.1 645.9L758.5 650.5L758.9 655.5L759.3 657.1L759.7 645.0L760.1 651.7L760.5 660.2L760.9 665.3L761.3 653.3L761.7 655.2L762.1 663.0L762.5 665.6L762.9 656.8L763.3 652.7L763.7 661.4L764.1 659.4L764.5 642.5L764.9 657.5L765.3 665.0L765.7 659.3L766.1 651.3L766.5 650.3L766.9 659.4L767.3 656.8L767.7 648.9L768.1 636.4L768.5 655.2L768.9 659.4L769.3 637.6L769.7 654.0L770.1 666.8L770.5 655.6L770.9 646.3L771.3 647.7L771.7 656.1L772.1 651.5L772.5 646.9L772.9 647.3L773.3 654.4L773.7 651.4L774.1 645.3L774.5 645.3L774.9 653.8L775.3 659.4L775.7 644.7L776.1 659.5L776.5 665.4L776.9 677.2L777.3 665.5L777.7 675.3L778.1 686.0L778.5 681.4L778.9 666.8L779.3 674.6L779.7 689.3L780.1 689.5L780.5 681.8L780.9 677.9L781.3 687.7L781.7 692.3L782.1 676.2L782.5 688.8L782.9 697.5L783.3 710.3L783.7 693.0L784.1 697.8L784.5 709.7L784.9 716.0L785.3 701.4L785.7 696.0L786.1 706.3L786.5 699.1L786.9 690.8L787.3 682.4L787.7 696.3L788.1 708.0L788.5 695.0L788.9 700.7L789.3 710.6L789.7 709.6L790.1 701.0L790.5 704.9L790.9 714.2L791.3 716.5L791.7 710.9L792.1 714.3L792.5 721.9L792.9 724.8L793.3 716.8L793.7 719.4L794.1 728.9L794.5 731.3L794.9 717.8L795.3 717.3L795.7 730.1L796.1 731.9L796.5 725.9L796.9 727.1L797.3 735.1L797.7 735.4L798.1 724.4L798.5 724.3L798.9 735.2L799.3 741.5L799.7 725.9L800.1 737.2L800.5 750.8L800.9 752.8L801.3 746.7L801.7 738.0L802.1 752.2L802.5 753.8L802.9 744.7L803.3 743.0L803.7 753.9L804.1 758.6L804.5 752.2L804.9 755.5L805.3 763.9L805.7 766.4L806.1 757.0L806.5 752.2L806.9 762.0L807.3 761.3L807.7 752.8L808.1 756.0L808.5 761.6L808.9 764.9L809.3 756.6L809.7 754.8L810.1 761.1L810.5 768.7L810.9 756.7L811.3 750.8L811.7 760.4L812.1 758.1L812.5 748.4L812.9 743.0L813.3 751.8L813.7 759.7L814.1 742.3L814.5 738.3L814.9 758.5L815.3 748.5L815.7 741.7L816.1 733.3L816.5 743.1L816.9 742.0L817.3 732.2L817.7 738.7L818.1 748.5L818.5 740.8L818.9 731.2L819.3 736.3L819.7 743.6L820.1 747.5L820.5 736.0L820.9 731.5L821.3 743.6L821.7 740.0L822.1 729.1L822.5 729.9L822.9 742.5L823.3 746.3L823.7 733.7L824.1 733.9L824.5 740.9L824.9 741.2L825.3 734.3L825.7 736.7L826.1 742.5L826.5 743.9L826.9 731.7L827.3 731.8L827.7 741.9L828.1 745.2L828.5 728.5L828.9 724.5L829.3 735.8L829.7 737.8L830.1 732.9L830.5 733.9L830.9 744.2L831.3 751.6L831.7 740.2L832.1 739.4L832.5 746.9L832.9 741.4L833.3 733.3L833.7 725.7L834.1 733.8L834.5 730.5L834.9 724.1L835.3 720.1L835.7 728.2L836.1 732.1L836.5 721.7L836.9 721.2L837.3 731.8L837.7 730.3L838.1 721.9L838.5 722.8L838.9 739.0L839.3 735.2L839.7 721.4L840.1 721.9L840.5 729.3L840.9 726.5L841.3 718.6L841.7 720.3L842.1 726.5L842.5 726.1L842.9 713.3L843.3 705.0L843.7 718.1L844.1 733.1L844.5 715.8L844.9 720.2L845.3 728.5L845.7 729.0L846.1 720.1L846.5 721.2L846.9 729.9L847.3 742.9L847.7 723.1L848.1 717.9L848.5 728.4L848.9 733.0L849.3 722.9L849.7 721.7L850.1 729.1L850.5 734.7L850.9 723.4L851.3 727.6L851.7 735.7L852.1 738.4L852.5 728.9L852.9 720.7L853.3 731.4L853.7 734.5L854.1 717.9L854.5 734.2L854.9 741.8L855.3 745.8L855.7 734.1L856.1 731.6L856.5 738.6L856.9 741.2L857.3 724.8L857.7 732.2L858.1 746.9L858.5 748.7L858.9 740.8L859.3 733.6L859.7 749.1L860.1 743.9L860.5 733.1L860.9 733.6L861.3 745.2L861.7 737.4L862.1 732.9L862.5 724.0L862.9 736.9L863.3 730.3L863.7 718.7L864.1 714.0L864.5 733.0L864.9 715.6L865.3 710.4L865.7 711.3L866.1 721.8L866.5 719.1L866.9 708.9L867.3 705.6L867.7 712.3L868.1 713.4L868.5 698.0L868.9 689.8L869.3 703.9L869.7 700.4L870.1 692.2L870.5 693.6L870.9 704.0L871.3 704.8L871.7 693.1L872.1 698.6L872.5 704.7L872.9 703.4L873.3 693.9L873.7 694.6L874.1 710.5L874.5 716.8L874.9 690.8L875.3 693.1L875.7 709.9L876.1 711.6L876.5 704.6L876.9 704.2L877.3 712.6L877.7 714.8L878.1 706.7L878.5 710.6L878.9 723.3L879.3 723.2L879.7 718.8L880.1 718.0L880.5 725.6L880.9 724.0L881.3 714.3L881.7 716.1L882.1 726.0L882.5 722.9L882.9 713.5L883.3 717.2L883.7 724.6L884.1 721.5L884.5 711.7L884.9 709.5L885.3 716.9L885.7 721.5L886.1 714.4L886.5 712.5L886.9 723.6L887.3 716.5L887.7 708.0L888.1 709.4L888.5 721.2L888.9 723.3L889.3 716.9L889.7 717.6L890.1 726.1L890.5 727.2L890.9 715.2L891.3 710.6L891.7 723.5L892.1 721.3L892.5 711.5L892.9 711.0L893.3 724.1L893.7 727.1L894.1 715.7L894.5 715.3L894.9 727.0L895.3 723.8L895.7 716.5L896.1 718.3L896.5 734.1L896.9 738.1L897.3 718.0L897.7 723.1L898.1 732.9L898.5 733.0L898.9 719.1L899.3 723.5L899.7 733.0L900.1 735.9L900.5 724.8L900.9 727.1L901.3 734.5L901.7 728.3L902.1 721.3L902.5 724.3L902.9 732.8L903.3 734.6L903.7 725.2L904.1 725.5L904.5 736.4L904.9 738.9L905.3 731.2L905.7 731.3L906.1 743.0L906.5 746.9L906.9 734.2L907.3 742.2L907.7 753.4L908.1 742.8L908.5 734.9L908.9 729.9L909.3 741.2L909.7 749.2L910.1 735.8L910.5 737.3L910.9 745.0L911.3 743.9L911.7 735.2L912.1 721.5L912.5 738.4L912.9 731.9L913.3 716.5L913.7 711.0L914.1 718.7L914.5 718.5L914.9 694.6L915.3 695.6L915.7 704.4L916.1 707.6L916.5 697.1L916.9 702.0L917.3 710.3L917.7 706.6L918.1 698.2L918.5 696.8L918.9 704.3L919.3 710.4L919.7 703.1L920.1 704.0L920.5 709.6L920.9 720.4L921.3 705.8L921.7 713.4L922.1 724.8L922.5 728.7L922.9 720.6L923.3 719.0L923.7 729.2L924.1 723.8L924.5 710.1L924.9 707.1L925.3 721.3L925.7 724.6L926.1 716.8L926.5 712.5L926.9 722.9L927.3 726.5L927.7 715.6L928.1 715.1L928.5 725.3L928.9 723.3L929.3 712.5L929.7 707.8L930.1 719.1L930.5 714.7L930.9 705.5L931.3 705.7L931.7 712.5L932.1 708.2L932.5 698.1L932.9 695.9L933.3 710.6L933.7 712.7L934.1 701.6L934.5 694.7L934.9 710.4L935.3 710.0L935.7 701.6L936.1 699.2L936.5 714.3L936.9 715.9L937.3 698.7L937.7 709.8L938.1 715.6L938.5 715.2L938.9 702.7L939.3 701.3L939.7 718.9L940.1 720.1L940.5 711.5L940.9 714.7L941.3 722.8L941.7 723.8L942.1 712.6L942.5 708.2L942.9 725.6L943.3 727.6L943.7 716.8L944.1 720.4L944.5 729.2L944.9 727.2L945.3 721.1L945.7 719.3L946.1 729.5L946.5 731.5L946.9 719.8L947.3 712.5L947.7 729.9L948.1 731.6L948.5 714.3L948.9 719.1L949.3 731.3L949.7 727.0L950.1 720.0L950.5 717.2L950.9 723.6L951.3 726.9L951.7 719.0L952.1 719.0L952.5 730.5L952.9 726.4L953.3 716.3L953.7 713.2L954.1 723.2L954.5 718.4L954.9 704.7L955.3 697.9L955.7 720.1L956.1 719.3L956.5 711.9L956.9 714.4L957.3 730.1L957.7 738.2L958.1 726.1L958.5 726.6L958.9 745.1L959.3 727.7L959.7 718.3L960.1 717.2L960.5 725.1L960.9 724.0L961.3 716.2L961.7 718.1L962.1 732.1L962.5 724.2L962.9 713.5L963.3 709.1L963.7 720.6L964.1 719.2L964.5 709.3L964.9 705.8L965.3 715.1L965.7 715.7L966.1 701.0L966.5 704.8L966.9 711.6L967.3 709.2L967.7 703.1L968.1 699.4L968.5 706.2L968.9 702.8L969.3 687.0L969.7 692.9L970.1 705.7L970.5 705.9L970.9 694.8L971.3 690.1L971.7 706.8L972.1 694.8L972.5 682.6L972.9 678.5L973.3 693.0L973.7 687.8L974.1 669.4L974.5 658.0L974.9 673.6L975.3 668.3L975.7 645.4L976.1 639.8L976.5 655.7L976.9 644.4L977.3 626.5L977.7 621.7L978.1 633.0L978.5 630.6L978.9 615.5L979.3 613.6L979.7 619.7L980.1 619.7L980.5 609.0L980.9 608.9L981.3 615.9L981.7 614.6L982.1 606.9L982.5 597.2L982.9 612.6L983.3 608.7L983.7 598.1L984.1 602.7L984.5 613.4L984.9 615.3L985.3 607.0L985.7 609.1L986.1 617.0L986.5 615.8L986.9 603.9L987.3 609.5L987.7 625.0L988.1 624.8L988.5 608.3L988.9 614.8L989.3 626.7L989.7 620.0L990.1 613.2L990.5 608.3L990.9 616.4L991.3 620.8L991.7 615.6L992.1 618.7L992.5 631.9L992.9 634.4L993.3 623.6L993.7 617.3L994.1 625.2L994.5 621.4L994.9 612.1L995.3 614.2L995.7 621.9L996.1 624.7L996.5 614.2L996.9 607.3L997.3 617.9L997.7 618.7L998.1 608.5L998.5 609.0L998.9 615.8L999.3 615.2L999.7 609.0L1000.1 601.0L1000.5 608.8L1000.9 616.6L1001.3 606.5L1001.7 601.8L1002.1 610.8L1002.5 615.7L1002.9 607.4L1003.3 607.4L1003.7 616.9L1004.1 612.1L1004.5 601.5L1004.9 609.5L1005.3 622.3L1005.7 628.6L1006.1 615.7L1006.5 614.5L1006.9 623.5L1007.3 623.4L1007.7 613.2L1008.1 611.8L1008.5 626.7L1008.9 625.5L1009.3 605.4L1009.7 614.5L1010.1 623.2L1010.5 633.6L1010.9 618.0L1011.3 620.2L1011.7 634.2L1012.1 640.5L1012.5 633.4L1012.9 638.3L1013.3 645.6L1013.7 650.0L1014.1 636.7L1014.5 640.9L1014.9 651.8L1015.3 661.4L1015.7 650.3L1016.1 655.2L1016.5 664.7L1016.9 671.5L1017.3 653.6L1017.7 665.9L1018.1 678.3L1018.5 687.9L1018.9 674.1L1019.3 675.5L1019.7 680.8L1020.1 683.9L1020.5 674.7L1020.9 672.9L1021.3 699.1L1021.7 697.9L1022.1 693.0L1022.5 694.4L1022.9 701.8L1023.3 712.4L1023.7 696.9L1024.1 708.8L1024.5 715.8L1024.9 720.2L1025.3 709.1L1025.7 717.7L1026.1 734.7L1026.5 744.8L1026.9 734.0L1027.3 731.8L1027.7 749.0L1028.1 753.0L1028.5 741.3L1028.9 741.6L1029.3 746.8L1029.7 755.5L1030.1 741.7L1030.5 746.6L1030.9 759.9L1031.3 773.3L1031.7 755.3L1032.1 767.6L1032.5 781.3L1032.9 780.4L1033.3 771.6L1033.7 774.8L1034.1 788.1L1034.5 792.7L1034.9 779.3L1035.3 785.0L1035.7 798.4L1036.1 800.2L1036.5 793.8L1036.9 795.2L1037.3 811.7L1037.7 817.0L1038.1 806.5L1038.5 814.8L1038.9 820.7L1039.3 825.0L1039.7 817.1L1040.1 820.5L1040.5 830.6L1040.9 827.0L1041.3 817.6L1041.7 818.2L1042.1 831.2L1042.5 835.0L1042.9 824.5L1043.3 829.1L1043.7 845.9L1044.1 844.8L1044.5 830.3L1044.9 836.8L1045.3 845.8L1045.7 843.0L1046.1 831.0L1046.5 824.5L1046.9 847.7L1047.3 828.6L1047.7 819.0L1048.1 820.0L1048.5 825.7L1048.9 831.9L1049.3 821.4L1049.7 825.5L1050.1 833.9L1050.5 844.3L1050.9 833.6L1051.3 828.0L1051.7 845.5L1052.1 833.1L1052.5 825.5L1052.9 815.6L1053.3 826.5L1053.7 819.0L1054.1 805.7L1054.5 801.1L1054.9 811.3L1055.3 809.4L1055.7 798.2L1056.1 798.6L1056.5 809.7L1056.9 813.2L1057.3 797.8L1057.7 787.1L1058.1 798.2L1058.5 797.3L1058.9 782.9L1059.3 770.0L1059.7 786.8L1060.1 783.0L1060.5 773.4L1060.9 764.7L1061.3 778.4L1061.7 774.4L1062.1 760.1L1062.5 761.9L1062.9 773.6L1063.3 773.9L1063.7 763.6L1064.1 758.1L1064.5 767.3L1064.9 773.0L1065.3 761.7L1065.7 765.1L1066.1 773.1L1066.5 780.4L1066.9 769.5L1067.3 768.6L1067.7 778.0L1068.1 784.3L1068.5 772.4L1068.9 771.5L1069.3 778.6L1069.7 776.0L1070.1 768.3L1070.5 765.4L1070.9 772.7L1071.3 771.7L1071.7 764.7L1072.1 763.5L1072.5 773.1L1072.9 769.4L1073.3 761.1L1073.7 761.5L1074.1 769.4L1074.5 772.4L1074.9 757.2L1075.3 757.4L1075.7 776.1L1076.1 760.5L1076.5 750.9L1076.9 750.6L1077.3 763.5L1077.7 764.1L1078.1 754.8L1078.5 756.2L1078.9 762.3L1079.3 763.4L1079.7 752.5L1080.1 758.9L1080.5 769.5L1080.9 770.8L1081.3 754.9L1081.7 759.7L1082.1 764.5L1082.5 767.9L1082.9 757.5L1083.3 758.5L1083.7 772.0L1084.1 769.9L1084.5 763.4L1084.9 758.0L1085.3 766.6L1085.7 764.3L1086.1 756.4L1086.5 760.2L1086.9 766.8L1087.3 775.7L1087.7 763.9L1088.1 763.9L1088.5 778.6L1088.9 782.9L1089.3 767.7L1089.7 759.8L1090.1 772.2L1090.5 775.4L1090.9 765.7L1091.3 764.1L1091.7 773.6L1092.1 773.0L1092.5 760.5L1092.9 750.0L1093.3 768.0L1093.7 768.2L1094.1 757.4L1094.5 760.2L1094.9 767.0L1095.3 765.8L1095.7 759.6L1096.1 760.8L1096.5 769.4L1096.9 770.7L1097.3 752.4L1097.7 759.6L1098.1 771.0L1098.5 764.3L1098.9 750.4L1099.3 754.0L1099.7 767.9L1100.1 771.6L1100.5 763.2L1100.9 763.5L1101.3 767.9L1101.7 764.4L1102.1 757.8L1102.5 763.1L1102.9 772.0L1103.3 772.2L1103.7 765.2L1104.1 766.3L1104.5 779.8L1104.9 781.1L1105.3 770.5L1105.7 770.6L1106.1 777.1L1106.5 778.5L1106.9 770.8L1107.3 765.6L1107.7 777.1L1108.1 778.5L1108.5 764.5L1108.9 775.9L1109.3 783.9L1109.7 786.9L1110.1 780.1L1110.5 780.0L1110.9 787.6L1111.3 784.1L1111.7 776.0L1112.1 780.8L1112.5 789.2L1112.9 783.7L1113.3 776.2L1113.7 767.5L1114.1 783.5L1114.5 791.8L1114.9 781.8L1115.3 780.5L1115.7 790.9L1116.1 795.8L1116.5 783.3L1116.9 788.1L1117.3 796.4L1117.7 800.5L1118.1 781.3L1118.5 794.6L1118.9 811.3L1119.3 806.1L1119.7 792.3L1120.1 795.4L1120.5 804.1L1120.9 804.6L1121.3 797.5L1121.7 781.2L1122.1 800.4L1122.5 789.4L1122.9 779.0L1123.3 783.8L1123.7 792.9L1124.1 796.0L1124.5 788.7L1124.9 787.4L1125.3 795.7L1125.7 796.4L1126.1 783.5L1126.5 783.3L1126.9 793.6L1127.3 793.7L1127.7 785.3L1128.1 788.4L1128.5 801.7L1128.9 802.2L1129.3 783.0L1129.7 788.1L1130.1 799.8L1130.5 804.1L1130.9 794.0L1131.3 799.9L1131.7 812.4L1132.1 809.4L1132.5 800.4L1132.9 801.8L1133.3 810.1L1133.7 811.6L1134.1 804.7L1134.5 804.9L1134.9 821.1L1135.3 819.0L1135.7 806.8L1136.1 802.4L1136.5 819.2L1136.9 810.2L1137.3 798.2L1137.7 800.9L1138.1 816.1L1138.5 807.2L1138.9 794.7L1139.3 777.1L1139.7 795.5L1140.1 791.1L1140.5 779.3L1140.9 770.4L1141.3 781.0L1141.7 777.7L1142.1 767.6L1142.5 768.5L1142.9 777.3L1143.3 777.2L1143.7 763.5L1144.1 763.4L1144.5 770.6L1144.9 776.2L1145.3 765.1L1145.7 766.8L1146.1 777.4L1146.5 777.9L1146.9 763.3L1147.3 757.3L1147.7 771.8L1148.1 767.2L1148.5 759.1L1148.9 757.5L1149.3 765.6L1149.7 762.5L1150.1 755.6L1150.5 747.9L1150.9 762.9L1151.3 767.0L1151.7 759.7L1152.1 759.4L1152.5 767.5L1152.9 770.3L1153.3 758.7L1153.7 769.8L1154.1 794.1L1154.5 782.1L1154.9 765.4L1155.3 759.4L1155.7 773.2L1156.1 781.7L1156.5 763.0L1156.9 767.4L1157.3 775.5L1157.7 772.5L1158.1 761.6L1158.5 764.7L1158.9 771.9L1159.3 781.0L1159.7 767.0L1160.1 764.6L1160.5 772.6L1160.9 769.4L1161.3 762.0L1161.7 750.1L1162.1 767.0L1162.5 763.0L1162.9 747.4L1163.3 758.5L1163.7 766.4L1164.1 769.5L1164.5 760.3L1164.9 758.3L1165.3 769.5L1165.7 769.8L1166.1 755.3L1166.5 754.3L1166.9 762.7L1167.3 769.9L1167.7 754.2L1168.1 756.3L1168.5 763.5L1168.9 758.1L1169.3 745.8L1169.7 750.8L1170.1 765.4L1170.5 754.5L1170.9 741.2L1171.3 732.7L1171.7 747.5L1172.1 736.3L1172.5 731.8L1172.9 729.1L1173.3 735.2L1173.7 730.4L1174.1 722.7L1174.5 719.8L1174.9 728.0L1175.3 716.3L1175.7 701.9L1176.1 697.4L1176.5 704.2L1176.9 705.3L1177.3 694.4L1177.7 695.0L1178.1 706.8L1178.5 714.1L1178.9 695.1L1179.3 689.4L1179.7 694.7L1180.1 700.0L1180.5 685.6L1180.9 692.7L1181.3 698.3L1181.7 701.8L1182.1 692.7L1182.5 690.8L1182.9 698.6L1183.3 697.3L1183.7 685.2L1184.1 673.5L1184.5 687.0L1184.9 679.9L1185.3 661.2L1185.7 665.7L1186.1 674.9L1186.5 667.0L1186.9 661.3L1187.3 661.5L1187.7 669.5L1188.1 673.0L1188.5 665.9L1188.9 656.9L1189.3 673.0L1189.7 671.9L1190.1 663.4L1190.5 661.7L1190.9 670.6L1191.3 676.1L1191.7 663.2L1192.1 659.3L1192.5 668.1L1192.9 666.6L1193.3 648.1L1193.7 661.4L1194.1 669.4L1194.5 664.2L1194.9 654.8L1195.3 651.1L1195.7 658.1L1196.1 654.6L1196.5 638.9L1196.9 632.9L1197.3 645.6L1197.7 648.8L1198.1 633.8L1198.5 637.5L1198.9 649.2L1199.3 646.4L1199.7 634.1L1200.1 635.6L1200.5 643.5L1200.9 649.7L1201.3 632.9L1201.7 642.8L1202.1 651.5L1202.5 646.9L1202.9 639.8L1203.3 641.4L1203.7 650.0L1204.1 650.6L1204.5 642.5L1204.9 637.5L1205.3 648.0L1205.7 639.6L1206.1 630.5L1206.5 630.8L1206.9 638.4L1207.3 635.8L1207.7 625.8L1208.1 622.9L1208.5 633.8L1208.9 631.2L1209.3 619.5L1209.7 607.9L1210.1 626.2L1210.5 616.7L1210.9 605.1L1211.3 604.6L1211.7 613.2L1212.1 615.9L1212.5 603.9L1212.9 603.2L1213.3 608.4L1213.7 610.6L1214.1 596.9L1214.5 583.2L1214.9 599.7L1215.3 599.4L1215.7 587.5L1216.1 588.3L1216.5 599.8L1216.9 612.6L1217.3 596.2L1217.7 600.1L1218.1 606.8L1218.5 604.9L1218.9 593.5L1219.3 589.1L1219.7 598.0L1220.1 589.0L1220.5 580.3L1220.9 570.5L1221.3 579.3L1221.7 580.5L1222.1 565.1L1222.5 554.1L1222.9 569.7L1223.3 567.9L1223.7 549.0L1224.1 542.7L1224.5 553.8L1224.9 561.8L1225.3 545.3L1225.7 546.4L1226.1 559.6L1226.5 551.9L1226.9 537.7L1227.3 540.9L1227.7 550.1L1228.1 549.2L1228.5 527.3L1228.9 526.0L1229.3 538.1L1229.7 536.7L1230.1 528.4L1230.5 525.9L1230.9 540.4L1231.3 543.0L1231.7 537.2L1232.1 538.0L1232.5 549.2L1232.9 549.0L1233.3 539.6L1233.7 542.5L1234.1 551.7L1234.5 554.3L1234.9 547.3L1235.3 545.0L1235.7 554.6L1236.1 553.0L1236.5 538.9L1236.9 543.9L1237.3 549.3L1237.7 554.2L1238.1 543.4L1238.5 532.0L1238.9 544.9L1239.3 535.7L1239.7 524.6L1240.1 525.0L1240.5 535.8L1240.9 539.1L1241.3 527.6L1241.7 523.3L1242.1 534.7L1242.5 529.9L1242.9 517.7L1243.3 508.4L1243.7 520.4L1244.1 518.7L1244.5 502.4L1244.9 496.3L1245.3 505.8L1245.7 501.8L1246.1 491.5L1246.5 493.8L1246.9 502.5L1247.3 498.0L1247.7 482.2L1248.1 475.6L1248.5 488.5L1248.9 491.9L1249.3 478.0L1249.7 471.4L1250.1 483.7L1250.5 477.6L1250.9 464.3L1251.3 464.1L1251.7 472.6L1252.1 473.3L1252.5 461.2L1252.9 453.1L1253.3 469.4L1253.7 458.1L1254.1 447.4L1254.5 438.6L1254.9 454.5L1255.3 453.3L1255.7 445.0L1256.1 435.4L1256.5 453.4L1256.9 451.0L1257.3 431.6L1257.7 438.0L1258.1 447.7L1258.5 449.2L1258.9 440.7L1259.3 437.1L1259.7 443.9L1260.1 445.8L1260.5 436.9L1260.9 429.7L1261.3 439.1L1261.7 436.8L1262.1 424.0L1262.5 419.3L1262.9 431.5L1263.3 432.4L1263.7 415.3L1264.1 422.6L1264.5 434.9L1264.9 437.0L1265.3 421.4L1265.7 425.8L1266.1 440.2L1266.5 436.3L1266.9 427.0L1267.3 421.1L1267.7 434.3L1268.1 431.7L1268.5 411.1L1268.9 414.1L1269.3 428.4L1269.7 423.5L1270.1 413.5L1270.5 403.4L1270.9 416.6L1271.3 417.0L1271.7 412.7L1272.1 412.6L1272.5 421.8L1272.9 423.3L1273.3 415.0L1273.7 405.9L1274.1 420.1L1274.5 418.2L1274.9 405.7L1275.3 407.9L1275.7 422.4L1276.1 418.2L1276.5 405.4L1276.9 405.9L1277.3 411.8L1277.7 410.7L1278.1 399.9L1278.5 390.8L1278.9 404.4L1279.3 402.0L1279.7 384.9L1280.1 398.1L1280.5 407.7L1280.9 406.3L1281.3 400.3L1281.7 401.5L1282.1 421.1L1282.5 416.6L1282.9 400.9L1283.3 397.6L1283.7 409.3L1284.1 406.1L1284.5 391.1L1284.9 375.9L1285.3 397.2L1285.7 402.9L1286.1 387.2L1286.5 393.9L1286.9 404.2L1287.3 396.1L1287.7 390.1L1288.1 385.3L1288.5 396.4L1288.9 404.5L1289.3 387.3L1289.7 384.8L1290.1 394.0L1290.5 388.7L1290.9 381.3L1291.3 381.3L1291.7 393.7L1292.1 399.2L1292.5 389.6L1292.9 381.5L1293.3 392.2L1293.7 388.8L1294.1 376.8L1294.5 378.4L1294.9 390.2L1295.3 395.6L1295.7 382.9L1296.1 380.8L1296.5 393.0L1296.9 395.4L1297.3 381.9L1297.7 374.2L1298.1 388.4L1298.5 389.2L1298.9 374.8L1299.3 374.9L1299.7 383.6L1300.1 383.5L1300.5 373.5L1300.9 368.6L1301.3 381.5L1301.7 378.1L1302.1 359.2L1302.5 354.1L1302.9 368.2L1303.3 361.6L1303.7 352.6L1304.1 349.7L1304.5 359.5L1304.9 356.5L1305.3 348.4L1305.7 350.1L1306.1 358.4L1306.5 363.8L1306.9 354.4L1307.3 351.3L1307.7 366.5L1308.1 371.2L1308.5 363.9L1308.9 361.3L1309.3 370.2L1309.7 369.7L1310.1 357.1L1310.5 362.6L1310.9 370.2L1311.3 366.1L1311.7 357.7L1312.1 365.7L1312.5 371.6L1312.9 372.8L1313.3 360.5L1313.7 353.9L1314.1 362.3L1314.5 370.6L1314.9 354.5L1315.3 353.4L1315.7 363.7L1316.1 360.4L1316.5 351.4L1316.9 341.5L1317.3 353.9L1317.7 344.9L1318.1 338.3L1318.5 326.6L1318.9 344.0L1319.3 333.5L1319.7 320.8L1320.1 316.8L1320.5 332.2L1320.9 333.3L1321.3 323.7L1321.7 316.5L1322.1 333.0L1322.5 326.1L1322.9 313.8L1323.3 305.5L1323.7 317.1L1324.1 311.0L1324.5 300.4L1324.9 288.4L1325.3 298.8L1325.7 298.8L1326.1 286.1L1326.5 280.3L1326.9 297.6L1327.3 288.1L1327.7 275.3L1328.1 279.7L1328.5 290.1L1328.9 288.7L1329.3 281.0L1329.7 278.9L1330.1 285.1L1330.5 283.6L1330.9 267.7L1331.3 265.1L1331.7 282.1L1332.1 279.9L1332.5 263.8L1332.9 270.9L1333.3 278.3L1333.7 275.6L1334.1 265.4L1334.5 260.2L1334.9 278.7L1335.3 262.9L1335.7 255.0L1336.1 253.7L1336.5 261.7L1336.9 266.1L1337.3 254.3L1337.7 247.4L1338.1 259.1L1338.5 260.1L1338.9 251.5L1339.3 255.5L1339.7 264.8L1340.1 263.6L1340.5 256.7L1340.9 251.3L1341.3 258.7L1341.7 258.3L1342.1 240.5L1342.5 245.7L1342.9 256.9L1343.3 258.6L1343.7 246.8L1344.1 252.8L1344.5 261.1L1344.9 260.1L1345.3 248.9L1345.7 245.9L1346.1 257.4L1346.5 262.2L1346.9 252.1L1347.3 254.4L1347.7 258.2L1348.1 260.7L1348.5 245.8L1348.9 240.2L1349.3 260.3L1349.7 263.8L1350.1 255.1L1350.5 255.2L1350.9 262.2L1351.3 256.5L1351.7 251.4L1352.1 247.5L1352.5 257.1L1352.9 261.0L1353.3 250.0L1353.7 246.9L1354.1 254.4L1354.5 254.2L1354.9 244.4L1355.3 240.6L1355.7 248.5L1356.1 255.1L1356.5 238.4L1356.9 234.3L1357.3 247.4L1357.7 249.5L1358.1 239.9L1358.5 233.3L1358.9 241.7L1359.3 238.5L1359.7 219.6L1360.1 226.2L1360.5 248.5L1360.9 243.2L1361.3 231.2L1361.7 227.1L1362.1 240.1L1362.5 244.9L1362.9 236.8L1363.3 236.1L1363.7 245.2L1364.1 242.5L1364.5 234.8L1364.9 233.7L1365.3 240.5L1365.7 243.1L1366.1 236.8L1366.5 237.2L1366.9 246.5L1367.3 241.8L1367.7 233.8L1368.1 235.8L1368.5 243.5L1368.9 241.7L1369.3 233.7L1369.7 228.1L1370.1 237.7L1370.5 234.3L1370.9 223.9L1371.3 216.0L1371.7 225.8L1372.1 227.7L1372.5 217.3L1372.9 216.6L1373.3 226.2L1373.7 227.0L1374.1 212.4L1374.5 217.3L1374.9 222.7L1375.3 225.5L1375.7 214.3L1376.1 215.4L1376.5 223.2L1376.9 224.2L1377.3 214.2L1377.7 211.2L1378.1 222.9L1378.5 224.8L1378.9 207.5L1379.3 200.7L1379.7 221.1L1380.1 222.4L1380.5 212.7L1380.9 211.1L1381.3 223.7L1381.7 224.1L1382.1 217.3L1382.5 218.3L1382.9 232.9L1383.3 223.2L1383.7 211.4L1384.1 216.7L1384.5 225.1L1384.9 223.8L1385.3 219.0L1385.7 213.3L1386.1 225.0L1386.5 226.9L1386.9 215.7L1387.3 219.2L1387.7 226.2L1388.1 220.3L1388.5 213.1L1388.9 217.6L1389.3 226.6L1389.7 224.1L1390.1 214.8L1390.5 216.4L1390.9 224.7L1391.3 223.9L1391.7 208.8L1392.1 209.5L1392.5 216.8L1392.9 214.7L1393.3 202.2L1393.7 203.3L1394.1 216.9L1394.5 217.3L1394.9 208.6L1395.3 216.5L1395.7 224.3L1396.1 232.4L1396.5 221.7L1396.9 223.5L1397.3 234.7L1397.7 244.6L1398.1 232.1L1398.5 235.1L1398.9 242.2L1399.3 246.2L1399.7 239.9L1400.1 238.9L1400.5 254.4L1400.9 248.1L1401.3 243.0L1401.7 238.3L1402.1 247.4L1402.5 252.6L1402.9 238.0L1403.3 230.6L1403.7 244.7L1404.1 234.5L1404.5 229.1L1404.9 221.0L1405.3 235.2L1405.7 242.5L1406.1 232.8L1406.5 228.5L1406.9 241.5L1407.3 239.5L1407.7 232.3L1408.1 235.8L1408.5 241.6L1408.9 241.8L1409.3 233.8L1409.7 224.3L1410.1 239.1L1410.5 236.7L1410.9 228.6L1411.3 225.6L1411.7 233.3L1412.1 230.3L1412.5 223.7L1412.9 218.4L1413.3 229.3L1413.7 224.5L1414.1 211.5L1414.5 207.3L1414.9 213.9L1415.3 215.3L1415.7 205.0L1416.1 209.0L1416.5 215.5L1416.9 219.1L1417.3 213.0L1417.7 211.1L1418.1 220.9L1418.5 226.7L1418.9 210.8L1419.3 221.1L1419.7 234.5L1420.1 226.6L1420.5 220.2L1420.9 213.6L1421.3 221.8L1421.7 217.3L1422.1 209.1L1422.5 210.7L1422.9 215.7L1423.3 220.5L1423.7 211.7L1424.1 207.3L1424.5 218.5L1424.9 213.0L1425.3 204.1L1425.7 201.3L1426.1 209.2L1426.5 210.2L1426.9 203.1L1427.3 201.0L1427.7 208.8L1428.1 207.5L1428.5 200.5L1428.9 197.4L1429.3 204.0L1429.7 201.6L1430.1 192.7L1430.5 190.6L1430.9 198.2L1431.3 195.8L1431.7 192.0L1432.1 190.6L1432.5 199.7L1432.9 194.4L1433.3 187.9L1433.7 187.5L1434.1 193.8L1434.5 191.0L1434.9 181.0L1435.3 175.5L1435.7 185.4L1436.1 185.8L1436.5 175.4L1436.9 173.5L1437.3 181.6L1437.7 183.0L1438.1 172.7L1438.5 168.4L1438.9 177.9L1439.3 170.6L1439.7 159.5L1440.1 162.0L1440.5 168.7L1440.9 166.9L1441.3 160.2L1441.7 156.0L1442.1 169.8L1442.5 171.9L1442.9 160.8L1443.3 156.8L1443.7 167.5L1444.1 172.5L1444.5 167.8L1444.9 164.9L1445.3 175.1L1445.7 174.8L1446.1 165.7L1446.5 170.4L1446.9 181.2L1447.3 178.3L1447.7 172.2L1448.1 164.5L1448.5 178.0L1448.9 176.6L1449.3 167.6L1449.7 164.1L1450.1 176.8L1450.5 175.8L1450.9 165.5L1451.3 168.4L1451.7 178.7L1452.1 182.2L1452.5 167.4L1452.9 165.3L1453.3 177.1L1453.7 176.2L1454.1 165.5L1454.5 160.0L1454.9 171.3L1455.3 168.5L1455.7 163.6L1456.1 160.7L1456.5 170.0L1456.9 168.9L1457.3 160.4L1457.7 159.8L1458.1 171.9L1458.5 168.5L1458.9 155.9L1459.3 153.9L1459.7 163.4L1460.1 161.5L1460.5 149.2L1460.9 154.3L1461.3 164.8L1461.7 167.5L1462.1 158.8L1462.5 155.8L1462.9 163.7L1463.3 166.6L1463.7 157.1L1464.1 159.6L1464.5 170.4L1464.9 173.8L1465.3 162.3L1465.7 166.6L1466.1 179.2L1466.5 173.1L1466.9 162.4L1467.3 165.4L1467.7 184.4L1468.1 188.9L1468.5 175.3L1468.9 173.4L1469.3 180.1L1469.7 184.0L1470.1 178.1L1470.5 174.4L1470.9 185.8L1471.3 183.2L1471.7 176.4L1472.1 168.0L1472.5 178.7L1472.9 178.2L1473.3 170.6L1473.7 175.5L1474.1 183.2L1474.5 188.8L1474.9 176.9L1475.3 175.5L1475.7 186.2L1476.1 183.2L1476.5 175.7L1476.9 176.0L1477.3 187.7L1477.7 189.8L1478.1 180.9L1478.5 181.4L1478.9 189.1L1479.3 192.6L1479.7 182.6L1480.1 185.2L1480.5 193.1L1480.9 191.4L1481.3 176.1L1481.7 184.0L1482.1 208.2L1482.5 197.2L1482.9 188.8L1483.3 182.7L1483.7 195.7L1484.1 200.5L1484.5 182.9L1484.9 184.1L1485.3 195.9L1485.7 194.4L1486.1 188.6L1486.5 186.7L1486.9 196.2L1487.3 199.4L1487.7 182.7L1488.1 190.6L1488.5 204.2L1488.9 208.8L1489.3 198.3L1489.7 197.5L1490.1 209.2L1490.5 219.0L1490.9 207.8L1491.3 203.6L1491.7 212.4L1492.1 212.5L1492.5 202.0L1492.9 206.3L1493.3 216.0L1493.7 218.3L1494.1 208.1L1494.5 199.4L1494.9 208.5L1495.3 212.2L1495.7 203.7L1496.1 200.5L1496.5 206.8L1496.9 215.3L1497.3 201.9L1497.7 197.7L1498.1 212.7L1498.5 222.1L1498.9 210.0L1499.3 218.4L1499.7 230.2L1500.1 222.5L1500.5 214.6L1500.9 218.1L1501.3 226.7L1501.7 228.6L1502.1 222.5L1502.5 223.0L1502.9 237.1L1503.3 251.0L1503.7 237.0L1504.1 242.0L1504.5 251.9L1504.9 259.1L1505.3 245.9L1505.7 255.1L1506.1 262.2L1506.5 266.5L1506.9 256.7L1507.3 257.7L1507.7 267.5L1508.1 268.5L1508.5 251.1L1508.9 253.1L1509.3 271.1L1509.7 274.7L1510.1 261.3L1510.5 265.1L1510.9 272.8L1511.3 280.2L1511.7 268.1L1512.1 266.0L1512.5 281.1L1512.9 279.6L1513.3 274.4L1513.7 271.6L1514.1 285.7L1514.5 278.0L1514.9 267.7L1515.3 273.4L1515.7 281.1L1516.1 284.4L1516.5 275.1L1516.9 276.0L1517.3 283.3L1517.7 292.4L1518.1 281.7L1518.5 287.7L1518.9 297.7L1519.3 300.1L1519.7 290.1L1520.1 285.5L1520.5 299.4L1520.9 303.4L1521.3 289.0L1521.7 289.6L1522.1 301.6L1522.5 304.1L1522.9 286.9L1523.3 291.1L1523.7 305.3L1524.1 306.4L1524.5 292.7L1524.9 302.2L1525.3 312.5L1525.7 306.5L1526.1 298.2L1526.5 297.2L1526.9 307.4L1527.3 311.9L1527.7 301.6L1528.1 309.6L1528.5 317.8L1528.9 323.8L1529.3 312.5L1529.7 317.1L1530.1 330.9L1530.5 327.7L1530.9 319.5L1531.3 321.9L1531.7 330.7L1532.1 335.5L1532.5 322.4L1532.9 323.3L1533.3 338.4L1533.7 345.4L1534.1 333.3L1534.5 337.3L1534.9 350.9L1535.3 348.2L1535.7 341.1L1536.1 342.7L1536.5 351.7L1536.9 350.5L1537.3 337.2L1537.7 349.8L1538.1 358.3L1538.5 359.2L1538.9 350.7L1539.3 353.0L1539.7 361.3L1540.1 366.6L1540.5 359.0L1540.9 357.9L1541.3 366.2L1541.7 365.3L1542.1 356.8L1542.5 360.3L1542.9 372.5L1543.3 367.7L1543.7 352.8L1544.1 351.1L1544.5 370.3L1544.9 367.3L1545.3 351.1L1545.7 355.4L1546.1 368.2L1546.5 378.0L1546.9 358.6L1547.3 359.4L1547.7 369.7L1548.1 372.5L1548.5 365.5L1548.9 360.3L1549.3 370.6L1549.7 374.3L1550.1 353.8L1550.5 372.0L1550.9 384.8L1551.3 380.7L1551.7 372.2L1552.1 361.5L1552.5 376.7L1552.9 378.6L1553.3 366.2L1553.7 372.3L1554.1 384.0L1554.5 387.8L1554.9 372.1L1555.3 378.0L1555.7 385.5L1556.1 392.6L1556.5 379.5L1556.9 377.0L1557.3 388.4L1557.7 394.1L1558.1 387.3L1558.5 386.5L1558.9 399.8L1559.3 398.7L1559.7 388.7L1560.1 392.7L1560.5 403.7L1560.9 405.3L1561.3 396.8L1561.7 391.8L1562.1 401.1L1562.5 402.0L1562.9 394.0L1563.3 390.4L1563.7 404.1L1564.1 403.6L1564.5 392.7L1564.9 399.0L1565.3 405.4L1565.7 413.5L1566.1 402.0L1566.5 407.2L1566.9 416.9L1567.3 411.9L1567.7 406.8L1568.1 409.3L1568.5 420.5L1568.9 432.8L1569.3 415.0L1569.7 421.3L1570.1 434.0L1570.5 439.1L1570.9 414.6L1571.3 437.6L1571.7 453.8L1572.1 460.0L1572.5 448.5L1572.9 454.3L1573.3 465.1L1573.7 460.5L1574.1 443.9L1574.5 445.1L1574.9 454.2L1575.3 454.0L1575.7 444.4L1576.1 438.2L1576.5 452.2L1576.9 450.8L1577.3 439.7L1577.7 444.0L1578.1 454.2L1578.5 452.6L1578.9 446.5L1579.3 447.6L1579.7 455.1L1580.1 461.9L1580.5 450.0L1580.9 451.8L1581.3 457.2L1581.7 455.9L1582.1 452.3L1582.5 450.2L1582.9 460.8L1583.3 459.2L1583.7 447.8L1584.1 451.1L1584.5 461.5L1584.9 463.7L1585.3 454.8L1585.7 454.0L1586.1 462.2L1586.5 463.7L1586.9 453.4L1587.3 456.8L1587.7 467.0L1588.1 466.4L1588.5 450.8L1588.9 455.7L1589.3 466.3L1589.7 459.3L1590.1 453.7L1590.5 449.0L1590.9 459.6L1591.3 460.9L1591.7 452.8L1592.1 447.3L1592.5 456.1L1592.9 454.3L1593.3 445.7L1593.7 439.1L1594.1 448.7L1594.5 448.5L1594.9 435.9L1595.3 434.8L1595.7 452.1L1596.1 453.2L1596.5 442.7L1596.9 440.2L1597.3 448.4L1597.7 456.2L1598.1 445.2L1598.5 438.6L1598.9 452.8L1599.3 444.8L1599.7 435.7L1600.1 432.0L1600.5 444.2L1600.9 440.9L1601.3 430.5L1601.7 433.5L1602.1 444.8L1602.5 444.8L1602.9 437.2L1603.3 432.4L1603.7 443.3L1604.1 452.4L1604.5 436.3L1604.9 444.5L1605.3 451.0L1605.7 456.1L1606.1 443.5L1606.5 441.1L1606.9 448.9L1607.3 451.2L1607.7 440.9L1608.1 440.6L1608.5 448.3L1608.9 452.0L1609.3 443.9L1609.7 444.6L1610.1 458.7L1610.5 455.7L1610.9 449.6L1611.3 449.8L1611.7 459.4L1612.1 455.9L1612.5 442.3L1612.9 449.0L1613.3 457.8L1613.7 463.9L1614.1 451.9L1614.5 461.3L1614.9 470.9L1615.3 469.8L1615.7 451.9L1616.1 452.9L1616.5 467.9L1616.9 468.6L1617.3 457.1L1617.7 450.4L1618.1 461.0L1618.5 461.4L1618.9 449.8L1619.3 455.9L1619.7 463.4L1620.1 462.2L1620.5 451.4L1620.9 451.4L1621.3 466.4L1621.7 464.2L1622.1 457.2L1622.5 457.2L1622.9 466.9L1623.3 463.7L1623.7 455.8L1624.1 445.0L1624.5 462.2L1624.9 461.5L1625.3 448.8L1625.7 461.7L1626.1 470.2L1626.5 467.8L1626.9 457.7L1627.3 466.9L1627.7 473.2L1628.1 478.1L1628.5 472.6L1628.9 467.9L1629.3 478.8L1629.7 480.5L1630.1 470.1L1630.5 474.0L1630.9 484.4L1631.3 484.7L1631.7 477.1L1632.1 479.7L1632.5 485.1L1632.9 491.8L1633.3 478.5L1633.7 486.2L1634.1 494.4L1634.5 498.7L1634.9 490.9L1635.3 483.9L1635.7 491.7L1636.1 495.0L1636.5 488.2L1636.9 482.0L1637.3 494.9L1637.7 500.9L1638.1 484.8L1638.5 479.4L1638.9 495.2L1639.3 487.9L1639.7 478.1L1640.1 473.6L1640.5 485.2L1640.9 494.0L1641.3 480.0L1641.7 484.2L1642.1 492.3L1642.5 494.1L1642.9 484.3L1643.3 489.1L1643.7 498.6L1644.1 495.3L1644.5 481.2L1644.9 477.3L1645.3 487.0L1645.7 496.0L1646.1 485.7L1646.5 483.3L1646.9 499.7L1647.3 490.9L1647.7 480.5L1648.1 487.4L1648.5 494.3L1648.9 497.8L1649.3 487.1L1649.7 485.5L1650.1 499.2L1650.5 494.4L1650.9 482.3L1651.3 486.7L1651.7 505.7L1652.1 503.3L1652.5 496.8L1652.9 497.6L1653.3 503.5L1653.7 508.1L1654.1 501.0L1654.5 497.4L1654.9 509.8L1655.3 514.0L1655.7 492.1L1656.1 494.6L1656.5 506.5L1656.9 508.1L1657.3 501.7L1657.7 505.7L1658.1 516.1L1658.5 521.1L1658.9 507.1L1659.3 505.1L1659.7 517.1L1660.1 515.0L1660.5 504.6L1660.9 508.6L1661.3 519.6L1661.7 518.3L1662.1 509.4L1662.5 513.6L1662.9 521.9L1663.3 520.1L1663.7 510.3L1664.1 508.6L1664.5 518.6L1664.9 527.1L1665.3 512.1L1665.7 509.1L1666.1 521.9L1666.5 527.7L1666.9 515.2L1667.3 517.3L1667.7 524.6L1668.1 522.0L1668.5 512.2L1668.9 514.1L1669.3 534.7L1669.7 524.7L1670.1 512.6L1670.5 510.3L1670.9 517.7L1671.3 520.2L1671.7 506.3L1672.1 511.7L1672.5 519.2L1672.9 535.1L1673.3 517.6L1673.7 515.1L1674.1 520.0L1674.5 522.1L1674.9 513.4L1675.3 515.6L1675.7 524.2L1676.1 524.8L1676.5 517.9L1676.9 512.1L1677.3 522.7L1677.7 521.7L1678.1 512.9L1678.5 515.3L1678.9 522.2L1679.3 526.7L1679.7 517.9L1680.1 513.0L1680.5 525.0L1680.9 526.1L1681.3 512.2L1681.7 519.4L1682.1 525.9L1682.5 528.9L1682.9 520.2L1683.3 517.1L1683.7 527.4L1684.1 528.1L1684.5 522.1L1684.9 522.1L1685.3 533.2L1685.7 526.1L1686.1 519.6L1686.5 519.6L1686.9 527.2L1687.3 530.9L1687.7 520.8L1688.1 520.9L1688.5 535.5L1688.9 525.1L1689.3 510.9L1689.7 519.1L1690.1 536.4L1690.5 534.4L1690.9 523.6L1691.3 519.0L1691.7 532.1L1692.1 533.7L1692.5 523.5L1692.9 511.4L1693.3 530.3L1693.7 527.7L1694.1 516.4L1694.5 521.8L1694.9 534.5L1695.3 532.1L1695.7 521.7L1696.1 521.8L1696.5 531.2L1696.9 541.5L1697.3 525.6L1697.7 527.1L1698.1 540.9L1698.5 530.9L1698.9 522.6L1699.3 505.4L1699.7 527.9L1700.1 532.8L1700.5 519.7L1700.9 530.5L1701.3 539.3L1701.7 538.1L1702.1 528.6L1702.5 529.1L1702.9 536.4L1703.3 536.9L1703.7 531.1L1704.1 525.2L1704.5 538.8L1704.9 533.8L1705.3 520.2L1705.7 526.3L1706.1 540.1L1706.5 544.4L1706.9 531.6L1707.3 532.4L1707.7 542.3L1708.1 546.2L1708.5 538.5L1708.9 536.4L1709.3 549.3L1709.7 550.8L1710.1 542.0"/>
</g>
<path d="M238.50 890.0V895.5M299.50 890.0V895.5M360.50 890.0V895.5M422.50 890.0V895.5M483.50 890.0V895.5M544.50 890.0V895.5M606.50 890.0V895.5M667.50 890.0V895.5M728.50 890.0V895.5M790.50 890.0V895.5M851.50 890.0V895.5M912.50 890.0V895.5M974.50 890.0V895.5M1035.50 890.0V895.5M1096.50 890.0V895.5M1158.50 890.0V895.5M1219.50 890.0V895.5M1281.50 890.0V895.5M1342.50 890.0V895.5M1403.50 890.0V895.5M1465.50 890.0V895.5M1526.50 890.0V895.5M1587.50 890.0V895.5M1649.50 890.0V895.5M1710.50 890.0V895.5M238 844.50H233.5M238 697.50H233.5M238 550.50H233.5M238 403.50H233.5M238 255.50H233.5" stroke="#000" stroke-width="1.11" fill="none"/>
<rect x="238.5" y="120.5" width="1472" height="770" fill="none" stroke="#000" stroke-width="1.11"/>
<g font-size="18.056" text-anchor="middle">
<text x="237.50" y="913.72">0</text>
<text x="298.85" y="913.72">1</text>
<text x="360.21" y="913.72">2</text>
<text x="421.56" y="913.72">3</text>
<text x="482.92" y="913.72">4</text>
<text x="544.27" y="913.72">5</text>
<text x="605.62" y="913.72">6</text>
<text x="666.98" y="913.72">7</text>
<text x="728.33" y="913.72">8</text>
<text x="789.69" y="913.72">9</text>
<text x="851.04" y="913.72">10</text>
<text x="912.40" y="913.72">11</text>
<text x="973.75" y="913.72">12</text>
<text x="1035.10" y="913.72">13</text>
<text x="1096.46" y="913.72">14</text>
<text x="1157.81" y="913.72">15</text>
<text x="1219.17" y="913.72">16</text>
<text x="1280.52" y="913.72">17</text>
<text x="1341.88" y="913.72">18</text>
<text x="1403.23" y="913.72">19</text>
<text x="1464.58" y="913.72">20</text>
<text x="1525.94" y="913.72">21</text>
<text x="1587.29" y="913.72">22</text>
<text x="1648.65" y="913.72">23</text>
<text x="1710.00" y="913.72">24</text>
<text x="973.75" y="937.28">UTC Hour</text>
</g>
<g font-size="18.056" text-anchor="end">
<text x="227.78" y="851.00">−40</text>
<text x="227.78" y="703.74">−20</text>
<text x="227.78" y="557.19">0</text>
<text x="227.78" y="409.23">20</text>
<text x="227.78" y="261.98">40</text>
</g>
<text font-size="18.056" text-anchor="middle" transform="translate(178.6 507) rotate(-90)">ΔB(nT)</text>
<g font-size="21.667" text-anchor="middle" style="white-space:pre">
<text x="973.75" y="42.07" xml:space="preserve">Magnetometer Plot (Component)</text>
<text x="973.75" y="65.27" xml:space="preserve">Node:  N0001016     Gridsquare:  EM69ut</text>
<text x="973.75" y="88.47" xml:space="preserve">Lat= 39.794550    Long= -86.315247    Elev= 252.3 m</text>
<text x="973.75" y="111.67" xml:space="preserve">2025-01-09  UTC</text>
</g>
<rect x="247.5" y="129.5" width="253" height="87" rx="3.6" ry="3.6" fill="#fff" fill-opacity="0.8" stroke="#ccc" stroke-opacity="0.8" stroke-width="1.39"/>
<path d="M253.75 144H289.86" stroke="#000" stroke-width="2.083" stroke-linecap="square" fill="none"/>
<path d="M253.75 171H289.86" stroke="#f00" stroke-width="2.083" stroke-linecap="square" fill="none"/>
<path d="M253.75 198H289.86" stroke="#00f" stroke-width="2.083" stroke-linecap="square" fill="none"/>
<g font-size="18.056">
<text x="304.31" y="150.25">Bx (Mean: 48566nT)</text>
<text x="304.31" y="177.28">By (Mean: -545nT)</text>
<text x="304.31" y="204.31">Bz (Mean: -20528nT)</text>
</g>
</svg></body></html>
